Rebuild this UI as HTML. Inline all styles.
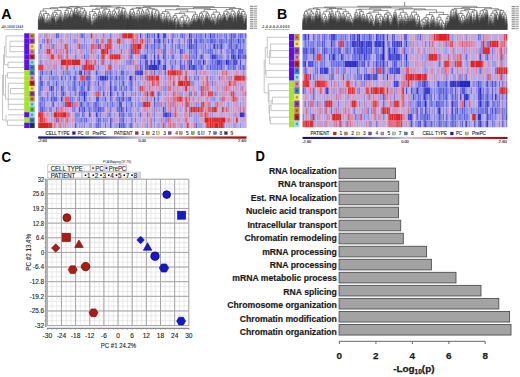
<!DOCTYPE html>
<html><head><meta charset="utf-8"><style>
html,body{margin:0;padding:0;background:#fff;}
body{width:520px;height:377px;position:relative;overflow:hidden;font-family:"Liberation Sans", sans-serif;}
</style></head><body>
<svg width="520" height="377" viewBox="0 0 520 377" style="position:absolute;left:0;top:0">
<g font-family='Liberation Sans, sans-serif' font-weight="bold" fill="#000">
<text transform="translate(1.3 18.5) scale(0.93 1)" font-size="15.4">A</text>
<text transform="translate(276.9 18.7) scale(0.95 1)" font-size="14.9">B</text>
<text transform="translate(1.5 161.5) scale(0.93 1)" font-size="14.2">C</text>
<text transform="translate(255.6 161.4) scale(0.93 1)" font-size="14">D</text>
</g>
<defs><filter id="bl" x="-1%" y="-2%" width="102%" height="104%"><feGaussianBlur stdDeviation="0.6 0.45"/></filter></defs>
<g filter="url(#bl)">
<path fill="#2828c0" d="M157.2 33.30h1.77v5.28h-1.77zM232.5 54.34h1.77v5.28h-1.77zM237.7 54.34h1.77v5.28h-1.77zM153.7 59.61h1.77v5.28h-1.77zM202.7 59.61h1.77v5.28h-1.77zM225.5 59.61h1.77v5.28h-1.77zM129.2 75.39h1.77v5.28h-1.77zM83.7 91.17h1.77v5.28h-1.77zM83.7 96.43h1.77v5.28h-1.77z"/>
<path fill="#3232c6" d="M188.7 33.30h1.77v5.28h-1.77zM153.7 38.56h1.77v5.28h-1.77zM213.2 43.82h1.77v5.28h-1.77zM153.7 54.34h1.77v5.28h-1.77zM211.5 54.34h1.77v5.28h-1.77zM159.0 59.61h1.77v5.28h-1.77zM152.0 64.87h1.77v5.28h-1.77zM153.7 64.87h1.77v5.28h-1.77zM155.5 64.87h1.77v5.28h-1.77zM164.2 64.87h1.77v5.28h-1.77zM188.7 64.87h1.77v5.28h-1.77zM80.2 70.13h1.77v5.28h-1.77zM101.2 75.39h1.77v5.28h-1.77zM104.7 75.39h1.77v5.28h-1.77zM110.0 91.17h1.77v5.28h-1.77zM239.5 112.22h1.77v5.28h-1.77zM241.2 112.22h1.77v5.28h-1.77z"/>
<path fill="#3b3dcd" d="M209.7 33.30h1.77v5.28h-1.77zM190.5 38.56h1.77v5.28h-1.77zM237.7 38.56h1.77v5.28h-1.77zM188.7 43.82h1.77v5.28h-1.77zM220.2 43.82h1.77v5.28h-1.77zM145.0 54.34h1.77v5.28h-1.77zM213.2 54.34h1.77v5.28h-1.77zM157.2 59.61h1.77v5.28h-1.77zM190.5 59.61h1.77v5.28h-1.77zM227.2 59.61h1.77v5.28h-1.77zM148.5 64.87h1.77v5.28h-1.77zM150.2 64.87h1.77v5.28h-1.77zM192.2 64.87h1.77v5.28h-1.77zM139.7 70.13h1.77v5.28h-1.77zM141.5 70.13h1.77v5.28h-1.77zM99.5 75.39h1.77v5.28h-1.77zM103.0 75.39h1.77v5.28h-1.77zM50.5 85.91h1.77v5.28h-1.77zM110.0 85.91h1.77v5.28h-1.77zM61.0 96.43h1.77v5.28h-1.77zM96.0 112.22h1.77v5.28h-1.77zM164.2 112.22h1.77v5.28h-1.77zM166.0 112.22h1.77v5.28h-1.77zM243.0 112.22h1.77v5.28h-1.77zM118.7 122.74h1.77v5.28h-1.77z"/>
<path fill="#4548d3" d="M139.7 33.30h1.77v5.28h-1.77zM146.7 33.30h1.77v5.28h-1.77zM162.5 33.30h1.77v5.28h-1.77zM164.2 33.30h1.77v5.28h-1.77zM159.0 38.56h1.77v5.28h-1.77zM188.7 38.56h1.77v5.28h-1.77zM195.7 38.56h1.77v5.28h-1.77zM190.5 43.82h1.77v5.28h-1.77zM195.7 43.82h1.77v5.28h-1.77zM180.0 49.08h1.77v5.28h-1.77zM157.2 54.34h1.77v5.28h-1.77zM162.5 54.34h1.77v5.28h-1.77zM201.0 54.34h1.77v5.28h-1.77zM230.7 54.34h1.77v5.28h-1.77zM150.2 59.61h1.77v5.28h-1.77zM216.7 59.61h1.77v5.28h-1.77zM218.5 59.61h1.77v5.28h-1.77zM236.0 59.61h1.77v5.28h-1.77zM239.5 59.61h1.77v5.28h-1.77zM146.7 64.87h1.77v5.28h-1.77zM157.2 64.87h1.77v5.28h-1.77zM162.5 64.87h1.77v5.28h-1.77zM194.0 64.87h1.77v5.28h-1.77zM50.5 70.13h1.77v5.28h-1.77zM136.2 70.13h1.77v5.28h-1.77zM138.0 70.13h1.77v5.28h-1.77zM106.5 75.39h1.77v5.28h-1.77zM61.0 85.91h1.77v5.28h-1.77zM62.7 91.17h1.77v5.28h-1.77zM146.7 91.17h1.77v5.28h-1.77zM50.5 96.43h1.77v5.28h-1.77zM122.2 96.43h1.77v5.28h-1.77zM129.2 96.43h1.77v5.28h-1.77zM153.7 96.43h1.77v5.28h-1.77zM80.2 101.69h1.77v5.28h-1.77zM78.5 106.96h1.77v5.28h-1.77zM83.7 106.96h1.77v5.28h-1.77zM97.7 106.96h1.77v5.28h-1.77zM120.5 106.96h1.77v5.28h-1.77zM162.5 106.96h1.77v5.28h-1.77zM89.0 112.22h1.77v5.28h-1.77zM169.5 112.22h1.77v5.28h-1.77z"/>
<path fill="#5154d8" d="M55.7 33.30h1.77v5.28h-1.77zM153.7 33.30h1.77v5.28h-1.77zM204.5 33.30h1.77v5.28h-1.77zM230.7 33.30h1.77v5.28h-1.77zM157.2 38.56h1.77v5.28h-1.77zM162.5 38.56h1.77v5.28h-1.77zM171.2 38.56h1.77v5.28h-1.77zM230.7 38.56h1.77v5.28h-1.77zM97.7 43.82h1.77v5.28h-1.77zM146.7 43.82h1.77v5.28h-1.77zM153.7 43.82h1.77v5.28h-1.77zM216.7 43.82h1.77v5.28h-1.77zM230.7 43.82h1.77v5.28h-1.77zM236.0 43.82h1.77v5.28h-1.77zM131.0 49.08h1.77v5.28h-1.77zM195.7 49.08h1.77v5.28h-1.77zM241.2 49.08h1.77v5.28h-1.77zM143.2 54.34h1.77v5.28h-1.77zM195.7 54.34h1.77v5.28h-1.77zM215.0 54.34h1.77v5.28h-1.77zM234.2 54.34h1.77v5.28h-1.77zM239.5 54.34h1.77v5.28h-1.77zM244.7 54.34h1.77v5.28h-1.77zM145.0 59.61h1.77v5.28h-1.77zM146.7 59.61h1.77v5.28h-1.77zM188.7 59.61h1.77v5.28h-1.77zM220.2 59.61h1.77v5.28h-1.77zM232.5 59.61h1.77v5.28h-1.77zM234.2 59.61h1.77v5.28h-1.77zM139.7 64.87h1.77v5.28h-1.77zM145.0 64.87h1.77v5.28h-1.77zM180.0 64.87h1.77v5.28h-1.77zM209.7 64.87h1.77v5.28h-1.77zM216.7 64.87h1.77v5.28h-1.77zM220.2 64.87h1.77v5.28h-1.77zM41.7 70.13h1.77v5.28h-1.77zM78.5 70.13h1.77v5.28h-1.77zM83.7 70.13h1.77v5.28h-1.77zM96.0 70.13h1.77v5.28h-1.77zM120.5 70.13h1.77v5.28h-1.77zM134.5 70.13h1.77v5.28h-1.77zM40.0 75.39h1.77v5.28h-1.77zM61.0 75.39h1.77v5.28h-1.77zM73.2 75.39h1.77v5.28h-1.77zM115.2 75.39h1.77v5.28h-1.77zM131.0 75.39h1.77v5.28h-1.77zM55.7 80.65h1.77v5.28h-1.77zM83.7 80.65h1.77v5.28h-1.77zM97.7 80.65h1.77v5.28h-1.77zM110.0 80.65h1.77v5.28h-1.77zM122.2 80.65h1.77v5.28h-1.77zM87.2 85.91h1.77v5.28h-1.77zM78.5 91.17h1.77v5.28h-1.77zM103.0 91.17h1.77v5.28h-1.77zM122.2 91.17h1.77v5.28h-1.77zM54.0 96.43h1.77v5.28h-1.77zM96.0 96.43h1.77v5.28h-1.77zM97.7 96.43h1.77v5.28h-1.77zM104.7 96.43h1.77v5.28h-1.77zM118.7 96.43h1.77v5.28h-1.77zM52.2 101.69h1.77v5.28h-1.77zM118.7 101.69h1.77v5.28h-1.77zM120.5 101.69h1.77v5.28h-1.77zM153.7 101.69h1.77v5.28h-1.77zM41.7 106.96h1.77v5.28h-1.77zM99.5 106.96h1.77v5.28h-1.77zM125.7 106.96h1.77v5.28h-1.77zM118.7 112.22h1.77v5.28h-1.77zM162.5 112.22h1.77v5.28h-1.77zM167.7 112.22h1.77v5.28h-1.77zM97.7 117.48h1.77v5.28h-1.77zM110.0 117.48h1.77v5.28h-1.77zM122.2 117.48h1.77v5.28h-1.77zM110.0 122.74h1.77v5.28h-1.77z"/>
<path fill="#5c60de" d="M57.5 33.30h1.77v5.28h-1.77zM181.7 33.30h1.77v5.28h-1.77zM190.5 33.30h1.77v5.28h-1.77zM213.2 33.30h1.77v5.28h-1.77zM239.5 33.30h1.77v5.28h-1.77zM244.7 33.30h1.77v5.28h-1.77zM167.7 38.56h1.77v5.28h-1.77zM194.0 38.56h1.77v5.28h-1.77zM199.2 38.56h1.77v5.28h-1.77zM209.7 38.56h1.77v5.28h-1.77zM211.5 38.56h1.77v5.28h-1.77zM220.2 38.56h1.77v5.28h-1.77zM243.0 38.56h1.77v5.28h-1.77zM164.2 43.82h1.77v5.28h-1.77zM178.2 43.82h1.77v5.28h-1.77zM153.7 49.08h1.77v5.28h-1.77zM209.7 49.08h1.77v5.28h-1.77zM230.7 49.08h1.77v5.28h-1.77zM232.5 49.08h1.77v5.28h-1.77zM237.7 49.08h1.77v5.28h-1.77zM239.5 49.08h1.77v5.28h-1.77zM83.7 54.34h1.77v5.28h-1.77zM131.0 54.34h1.77v5.28h-1.77zM188.7 54.34h1.77v5.28h-1.77zM243.0 54.34h1.77v5.28h-1.77zM139.7 59.61h1.77v5.28h-1.77zM180.0 59.61h1.77v5.28h-1.77zM197.5 59.61h1.77v5.28h-1.77zM211.5 59.61h1.77v5.28h-1.77zM171.2 64.87h1.77v5.28h-1.77zM183.5 64.87h1.77v5.28h-1.77zM190.5 64.87h1.77v5.28h-1.77zM201.0 64.87h1.77v5.28h-1.77zM232.5 64.87h1.77v5.28h-1.77zM239.5 64.87h1.77v5.28h-1.77zM243.0 64.87h1.77v5.28h-1.77zM122.2 70.13h1.77v5.28h-1.77zM153.7 70.13h1.77v5.28h-1.77zM164.2 70.13h1.77v5.28h-1.77zM69.7 75.39h1.77v5.28h-1.77zM85.5 75.39h1.77v5.28h-1.77zM87.2 75.39h1.77v5.28h-1.77zM89.0 75.39h1.77v5.28h-1.77zM110.0 75.39h1.77v5.28h-1.77zM40.0 80.65h1.77v5.28h-1.77zM41.7 80.65h1.77v5.28h-1.77zM73.2 80.65h1.77v5.28h-1.77zM78.5 80.65h1.77v5.28h-1.77zM131.0 80.65h1.77v5.28h-1.77zM52.2 85.91h1.77v5.28h-1.77zM73.2 85.91h1.77v5.28h-1.77zM120.5 85.91h1.77v5.28h-1.77zM82.0 91.17h1.77v5.28h-1.77zM157.2 91.17h1.77v5.28h-1.77zM41.7 96.43h1.77v5.28h-1.77zM55.7 96.43h1.77v5.28h-1.77zM78.5 96.43h1.77v5.28h-1.77zM110.0 96.43h1.77v5.28h-1.77zM64.5 101.69h1.77v5.28h-1.77zM94.2 101.69h1.77v5.28h-1.77zM40.0 106.96h1.77v5.28h-1.77zM118.7 106.96h1.77v5.28h-1.77zM122.2 112.22h1.77v5.28h-1.77zM139.7 112.22h1.77v5.28h-1.77zM55.7 117.48h1.77v5.28h-1.77zM85.5 117.48h1.77v5.28h-1.77zM75.0 122.74h1.77v5.28h-1.77zM97.7 122.74h1.77v5.28h-1.77zM122.2 122.74h1.77v5.28h-1.77zM195.7 122.74h1.77v5.28h-1.77z"/>
<path fill="#676ce2" d="M80.2 33.30h1.77v5.28h-1.77zM82.0 33.30h1.77v5.28h-1.77zM195.7 33.30h1.77v5.28h-1.77zM216.7 33.30h1.77v5.28h-1.77zM225.5 33.30h1.77v5.28h-1.77zM232.5 33.30h1.77v5.28h-1.77zM234.2 33.30h1.77v5.28h-1.77zM241.2 33.30h1.77v5.28h-1.77zM146.7 38.56h1.77v5.28h-1.77zM202.7 38.56h1.77v5.28h-1.77zM213.2 38.56h1.77v5.28h-1.77zM218.5 38.56h1.77v5.28h-1.77zM225.5 38.56h1.77v5.28h-1.77zM229.0 38.56h1.77v5.28h-1.77zM239.5 38.56h1.77v5.28h-1.77zM40.0 43.82h1.77v5.28h-1.77zM192.2 43.82h1.77v5.28h-1.77zM204.5 43.82h1.77v5.28h-1.77zM229.0 43.82h1.77v5.28h-1.77zM239.5 43.82h1.77v5.28h-1.77zM146.7 49.08h1.77v5.28h-1.77zM162.5 49.08h1.77v5.28h-1.77zM164.2 49.08h1.77v5.28h-1.77zM181.7 49.08h1.77v5.28h-1.77zM188.7 49.08h1.77v5.28h-1.77zM211.5 49.08h1.77v5.28h-1.77zM220.2 49.08h1.77v5.28h-1.77zM164.2 54.34h1.77v5.28h-1.77zM171.2 54.34h1.77v5.28h-1.77zM209.7 54.34h1.77v5.28h-1.77zM216.7 54.34h1.77v5.28h-1.77zM227.2 54.34h1.77v5.28h-1.77zM129.2 59.61h1.77v5.28h-1.77zM164.2 59.61h1.77v5.28h-1.77zM174.7 59.61h1.77v5.28h-1.77zM199.2 59.61h1.77v5.28h-1.77zM215.0 59.61h1.77v5.28h-1.77zM82.0 64.87h1.77v5.28h-1.77zM181.7 64.87h1.77v5.28h-1.77zM195.7 64.87h1.77v5.28h-1.77zM213.2 64.87h1.77v5.28h-1.77zM227.2 64.87h1.77v5.28h-1.77zM234.2 64.87h1.77v5.28h-1.77zM62.7 70.13h1.77v5.28h-1.77zM89.0 70.13h1.77v5.28h-1.77zM104.7 70.13h1.77v5.28h-1.77zM110.0 70.13h1.77v5.28h-1.77zM195.7 70.13h1.77v5.28h-1.77zM52.2 75.39h1.77v5.28h-1.77zM64.5 75.39h1.77v5.28h-1.77zM75.0 75.39h1.77v5.28h-1.77zM97.7 75.39h1.77v5.28h-1.77zM118.7 75.39h1.77v5.28h-1.77zM122.2 75.39h1.77v5.28h-1.77zM134.5 75.39h1.77v5.28h-1.77zM197.5 75.39h1.77v5.28h-1.77zM87.2 80.65h1.77v5.28h-1.77zM89.0 80.65h1.77v5.28h-1.77zM40.0 85.91h1.77v5.28h-1.77zM48.7 85.91h1.77v5.28h-1.77zM80.2 85.91h1.77v5.28h-1.77zM82.0 85.91h1.77v5.28h-1.77zM113.5 85.91h1.77v5.28h-1.77zM115.2 85.91h1.77v5.28h-1.77zM125.7 85.91h1.77v5.28h-1.77zM131.0 85.91h1.77v5.28h-1.77zM61.0 91.17h1.77v5.28h-1.77zM80.2 91.17h1.77v5.28h-1.77zM85.5 91.17h1.77v5.28h-1.77zM117.0 91.17h1.77v5.28h-1.77zM188.7 91.17h1.77v5.28h-1.77zM69.7 96.43h1.77v5.28h-1.77zM127.5 96.43h1.77v5.28h-1.77zM157.2 96.43h1.77v5.28h-1.77zM40.0 101.69h1.77v5.28h-1.77zM71.5 101.69h1.77v5.28h-1.77zM87.2 101.69h1.77v5.28h-1.77zM96.0 101.69h1.77v5.28h-1.77zM111.7 101.69h1.77v5.28h-1.77zM131.0 101.69h1.77v5.28h-1.77zM55.7 106.96h1.77v5.28h-1.77zM82.0 106.96h1.77v5.28h-1.77zM89.0 106.96h1.77v5.28h-1.77zM94.2 106.96h1.77v5.28h-1.77zM117.0 106.96h1.77v5.28h-1.77zM122.2 106.96h1.77v5.28h-1.77zM82.0 112.22h1.77v5.28h-1.77zM146.7 112.22h1.77v5.28h-1.77zM80.2 117.48h1.77v5.28h-1.77zM83.7 117.48h1.77v5.28h-1.77zM99.5 117.48h1.77v5.28h-1.77zM96.0 122.74h1.77v5.28h-1.77zM104.7 122.74h1.77v5.28h-1.77zM120.5 122.74h1.77v5.28h-1.77zM124.0 122.74h1.77v5.28h-1.77zM129.2 122.74h1.77v5.28h-1.77zM131.0 122.74h1.77v5.28h-1.77z"/>
<path fill="#7578e4" d="M110.0 33.30h1.77v5.28h-1.77zM148.5 33.30h1.77v5.28h-1.77zM171.2 33.30h1.77v5.28h-1.77zM173.0 33.30h1.77v5.28h-1.77zM180.0 33.30h1.77v5.28h-1.77zM183.5 33.30h1.77v5.28h-1.77zM199.2 33.30h1.77v5.28h-1.77zM201.0 33.30h1.77v5.28h-1.77zM211.5 33.30h1.77v5.28h-1.77zM223.7 33.30h1.77v5.28h-1.77zM237.7 33.30h1.77v5.28h-1.77zM43.5 38.56h1.77v5.28h-1.77zM50.5 38.56h1.77v5.28h-1.77zM96.0 38.56h1.77v5.28h-1.77zM178.2 38.56h1.77v5.28h-1.77zM183.5 38.56h1.77v5.28h-1.77zM201.0 38.56h1.77v5.28h-1.77zM206.2 38.56h1.77v5.28h-1.77zM215.0 38.56h1.77v5.28h-1.77zM232.5 38.56h1.77v5.28h-1.77zM52.2 43.82h1.77v5.28h-1.77zM145.0 43.82h1.77v5.28h-1.77zM150.2 43.82h1.77v5.28h-1.77zM157.2 43.82h1.77v5.28h-1.77zM159.0 43.82h1.77v5.28h-1.77zM171.2 43.82h1.77v5.28h-1.77zM174.7 43.82h1.77v5.28h-1.77zM194.0 43.82h1.77v5.28h-1.77zM209.7 43.82h1.77v5.28h-1.77zM234.2 43.82h1.77v5.28h-1.77zM110.0 49.08h1.77v5.28h-1.77zM120.5 49.08h1.77v5.28h-1.77zM190.5 49.08h1.77v5.28h-1.77zM194.0 49.08h1.77v5.28h-1.77zM202.7 49.08h1.77v5.28h-1.77zM208.0 49.08h1.77v5.28h-1.77zM234.2 49.08h1.77v5.28h-1.77zM75.0 54.34h1.77v5.28h-1.77zM97.7 54.34h1.77v5.28h-1.77zM129.2 54.34h1.77v5.28h-1.77zM139.7 54.34h1.77v5.28h-1.77zM141.5 54.34h1.77v5.28h-1.77zM173.0 54.34h1.77v5.28h-1.77zM180.0 54.34h1.77v5.28h-1.77zM192.2 54.34h1.77v5.28h-1.77zM199.2 54.34h1.77v5.28h-1.77zM241.2 54.34h1.77v5.28h-1.77zM103.0 59.61h1.77v5.28h-1.77zM169.5 59.61h1.77v5.28h-1.77zM183.5 59.61h1.77v5.28h-1.77zM187.0 59.61h1.77v5.28h-1.77zM204.5 59.61h1.77v5.28h-1.77zM229.0 59.61h1.77v5.28h-1.77zM230.7 59.61h1.77v5.28h-1.77zM97.7 64.87h1.77v5.28h-1.77zM141.5 64.87h1.77v5.28h-1.77zM199.2 64.87h1.77v5.28h-1.77zM206.2 64.87h1.77v5.28h-1.77zM211.5 64.87h1.77v5.28h-1.77zM215.0 64.87h1.77v5.28h-1.77zM218.5 64.87h1.77v5.28h-1.77zM40.0 70.13h1.77v5.28h-1.77zM66.2 70.13h1.77v5.28h-1.77zM75.0 70.13h1.77v5.28h-1.77zM87.2 70.13h1.77v5.28h-1.77zM106.5 70.13h1.77v5.28h-1.77zM48.7 75.39h1.77v5.28h-1.77zM188.7 75.39h1.77v5.28h-1.77zM194.0 75.39h1.77v5.28h-1.77zM218.5 75.39h1.77v5.28h-1.77zM82.0 80.65h1.77v5.28h-1.77zM118.7 80.65h1.77v5.28h-1.77zM129.2 80.65h1.77v5.28h-1.77zM211.5 80.65h1.77v5.28h-1.77zM55.7 85.91h1.77v5.28h-1.77zM62.7 85.91h1.77v5.28h-1.77zM75.0 85.91h1.77v5.28h-1.77zM83.7 85.91h1.77v5.28h-1.77zM124.0 85.91h1.77v5.28h-1.77zM129.2 85.91h1.77v5.28h-1.77zM47.0 91.17h1.77v5.28h-1.77zM52.2 91.17h1.77v5.28h-1.77zM55.7 91.17h1.77v5.28h-1.77zM69.7 91.17h1.77v5.28h-1.77zM75.0 91.17h1.77v5.28h-1.77zM190.5 91.17h1.77v5.28h-1.77zM40.0 96.43h1.77v5.28h-1.77zM43.5 96.43h1.77v5.28h-1.77zM47.0 96.43h1.77v5.28h-1.77zM52.2 96.43h1.77v5.28h-1.77zM71.5 96.43h1.77v5.28h-1.77zM117.0 96.43h1.77v5.28h-1.77zM120.5 96.43h1.77v5.28h-1.77zM125.7 96.43h1.77v5.28h-1.77zM146.7 96.43h1.77v5.28h-1.77zM188.7 96.43h1.77v5.28h-1.77zM43.5 101.69h1.77v5.28h-1.77zM97.7 101.69h1.77v5.28h-1.77zM106.5 101.69h1.77v5.28h-1.77zM125.7 101.69h1.77v5.28h-1.77zM43.5 106.96h1.77v5.28h-1.77zM73.2 106.96h1.77v5.28h-1.77zM96.0 106.96h1.77v5.28h-1.77zM101.2 106.96h1.77v5.28h-1.77zM103.0 106.96h1.77v5.28h-1.77zM110.0 106.96h1.77v5.28h-1.77zM164.2 106.96h1.77v5.28h-1.77zM188.7 106.96h1.77v5.28h-1.77zM99.5 112.22h1.77v5.28h-1.77zM108.2 112.22h1.77v5.28h-1.77zM120.5 112.22h1.77v5.28h-1.77zM129.2 112.22h1.77v5.28h-1.77zM188.7 112.22h1.77v5.28h-1.77zM103.0 117.48h1.77v5.28h-1.77zM131.0 117.48h1.77v5.28h-1.77zM134.5 117.48h1.77v5.28h-1.77zM153.7 117.48h1.77v5.28h-1.77zM99.5 122.74h1.77v5.28h-1.77z"/>
<path fill="#8384e6" d="M83.7 33.30h1.77v5.28h-1.77zM103.0 33.30h1.77v5.28h-1.77zM152.0 33.30h1.77v5.28h-1.77zM159.0 33.30h1.77v5.28h-1.77zM176.5 33.30h1.77v5.28h-1.77zM197.5 33.30h1.77v5.28h-1.77zM229.0 33.30h1.77v5.28h-1.77zM41.7 38.56h1.77v5.28h-1.77zM73.2 38.56h1.77v5.28h-1.77zM83.7 38.56h1.77v5.28h-1.77zM97.7 38.56h1.77v5.28h-1.77zM106.5 38.56h1.77v5.28h-1.77zM148.5 38.56h1.77v5.28h-1.77zM155.5 38.56h1.77v5.28h-1.77zM164.2 38.56h1.77v5.28h-1.77zM187.0 38.56h1.77v5.28h-1.77zM208.0 38.56h1.77v5.28h-1.77zM222.0 38.56h1.77v5.28h-1.77zM223.7 38.56h1.77v5.28h-1.77zM234.2 38.56h1.77v5.28h-1.77zM236.0 38.56h1.77v5.28h-1.77zM241.2 38.56h1.77v5.28h-1.77zM82.0 43.82h1.77v5.28h-1.77zM85.5 43.82h1.77v5.28h-1.77zM118.7 43.82h1.77v5.28h-1.77zM129.2 43.82h1.77v5.28h-1.77zM152.0 43.82h1.77v5.28h-1.77zM162.5 43.82h1.77v5.28h-1.77zM183.5 43.82h1.77v5.28h-1.77zM187.0 43.82h1.77v5.28h-1.77zM201.0 43.82h1.77v5.28h-1.77zM215.0 43.82h1.77v5.28h-1.77zM218.5 43.82h1.77v5.28h-1.77zM222.0 43.82h1.77v5.28h-1.77zM227.2 43.82h1.77v5.28h-1.77zM232.5 43.82h1.77v5.28h-1.77zM243.0 43.82h1.77v5.28h-1.77zM55.7 49.08h1.77v5.28h-1.77zM69.7 49.08h1.77v5.28h-1.77zM129.2 49.08h1.77v5.28h-1.77zM171.2 49.08h1.77v5.28h-1.77zM174.7 49.08h1.77v5.28h-1.77zM183.5 49.08h1.77v5.28h-1.77zM215.0 49.08h1.77v5.28h-1.77zM225.5 49.08h1.77v5.28h-1.77zM227.2 49.08h1.77v5.28h-1.77zM61.0 54.34h1.77v5.28h-1.77zM87.2 54.34h1.77v5.28h-1.77zM146.7 54.34h1.77v5.28h-1.77zM190.5 54.34h1.77v5.28h-1.77zM194.0 54.34h1.77v5.28h-1.77zM202.7 54.34h1.77v5.28h-1.77zM218.5 54.34h1.77v5.28h-1.77zM220.2 54.34h1.77v5.28h-1.77zM40.0 59.61h1.77v5.28h-1.77zM110.0 59.61h1.77v5.28h-1.77zM194.0 59.61h1.77v5.28h-1.77zM195.7 59.61h1.77v5.28h-1.77zM209.7 59.61h1.77v5.28h-1.77zM213.2 59.61h1.77v5.28h-1.77zM222.0 59.61h1.77v5.28h-1.77zM223.7 59.61h1.77v5.28h-1.77zM61.0 64.87h1.77v5.28h-1.77zM73.2 64.87h1.77v5.28h-1.77zM134.5 64.87h1.77v5.28h-1.77zM197.5 64.87h1.77v5.28h-1.77zM229.0 64.87h1.77v5.28h-1.77zM230.7 64.87h1.77v5.28h-1.77zM237.7 64.87h1.77v5.28h-1.77zM241.2 64.87h1.77v5.28h-1.77zM45.2 70.13h1.77v5.28h-1.77zM108.2 70.13h1.77v5.28h-1.77zM115.2 70.13h1.77v5.28h-1.77zM150.2 70.13h1.77v5.28h-1.77zM96.0 75.39h1.77v5.28h-1.77zM111.7 75.39h1.77v5.28h-1.77zM120.5 75.39h1.77v5.28h-1.77zM139.7 75.39h1.77v5.28h-1.77zM145.0 75.39h1.77v5.28h-1.77zM209.7 75.39h1.77v5.28h-1.77zM230.7 75.39h1.77v5.28h-1.77zM47.0 80.65h1.77v5.28h-1.77zM48.7 80.65h1.77v5.28h-1.77zM52.2 80.65h1.77v5.28h-1.77zM62.7 80.65h1.77v5.28h-1.77zM75.0 80.65h1.77v5.28h-1.77zM94.2 80.65h1.77v5.28h-1.77zM103.0 80.65h1.77v5.28h-1.77zM38.2 85.91h1.77v5.28h-1.77zM41.7 85.91h1.77v5.28h-1.77zM71.5 85.91h1.77v5.28h-1.77zM89.0 85.91h1.77v5.28h-1.77zM97.7 85.91h1.77v5.28h-1.77zM99.5 85.91h1.77v5.28h-1.77zM118.7 85.91h1.77v5.28h-1.77zM164.2 85.91h1.77v5.28h-1.77zM38.2 91.17h1.77v5.28h-1.77zM40.0 91.17h1.77v5.28h-1.77zM50.5 91.17h1.77v5.28h-1.77zM64.5 91.17h1.77v5.28h-1.77zM106.5 91.17h1.77v5.28h-1.77zM111.7 91.17h1.77v5.28h-1.77zM131.0 91.17h1.77v5.28h-1.77zM134.5 91.17h1.77v5.28h-1.77zM139.7 91.17h1.77v5.28h-1.77zM159.0 91.17h1.77v5.28h-1.77zM195.7 91.17h1.77v5.28h-1.77zM202.7 91.17h1.77v5.28h-1.77zM215.0 91.17h1.77v5.28h-1.77zM76.7 96.43h1.77v5.28h-1.77zM85.5 96.43h1.77v5.28h-1.77zM115.2 96.43h1.77v5.28h-1.77zM213.2 96.43h1.77v5.28h-1.77zM41.7 101.69h1.77v5.28h-1.77zM62.7 101.69h1.77v5.28h-1.77zM82.0 101.69h1.77v5.28h-1.77zM85.5 101.69h1.77v5.28h-1.77zM92.5 101.69h1.77v5.28h-1.77zM110.0 101.69h1.77v5.28h-1.77zM134.5 101.69h1.77v5.28h-1.77zM164.2 101.69h1.77v5.28h-1.77zM195.7 101.69h1.77v5.28h-1.77zM48.7 106.96h1.77v5.28h-1.77zM50.5 106.96h1.77v5.28h-1.77zM71.5 106.96h1.77v5.28h-1.77zM80.2 106.96h1.77v5.28h-1.77zM87.2 106.96h1.77v5.28h-1.77zM92.5 106.96h1.77v5.28h-1.77zM129.2 106.96h1.77v5.28h-1.77zM153.7 106.96h1.77v5.28h-1.77zM75.0 112.22h1.77v5.28h-1.77zM76.7 112.22h1.77v5.28h-1.77zM78.5 112.22h1.77v5.28h-1.77zM83.7 112.22h1.77v5.28h-1.77zM110.0 112.22h1.77v5.28h-1.77zM127.5 112.22h1.77v5.28h-1.77zM131.0 112.22h1.77v5.28h-1.77zM153.7 112.22h1.77v5.28h-1.77zM61.0 117.48h1.77v5.28h-1.77zM75.0 117.48h1.77v5.28h-1.77zM96.0 117.48h1.77v5.28h-1.77zM118.7 117.48h1.77v5.28h-1.77zM120.5 117.48h1.77v5.28h-1.77zM166.0 117.48h1.77v5.28h-1.77zM83.7 122.74h1.77v5.28h-1.77zM146.7 122.74h1.77v5.28h-1.77z"/>
<path fill="#9190e7" d="M69.7 33.30h1.77v5.28h-1.77zM145.0 33.30h1.77v5.28h-1.77zM150.2 33.30h1.77v5.28h-1.77zM192.2 33.30h1.77v5.28h-1.77zM194.0 33.30h1.77v5.28h-1.77zM208.0 33.30h1.77v5.28h-1.77zM218.5 33.30h1.77v5.28h-1.77zM220.2 33.30h1.77v5.28h-1.77zM61.0 38.56h1.77v5.28h-1.77zM69.7 38.56h1.77v5.28h-1.77zM75.0 38.56h1.77v5.28h-1.77zM103.0 38.56h1.77v5.28h-1.77zM134.5 38.56h1.77v5.28h-1.77zM145.0 38.56h1.77v5.28h-1.77zM197.5 38.56h1.77v5.28h-1.77zM204.5 38.56h1.77v5.28h-1.77zM216.7 38.56h1.77v5.28h-1.77zM227.2 38.56h1.77v5.28h-1.77zM50.5 43.82h1.77v5.28h-1.77zM69.7 43.82h1.77v5.28h-1.77zM80.2 43.82h1.77v5.28h-1.77zM83.7 43.82h1.77v5.28h-1.77zM125.7 43.82h1.77v5.28h-1.77zM155.5 43.82h1.77v5.28h-1.77zM176.5 43.82h1.77v5.28h-1.77zM181.7 43.82h1.77v5.28h-1.77zM202.7 43.82h1.77v5.28h-1.77zM208.0 43.82h1.77v5.28h-1.77zM237.7 43.82h1.77v5.28h-1.77zM62.7 49.08h1.77v5.28h-1.77zM85.5 49.08h1.77v5.28h-1.77zM139.7 49.08h1.77v5.28h-1.77zM150.2 49.08h1.77v5.28h-1.77zM152.0 49.08h1.77v5.28h-1.77zM160.7 49.08h1.77v5.28h-1.77zM192.2 49.08h1.77v5.28h-1.77zM204.5 49.08h1.77v5.28h-1.77zM206.2 49.08h1.77v5.28h-1.77zM229.0 49.08h1.77v5.28h-1.77zM243.0 49.08h1.77v5.28h-1.77zM244.7 49.08h1.77v5.28h-1.77zM85.5 54.34h1.77v5.28h-1.77zM150.2 54.34h1.77v5.28h-1.77zM167.7 54.34h1.77v5.28h-1.77zM222.0 54.34h1.77v5.28h-1.77zM225.5 54.34h1.77v5.28h-1.77zM236.0 54.34h1.77v5.28h-1.77zM89.0 59.61h1.77v5.28h-1.77zM97.7 59.61h1.77v5.28h-1.77zM125.7 59.61h1.77v5.28h-1.77zM127.5 59.61h1.77v5.28h-1.77zM131.0 59.61h1.77v5.28h-1.77zM152.0 59.61h1.77v5.28h-1.77zM171.2 59.61h1.77v5.28h-1.77zM244.7 59.61h1.77v5.28h-1.77zM55.7 64.87h1.77v5.28h-1.77zM118.7 64.87h1.77v5.28h-1.77zM159.0 64.87h1.77v5.28h-1.77zM160.7 64.87h1.77v5.28h-1.77zM187.0 64.87h1.77v5.28h-1.77zM202.7 64.87h1.77v5.28h-1.77zM208.0 64.87h1.77v5.28h-1.77zM222.0 64.87h1.77v5.28h-1.77zM223.7 64.87h1.77v5.28h-1.77zM244.7 64.87h1.77v5.28h-1.77zM48.7 70.13h1.77v5.28h-1.77zM55.7 70.13h1.77v5.28h-1.77zM64.5 70.13h1.77v5.28h-1.77zM68.0 70.13h1.77v5.28h-1.77zM69.7 70.13h1.77v5.28h-1.77zM111.7 70.13h1.77v5.28h-1.77zM125.7 70.13h1.77v5.28h-1.77zM127.5 70.13h1.77v5.28h-1.77zM157.2 70.13h1.77v5.28h-1.77zM159.0 70.13h1.77v5.28h-1.77zM216.7 70.13h1.77v5.28h-1.77zM243.0 70.13h1.77v5.28h-1.77zM50.5 75.39h1.77v5.28h-1.77zM54.0 75.39h1.77v5.28h-1.77zM55.7 75.39h1.77v5.28h-1.77zM57.5 75.39h1.77v5.28h-1.77zM68.0 75.39h1.77v5.28h-1.77zM113.5 75.39h1.77v5.28h-1.77zM117.0 75.39h1.77v5.28h-1.77zM125.7 75.39h1.77v5.28h-1.77zM164.2 75.39h1.77v5.28h-1.77zM195.7 75.39h1.77v5.28h-1.77zM211.5 75.39h1.77v5.28h-1.77zM227.2 75.39h1.77v5.28h-1.77zM38.2 80.65h1.77v5.28h-1.77zM57.5 80.65h1.77v5.28h-1.77zM68.0 80.65h1.77v5.28h-1.77zM71.5 80.65h1.77v5.28h-1.77zM80.2 80.65h1.77v5.28h-1.77zM101.2 80.65h1.77v5.28h-1.77zM113.5 80.65h1.77v5.28h-1.77zM115.2 80.65h1.77v5.28h-1.77zM134.5 80.65h1.77v5.28h-1.77zM138.0 80.65h1.77v5.28h-1.77zM190.5 80.65h1.77v5.28h-1.77zM192.2 80.65h1.77v5.28h-1.77zM57.5 85.91h1.77v5.28h-1.77zM68.0 85.91h1.77v5.28h-1.77zM69.7 85.91h1.77v5.28h-1.77zM78.5 85.91h1.77v5.28h-1.77zM101.2 85.91h1.77v5.28h-1.77zM103.0 85.91h1.77v5.28h-1.77zM138.0 85.91h1.77v5.28h-1.77zM162.5 85.91h1.77v5.28h-1.77zM188.7 85.91h1.77v5.28h-1.77zM199.2 85.91h1.77v5.28h-1.77zM204.5 85.91h1.77v5.28h-1.77zM94.2 91.17h1.77v5.28h-1.77zM99.5 91.17h1.77v5.28h-1.77zM120.5 91.17h1.77v5.28h-1.77zM125.7 91.17h1.77v5.28h-1.77zM164.2 91.17h1.77v5.28h-1.77zM73.2 96.43h1.77v5.28h-1.77zM82.0 96.43h1.77v5.28h-1.77zM89.0 96.43h1.77v5.28h-1.77zM101.2 96.43h1.77v5.28h-1.77zM103.0 96.43h1.77v5.28h-1.77zM111.7 96.43h1.77v5.28h-1.77zM124.0 96.43h1.77v5.28h-1.77zM134.5 96.43h1.77v5.28h-1.77zM138.0 96.43h1.77v5.28h-1.77zM38.2 101.69h1.77v5.28h-1.77zM57.5 101.69h1.77v5.28h-1.77zM78.5 101.69h1.77v5.28h-1.77zM83.7 101.69h1.77v5.28h-1.77zM99.5 101.69h1.77v5.28h-1.77zM113.5 101.69h1.77v5.28h-1.77zM117.0 101.69h1.77v5.28h-1.77zM129.2 101.69h1.77v5.28h-1.77zM138.0 101.69h1.77v5.28h-1.77zM139.7 101.69h1.77v5.28h-1.77zM141.5 101.69h1.77v5.28h-1.77zM155.5 101.69h1.77v5.28h-1.77zM157.2 101.69h1.77v5.28h-1.77zM159.0 101.69h1.77v5.28h-1.77zM171.2 101.69h1.77v5.28h-1.77zM188.7 101.69h1.77v5.28h-1.77zM197.5 101.69h1.77v5.28h-1.77zM209.7 101.69h1.77v5.28h-1.77zM227.2 101.69h1.77v5.28h-1.77zM239.5 101.69h1.77v5.28h-1.77zM45.2 106.96h1.77v5.28h-1.77zM90.7 106.96h1.77v5.28h-1.77zM138.0 106.96h1.77v5.28h-1.77zM202.7 106.96h1.77v5.28h-1.77zM50.5 112.22h1.77v5.28h-1.77zM97.7 112.22h1.77v5.28h-1.77zM106.5 112.22h1.77v5.28h-1.77zM113.5 112.22h1.77v5.28h-1.77zM124.0 112.22h1.77v5.28h-1.77zM134.5 112.22h1.77v5.28h-1.77zM171.2 112.22h1.77v5.28h-1.77zM190.5 112.22h1.77v5.28h-1.77zM195.7 112.22h1.77v5.28h-1.77zM211.5 112.22h1.77v5.28h-1.77zM234.2 112.22h1.77v5.28h-1.77zM76.7 117.48h1.77v5.28h-1.77zM78.5 117.48h1.77v5.28h-1.77zM82.0 117.48h1.77v5.28h-1.77zM104.7 117.48h1.77v5.28h-1.77zM106.5 117.48h1.77v5.28h-1.77zM111.7 117.48h1.77v5.28h-1.77zM125.7 117.48h1.77v5.28h-1.77zM146.7 117.48h1.77v5.28h-1.77zM164.2 117.48h1.77v5.28h-1.77zM195.7 117.48h1.77v5.28h-1.77zM78.5 122.74h1.77v5.28h-1.77zM89.0 122.74h1.77v5.28h-1.77zM90.7 122.74h1.77v5.28h-1.77zM94.2 122.74h1.77v5.28h-1.77zM115.2 122.74h1.77v5.28h-1.77zM153.7 122.74h1.77v5.28h-1.77zM157.2 122.74h1.77v5.28h-1.77zM164.2 122.74h1.77v5.28h-1.77zM239.5 122.74h1.77v5.28h-1.77z"/>
<path fill="#a09be8" d="M43.5 33.30h1.77v5.28h-1.77zM61.0 33.30h1.77v5.28h-1.77zM118.7 33.30h1.77v5.28h-1.77zM120.5 33.30h1.77v5.28h-1.77zM134.5 33.30h1.77v5.28h-1.77zM141.5 33.30h1.77v5.28h-1.77zM166.0 33.30h1.77v5.28h-1.77zM174.7 33.30h1.77v5.28h-1.77zM202.7 33.30h1.77v5.28h-1.77zM206.2 33.30h1.77v5.28h-1.77zM215.0 33.30h1.77v5.28h-1.77zM222.0 33.30h1.77v5.28h-1.77zM243.0 33.30h1.77v5.28h-1.77zM48.7 38.56h1.77v5.28h-1.77zM55.7 38.56h1.77v5.28h-1.77zM122.2 38.56h1.77v5.28h-1.77zM244.7 38.56h1.77v5.28h-1.77zM47.0 43.82h1.77v5.28h-1.77zM55.7 43.82h1.77v5.28h-1.77zM61.0 43.82h1.77v5.28h-1.77zM103.0 43.82h1.77v5.28h-1.77zM122.2 43.82h1.77v5.28h-1.77zM148.5 43.82h1.77v5.28h-1.77zM169.5 43.82h1.77v5.28h-1.77zM180.0 43.82h1.77v5.28h-1.77zM197.5 43.82h1.77v5.28h-1.77zM199.2 43.82h1.77v5.28h-1.77zM211.5 43.82h1.77v5.28h-1.77zM223.7 43.82h1.77v5.28h-1.77zM241.2 43.82h1.77v5.28h-1.77zM244.7 43.82h1.77v5.28h-1.77zM38.2 49.08h1.77v5.28h-1.77zM50.5 49.08h1.77v5.28h-1.77zM75.0 49.08h1.77v5.28h-1.77zM87.2 49.08h1.77v5.28h-1.77zM94.2 49.08h1.77v5.28h-1.77zM113.5 49.08h1.77v5.28h-1.77zM143.2 49.08h1.77v5.28h-1.77zM145.0 49.08h1.77v5.28h-1.77zM148.5 49.08h1.77v5.28h-1.77zM173.0 49.08h1.77v5.28h-1.77zM178.2 49.08h1.77v5.28h-1.77zM197.5 49.08h1.77v5.28h-1.77zM201.0 49.08h1.77v5.28h-1.77zM216.7 49.08h1.77v5.28h-1.77zM236.0 49.08h1.77v5.28h-1.77zM40.0 54.34h1.77v5.28h-1.77zM62.7 54.34h1.77v5.28h-1.77zM80.2 54.34h1.77v5.28h-1.77zM96.0 54.34h1.77v5.28h-1.77zM159.0 54.34h1.77v5.28h-1.77zM45.2 59.61h1.77v5.28h-1.77zM141.5 59.61h1.77v5.28h-1.77zM143.2 59.61h1.77v5.28h-1.77zM155.5 59.61h1.77v5.28h-1.77zM162.5 59.61h1.77v5.28h-1.77zM173.0 59.61h1.77v5.28h-1.77zM178.2 59.61h1.77v5.28h-1.77zM201.0 59.61h1.77v5.28h-1.77zM208.0 59.61h1.77v5.28h-1.77zM52.2 64.87h1.77v5.28h-1.77zM78.5 64.87h1.77v5.28h-1.77zM96.0 64.87h1.77v5.28h-1.77zM113.5 64.87h1.77v5.28h-1.77zM120.5 64.87h1.77v5.28h-1.77zM122.2 64.87h1.77v5.28h-1.77zM173.0 64.87h1.77v5.28h-1.77zM174.7 64.87h1.77v5.28h-1.77zM43.5 70.13h1.77v5.28h-1.77zM47.0 70.13h1.77v5.28h-1.77zM54.0 70.13h1.77v5.28h-1.77zM61.0 70.13h1.77v5.28h-1.77zM73.2 70.13h1.77v5.28h-1.77zM76.7 70.13h1.77v5.28h-1.77zM94.2 70.13h1.77v5.28h-1.77zM97.7 70.13h1.77v5.28h-1.77zM99.5 70.13h1.77v5.28h-1.77zM113.5 70.13h1.77v5.28h-1.77zM118.7 70.13h1.77v5.28h-1.77zM124.0 70.13h1.77v5.28h-1.77zM131.0 70.13h1.77v5.28h-1.77zM146.7 70.13h1.77v5.28h-1.77zM213.2 70.13h1.77v5.28h-1.77zM38.2 75.39h1.77v5.28h-1.77zM41.7 75.39h1.77v5.28h-1.77zM62.7 75.39h1.77v5.28h-1.77zM108.2 75.39h1.77v5.28h-1.77zM190.5 75.39h1.77v5.28h-1.77zM213.2 75.39h1.77v5.28h-1.77zM220.2 75.39h1.77v5.28h-1.77zM43.5 80.65h1.77v5.28h-1.77zM54.0 80.65h1.77v5.28h-1.77zM61.0 80.65h1.77v5.28h-1.77zM66.2 80.65h1.77v5.28h-1.77zM69.7 80.65h1.77v5.28h-1.77zM76.7 80.65h1.77v5.28h-1.77zM85.5 80.65h1.77v5.28h-1.77zM96.0 80.65h1.77v5.28h-1.77zM104.7 80.65h1.77v5.28h-1.77zM120.5 80.65h1.77v5.28h-1.77zM124.0 80.65h1.77v5.28h-1.77zM127.5 80.65h1.77v5.28h-1.77zM146.7 80.65h1.77v5.28h-1.77zM164.2 80.65h1.77v5.28h-1.77zM197.5 80.65h1.77v5.28h-1.77zM209.7 80.65h1.77v5.28h-1.77zM215.0 80.65h1.77v5.28h-1.77zM237.7 80.65h1.77v5.28h-1.77zM64.5 85.91h1.77v5.28h-1.77zM94.2 85.91h1.77v5.28h-1.77zM96.0 85.91h1.77v5.28h-1.77zM104.7 85.91h1.77v5.28h-1.77zM111.7 85.91h1.77v5.28h-1.77zM122.2 85.91h1.77v5.28h-1.77zM134.5 85.91h1.77v5.28h-1.77zM166.0 85.91h1.77v5.28h-1.77zM197.5 85.91h1.77v5.28h-1.77zM211.5 85.91h1.77v5.28h-1.77zM222.0 85.91h1.77v5.28h-1.77zM232.5 85.91h1.77v5.28h-1.77zM239.5 85.91h1.77v5.28h-1.77zM73.2 91.17h1.77v5.28h-1.77zM87.2 91.17h1.77v5.28h-1.77zM113.5 91.17h1.77v5.28h-1.77zM132.7 91.17h1.77v5.28h-1.77zM138.0 91.17h1.77v5.28h-1.77zM153.7 91.17h1.77v5.28h-1.77zM160.7 91.17h1.77v5.28h-1.77zM176.5 91.17h1.77v5.28h-1.77zM180.0 91.17h1.77v5.28h-1.77zM181.7 91.17h1.77v5.28h-1.77zM213.2 91.17h1.77v5.28h-1.77zM234.2 91.17h1.77v5.28h-1.77zM38.2 96.43h1.77v5.28h-1.77zM45.2 96.43h1.77v5.28h-1.77zM57.5 96.43h1.77v5.28h-1.77zM62.7 96.43h1.77v5.28h-1.77zM80.2 96.43h1.77v5.28h-1.77zM99.5 96.43h1.77v5.28h-1.77zM131.0 96.43h1.77v5.28h-1.77zM145.0 96.43h1.77v5.28h-1.77zM209.7 96.43h1.77v5.28h-1.77zM211.5 96.43h1.77v5.28h-1.77zM218.5 96.43h1.77v5.28h-1.77zM220.2 96.43h1.77v5.28h-1.77zM50.5 101.69h1.77v5.28h-1.77zM61.0 101.69h1.77v5.28h-1.77zM89.0 101.69h1.77v5.28h-1.77zM90.7 101.69h1.77v5.28h-1.77zM103.0 101.69h1.77v5.28h-1.77zM104.7 101.69h1.77v5.28h-1.77zM108.2 101.69h1.77v5.28h-1.77zM115.2 101.69h1.77v5.28h-1.77zM127.5 101.69h1.77v5.28h-1.77zM190.5 101.69h1.77v5.28h-1.77zM38.2 106.96h1.77v5.28h-1.77zM64.5 106.96h1.77v5.28h-1.77zM75.0 106.96h1.77v5.28h-1.77zM85.5 106.96h1.77v5.28h-1.77zM108.2 106.96h1.77v5.28h-1.77zM115.2 106.96h1.77v5.28h-1.77zM127.5 106.96h1.77v5.28h-1.77zM131.0 106.96h1.77v5.28h-1.77zM136.2 106.96h1.77v5.28h-1.77zM146.7 106.96h1.77v5.28h-1.77zM159.0 106.96h1.77v5.28h-1.77zM180.0 106.96h1.77v5.28h-1.77zM216.7 106.96h1.77v5.28h-1.77zM52.2 112.22h1.77v5.28h-1.77zM94.2 112.22h1.77v5.28h-1.77zM125.7 112.22h1.77v5.28h-1.77zM138.0 112.22h1.77v5.28h-1.77zM152.0 112.22h1.77v5.28h-1.77zM194.0 112.22h1.77v5.28h-1.77zM197.5 112.22h1.77v5.28h-1.77zM209.7 112.22h1.77v5.28h-1.77zM50.5 117.48h1.77v5.28h-1.77zM64.5 117.48h1.77v5.28h-1.77zM87.2 117.48h1.77v5.28h-1.77zM90.7 117.48h1.77v5.28h-1.77zM139.7 117.48h1.77v5.28h-1.77zM162.5 117.48h1.77v5.28h-1.77zM176.5 117.48h1.77v5.28h-1.77zM194.0 117.48h1.77v5.28h-1.77zM197.5 117.48h1.77v5.28h-1.77zM232.5 117.48h1.77v5.28h-1.77zM62.7 122.74h1.77v5.28h-1.77zM80.2 122.74h1.77v5.28h-1.77zM82.0 122.74h1.77v5.28h-1.77zM113.5 122.74h1.77v5.28h-1.77zM117.0 122.74h1.77v5.28h-1.77zM125.7 122.74h1.77v5.28h-1.77zM136.2 122.74h1.77v5.28h-1.77zM145.0 122.74h1.77v5.28h-1.77zM159.0 122.74h1.77v5.28h-1.77zM180.0 122.74h1.77v5.28h-1.77zM181.7 122.74h1.77v5.28h-1.77zM197.5 122.74h1.77v5.28h-1.77zM199.2 122.74h1.77v5.28h-1.77zM201.0 122.74h1.77v5.28h-1.77zM223.7 122.74h1.77v5.28h-1.77zM232.5 122.74h1.77v5.28h-1.77zM234.2 122.74h1.77v5.28h-1.77z"/>
<path fill="#afa6e9" d="M40.0 33.30h1.77v5.28h-1.77zM48.7 33.30h1.77v5.28h-1.77zM73.2 33.30h1.77v5.28h-1.77zM75.0 33.30h1.77v5.28h-1.77zM85.5 33.30h1.77v5.28h-1.77zM87.2 33.30h1.77v5.28h-1.77zM94.2 33.30h1.77v5.28h-1.77zM108.2 33.30h1.77v5.28h-1.77zM113.5 33.30h1.77v5.28h-1.77zM187.0 33.30h1.77v5.28h-1.77zM236.0 33.30h1.77v5.28h-1.77zM85.5 38.56h1.77v5.28h-1.77zM94.2 38.56h1.77v5.28h-1.77zM124.0 38.56h1.77v5.28h-1.77zM129.2 38.56h1.77v5.28h-1.77zM160.7 38.56h1.77v5.28h-1.77zM166.0 38.56h1.77v5.28h-1.77zM174.7 38.56h1.77v5.28h-1.77zM176.5 38.56h1.77v5.28h-1.77zM180.0 38.56h1.77v5.28h-1.77zM38.2 43.82h1.77v5.28h-1.77zM87.2 43.82h1.77v5.28h-1.77zM89.0 43.82h1.77v5.28h-1.77zM124.0 43.82h1.77v5.28h-1.77zM167.7 43.82h1.77v5.28h-1.77zM173.0 43.82h1.77v5.28h-1.77zM185.2 43.82h1.77v5.28h-1.77zM225.5 43.82h1.77v5.28h-1.77zM40.0 49.08h1.77v5.28h-1.77zM41.7 49.08h1.77v5.28h-1.77zM64.5 49.08h1.77v5.28h-1.77zM68.0 49.08h1.77v5.28h-1.77zM82.0 49.08h1.77v5.28h-1.77zM83.7 49.08h1.77v5.28h-1.77zM89.0 49.08h1.77v5.28h-1.77zM96.0 49.08h1.77v5.28h-1.77zM122.2 49.08h1.77v5.28h-1.77zM155.5 49.08h1.77v5.28h-1.77zM167.7 49.08h1.77v5.28h-1.77zM176.5 49.08h1.77v5.28h-1.77zM185.2 49.08h1.77v5.28h-1.77zM213.2 49.08h1.77v5.28h-1.77zM218.5 49.08h1.77v5.28h-1.77zM223.7 49.08h1.77v5.28h-1.77zM104.7 54.34h1.77v5.28h-1.77zM124.0 54.34h1.77v5.28h-1.77zM134.5 54.34h1.77v5.28h-1.77zM166.0 54.34h1.77v5.28h-1.77zM169.5 54.34h1.77v5.28h-1.77zM208.0 54.34h1.77v5.28h-1.77zM229.0 54.34h1.77v5.28h-1.77zM83.7 59.61h1.77v5.28h-1.77zM120.5 59.61h1.77v5.28h-1.77zM124.0 59.61h1.77v5.28h-1.77zM138.0 59.61h1.77v5.28h-1.77zM160.7 59.61h1.77v5.28h-1.77zM166.0 59.61h1.77v5.28h-1.77zM176.5 59.61h1.77v5.28h-1.77zM181.7 59.61h1.77v5.28h-1.77zM101.2 64.87h1.77v5.28h-1.77zM124.0 64.87h1.77v5.28h-1.77zM125.7 64.87h1.77v5.28h-1.77zM129.2 64.87h1.77v5.28h-1.77zM143.2 64.87h1.77v5.28h-1.77zM166.0 64.87h1.77v5.28h-1.77zM225.5 64.87h1.77v5.28h-1.77zM236.0 64.87h1.77v5.28h-1.77zM52.2 70.13h1.77v5.28h-1.77zM82.0 70.13h1.77v5.28h-1.77zM117.0 70.13h1.77v5.28h-1.77zM129.2 70.13h1.77v5.28h-1.77zM155.5 70.13h1.77v5.28h-1.77zM190.5 70.13h1.77v5.28h-1.77zM209.7 70.13h1.77v5.28h-1.77zM211.5 70.13h1.77v5.28h-1.77zM215.0 70.13h1.77v5.28h-1.77zM229.0 70.13h1.77v5.28h-1.77zM43.5 75.39h1.77v5.28h-1.77zM45.2 75.39h1.77v5.28h-1.77zM71.5 75.39h1.77v5.28h-1.77zM76.7 75.39h1.77v5.28h-1.77zM78.5 75.39h1.77v5.28h-1.77zM94.2 75.39h1.77v5.28h-1.77zM124.0 75.39h1.77v5.28h-1.77zM136.2 75.39h1.77v5.28h-1.77zM138.0 75.39h1.77v5.28h-1.77zM159.0 75.39h1.77v5.28h-1.77zM162.5 75.39h1.77v5.28h-1.77zM166.0 75.39h1.77v5.28h-1.77zM180.0 75.39h1.77v5.28h-1.77zM50.5 80.65h1.77v5.28h-1.77zM59.2 80.65h1.77v5.28h-1.77zM117.0 80.65h1.77v5.28h-1.77zM125.7 80.65h1.77v5.28h-1.77zM139.7 80.65h1.77v5.28h-1.77zM159.0 80.65h1.77v5.28h-1.77zM162.5 80.65h1.77v5.28h-1.77zM194.0 80.65h1.77v5.28h-1.77zM216.7 80.65h1.77v5.28h-1.77zM43.5 85.91h1.77v5.28h-1.77zM76.7 85.91h1.77v5.28h-1.77zM117.0 85.91h1.77v5.28h-1.77zM127.5 85.91h1.77v5.28h-1.77zM145.0 85.91h1.77v5.28h-1.77zM146.7 85.91h1.77v5.28h-1.77zM187.0 85.91h1.77v5.28h-1.77zM215.0 85.91h1.77v5.28h-1.77zM243.0 85.91h1.77v5.28h-1.77zM54.0 91.17h1.77v5.28h-1.77zM71.5 91.17h1.77v5.28h-1.77zM89.0 91.17h1.77v5.28h-1.77zM118.7 91.17h1.77v5.28h-1.77zM166.0 91.17h1.77v5.28h-1.77zM218.5 91.17h1.77v5.28h-1.77zM220.2 91.17h1.77v5.28h-1.77zM239.5 91.17h1.77v5.28h-1.77zM48.7 96.43h1.77v5.28h-1.77zM59.2 96.43h1.77v5.28h-1.77zM94.2 96.43h1.77v5.28h-1.77zM106.5 96.43h1.77v5.28h-1.77zM148.5 96.43h1.77v5.28h-1.77zM162.5 96.43h1.77v5.28h-1.77zM164.2 96.43h1.77v5.28h-1.77zM215.0 96.43h1.77v5.28h-1.77zM237.7 96.43h1.77v5.28h-1.77zM241.2 96.43h1.77v5.28h-1.77zM55.7 101.69h1.77v5.28h-1.77zM136.2 101.69h1.77v5.28h-1.77zM166.0 101.69h1.77v5.28h-1.77zM199.2 101.69h1.77v5.28h-1.77zM213.2 101.69h1.77v5.28h-1.77zM223.7 101.69h1.77v5.28h-1.77zM230.7 101.69h1.77v5.28h-1.77zM52.2 106.96h1.77v5.28h-1.77zM54.0 106.96h1.77v5.28h-1.77zM124.0 106.96h1.77v5.28h-1.77zM134.5 106.96h1.77v5.28h-1.77zM148.5 106.96h1.77v5.28h-1.77zM157.2 106.96h1.77v5.28h-1.77zM171.2 106.96h1.77v5.28h-1.77zM220.2 106.96h1.77v5.28h-1.77zM230.7 106.96h1.77v5.28h-1.77zM69.7 112.22h1.77v5.28h-1.77zM73.2 112.22h1.77v5.28h-1.77zM87.2 112.22h1.77v5.28h-1.77zM103.0 112.22h1.77v5.28h-1.77zM216.7 112.22h1.77v5.28h-1.77zM220.2 112.22h1.77v5.28h-1.77zM222.0 112.22h1.77v5.28h-1.77zM229.0 112.22h1.77v5.28h-1.77zM52.2 117.48h1.77v5.28h-1.77zM89.0 117.48h1.77v5.28h-1.77zM101.2 117.48h1.77v5.28h-1.77zM115.2 117.48h1.77v5.28h-1.77zM124.0 117.48h1.77v5.28h-1.77zM152.0 117.48h1.77v5.28h-1.77zM157.2 117.48h1.77v5.28h-1.77zM159.0 117.48h1.77v5.28h-1.77zM61.0 122.74h1.77v5.28h-1.77zM73.2 122.74h1.77v5.28h-1.77zM76.7 122.74h1.77v5.28h-1.77zM103.0 122.74h1.77v5.28h-1.77zM106.5 122.74h1.77v5.28h-1.77zM108.2 122.74h1.77v5.28h-1.77zM111.7 122.74h1.77v5.28h-1.77zM127.5 122.74h1.77v5.28h-1.77zM138.0 122.74h1.77v5.28h-1.77zM160.7 122.74h1.77v5.28h-1.77zM225.5 122.74h1.77v5.28h-1.77zM229.0 122.74h1.77v5.28h-1.77zM236.0 122.74h1.77v5.28h-1.77z"/>
<path fill="#baaae5" d="M50.5 33.30h1.77v5.28h-1.77zM52.2 33.30h1.77v5.28h-1.77zM62.7 33.30h1.77v5.28h-1.77zM89.0 33.30h1.77v5.28h-1.77zM92.5 33.30h1.77v5.28h-1.77zM97.7 33.30h1.77v5.28h-1.77zM143.2 33.30h1.77v5.28h-1.77zM155.5 33.30h1.77v5.28h-1.77zM178.2 33.30h1.77v5.28h-1.77zM227.2 33.30h1.77v5.28h-1.77zM52.2 38.56h1.77v5.28h-1.77zM54.0 38.56h1.77v5.28h-1.77zM64.5 38.56h1.77v5.28h-1.77zM82.0 38.56h1.77v5.28h-1.77zM87.2 38.56h1.77v5.28h-1.77zM89.0 38.56h1.77v5.28h-1.77zM99.5 38.56h1.77v5.28h-1.77zM111.7 38.56h1.77v5.28h-1.77zM113.5 38.56h1.77v5.28h-1.77zM125.7 38.56h1.77v5.28h-1.77zM138.0 38.56h1.77v5.28h-1.77zM152.0 38.56h1.77v5.28h-1.77zM169.5 38.56h1.77v5.28h-1.77zM41.7 43.82h1.77v5.28h-1.77zM73.2 43.82h1.77v5.28h-1.77zM75.0 43.82h1.77v5.28h-1.77zM113.5 43.82h1.77v5.28h-1.77zM120.5 43.82h1.77v5.28h-1.77zM141.5 43.82h1.77v5.28h-1.77zM160.7 43.82h1.77v5.28h-1.77zM166.0 43.82h1.77v5.28h-1.77zM206.2 43.82h1.77v5.28h-1.77zM97.7 49.08h1.77v5.28h-1.77zM117.0 49.08h1.77v5.28h-1.77zM166.0 49.08h1.77v5.28h-1.77zM187.0 49.08h1.77v5.28h-1.77zM199.2 49.08h1.77v5.28h-1.77zM43.5 54.34h1.77v5.28h-1.77zM69.7 54.34h1.77v5.28h-1.77zM71.5 54.34h1.77v5.28h-1.77zM73.2 54.34h1.77v5.28h-1.77zM99.5 54.34h1.77v5.28h-1.77zM132.7 54.34h1.77v5.28h-1.77zM152.0 54.34h1.77v5.28h-1.77zM155.5 54.34h1.77v5.28h-1.77zM160.7 54.34h1.77v5.28h-1.77zM178.2 54.34h1.77v5.28h-1.77zM197.5 54.34h1.77v5.28h-1.77zM206.2 54.34h1.77v5.28h-1.77zM223.7 54.34h1.77v5.28h-1.77zM38.2 59.61h1.77v5.28h-1.77zM47.0 59.61h1.77v5.28h-1.77zM52.2 59.61h1.77v5.28h-1.77zM99.5 59.61h1.77v5.28h-1.77zM104.7 59.61h1.77v5.28h-1.77zM108.2 59.61h1.77v5.28h-1.77zM111.7 59.61h1.77v5.28h-1.77zM118.7 59.61h1.77v5.28h-1.77zM122.2 59.61h1.77v5.28h-1.77zM167.7 59.61h1.77v5.28h-1.77zM192.2 59.61h1.77v5.28h-1.77zM237.7 59.61h1.77v5.28h-1.77zM241.2 59.61h1.77v5.28h-1.77zM243.0 59.61h1.77v5.28h-1.77zM57.5 64.87h1.77v5.28h-1.77zM69.7 64.87h1.77v5.28h-1.77zM71.5 64.87h1.77v5.28h-1.77zM99.5 64.87h1.77v5.28h-1.77zM167.7 64.87h1.77v5.28h-1.77zM38.2 70.13h1.77v5.28h-1.77zM57.5 70.13h1.77v5.28h-1.77zM71.5 70.13h1.77v5.28h-1.77zM103.0 70.13h1.77v5.28h-1.77zM166.0 70.13h1.77v5.28h-1.77zM183.5 70.13h1.77v5.28h-1.77zM187.0 70.13h1.77v5.28h-1.77zM188.7 70.13h1.77v5.28h-1.77zM197.5 70.13h1.77v5.28h-1.77zM220.2 70.13h1.77v5.28h-1.77zM230.7 70.13h1.77v5.28h-1.77zM244.7 70.13h1.77v5.28h-1.77zM66.2 75.39h1.77v5.28h-1.77zM92.5 75.39h1.77v5.28h-1.77zM127.5 75.39h1.77v5.28h-1.77zM143.2 75.39h1.77v5.28h-1.77zM176.5 75.39h1.77v5.28h-1.77zM187.0 75.39h1.77v5.28h-1.77zM204.5 75.39h1.77v5.28h-1.77zM208.0 75.39h1.77v5.28h-1.77zM232.5 75.39h1.77v5.28h-1.77zM45.2 80.65h1.77v5.28h-1.77zM111.7 80.65h1.77v5.28h-1.77zM141.5 80.65h1.77v5.28h-1.77zM195.7 80.65h1.77v5.28h-1.77zM243.0 80.65h1.77v5.28h-1.77zM244.7 80.65h1.77v5.28h-1.77zM47.0 85.91h1.77v5.28h-1.77zM59.2 85.91h1.77v5.28h-1.77zM66.2 85.91h1.77v5.28h-1.77zM90.7 85.91h1.77v5.28h-1.77zM132.7 85.91h1.77v5.28h-1.77zM136.2 85.91h1.77v5.28h-1.77zM150.2 85.91h1.77v5.28h-1.77zM171.2 85.91h1.77v5.28h-1.77zM180.0 85.91h1.77v5.28h-1.77zM213.2 85.91h1.77v5.28h-1.77zM230.7 85.91h1.77v5.28h-1.77zM41.7 91.17h1.77v5.28h-1.77zM57.5 91.17h1.77v5.28h-1.77zM59.2 91.17h1.77v5.28h-1.77zM68.0 91.17h1.77v5.28h-1.77zM104.7 91.17h1.77v5.28h-1.77zM124.0 91.17h1.77v5.28h-1.77zM183.5 91.17h1.77v5.28h-1.77zM236.0 91.17h1.77v5.28h-1.77zM75.0 96.43h1.77v5.28h-1.77zM87.2 96.43h1.77v5.28h-1.77zM92.5 96.43h1.77v5.28h-1.77zM132.7 96.43h1.77v5.28h-1.77zM136.2 96.43h1.77v5.28h-1.77zM139.7 96.43h1.77v5.28h-1.77zM152.0 96.43h1.77v5.28h-1.77zM155.5 96.43h1.77v5.28h-1.77zM159.0 96.43h1.77v5.28h-1.77zM195.7 96.43h1.77v5.28h-1.77zM202.7 96.43h1.77v5.28h-1.77zM47.0 101.69h1.77v5.28h-1.77zM48.7 101.69h1.77v5.28h-1.77zM101.2 101.69h1.77v5.28h-1.77zM122.2 101.69h1.77v5.28h-1.77zM124.0 101.69h1.77v5.28h-1.77zM183.5 101.69h1.77v5.28h-1.77zM225.5 101.69h1.77v5.28h-1.77zM229.0 101.69h1.77v5.28h-1.77zM237.7 101.69h1.77v5.28h-1.77zM68.0 106.96h1.77v5.28h-1.77zM76.7 106.96h1.77v5.28h-1.77zM150.2 106.96h1.77v5.28h-1.77zM176.5 106.96h1.77v5.28h-1.77zM234.2 106.96h1.77v5.28h-1.77zM236.0 106.96h1.77v5.28h-1.77zM80.2 112.22h1.77v5.28h-1.77zM111.7 112.22h1.77v5.28h-1.77zM117.0 112.22h1.77v5.28h-1.77zM132.7 112.22h1.77v5.28h-1.77zM136.2 112.22h1.77v5.28h-1.77zM155.5 112.22h1.77v5.28h-1.77zM157.2 112.22h1.77v5.28h-1.77zM180.0 112.22h1.77v5.28h-1.77zM181.7 112.22h1.77v5.28h-1.77zM213.2 112.22h1.77v5.28h-1.77zM215.0 112.22h1.77v5.28h-1.77zM227.2 112.22h1.77v5.28h-1.77zM94.2 117.48h1.77v5.28h-1.77zM108.2 117.48h1.77v5.28h-1.77zM117.0 117.48h1.77v5.28h-1.77zM127.5 117.48h1.77v5.28h-1.77zM129.2 117.48h1.77v5.28h-1.77zM145.0 117.48h1.77v5.28h-1.77zM180.0 117.48h1.77v5.28h-1.77zM188.7 117.48h1.77v5.28h-1.77zM192.2 117.48h1.77v5.28h-1.77zM239.5 117.48h1.77v5.28h-1.77zM241.2 117.48h1.77v5.28h-1.77zM69.7 122.74h1.77v5.28h-1.77zM85.5 122.74h1.77v5.28h-1.77zM87.2 122.74h1.77v5.28h-1.77zM92.5 122.74h1.77v5.28h-1.77zM134.5 122.74h1.77v5.28h-1.77zM148.5 122.74h1.77v5.28h-1.77zM152.0 122.74h1.77v5.28h-1.77zM166.0 122.74h1.77v5.28h-1.77zM188.7 122.74h1.77v5.28h-1.77zM192.2 122.74h1.77v5.28h-1.77zM230.7 122.74h1.77v5.28h-1.77zM237.7 122.74h1.77v5.28h-1.77zM241.2 122.74h1.77v5.28h-1.77zM243.0 122.74h1.77v5.28h-1.77z"/>
<path fill="#c3a6dc" d="M41.7 33.30h1.77v5.28h-1.77zM59.2 33.30h1.77v5.28h-1.77zM68.0 33.30h1.77v5.28h-1.77zM71.5 33.30h1.77v5.28h-1.77zM101.2 33.30h1.77v5.28h-1.77zM104.7 33.30h1.77v5.28h-1.77zM106.5 33.30h1.77v5.28h-1.77zM111.7 33.30h1.77v5.28h-1.77zM117.0 33.30h1.77v5.28h-1.77zM138.0 33.30h1.77v5.28h-1.77zM167.7 33.30h1.77v5.28h-1.77zM40.0 38.56h1.77v5.28h-1.77zM68.0 38.56h1.77v5.28h-1.77zM71.5 38.56h1.77v5.28h-1.77zM78.5 38.56h1.77v5.28h-1.77zM80.2 38.56h1.77v5.28h-1.77zM104.7 38.56h1.77v5.28h-1.77zM127.5 38.56h1.77v5.28h-1.77zM192.2 38.56h1.77v5.28h-1.77zM43.5 43.82h1.77v5.28h-1.77zM68.0 43.82h1.77v5.28h-1.77zM71.5 43.82h1.77v5.28h-1.77zM101.2 43.82h1.77v5.28h-1.77zM127.5 43.82h1.77v5.28h-1.77zM73.2 49.08h1.77v5.28h-1.77zM78.5 49.08h1.77v5.28h-1.77zM99.5 49.08h1.77v5.28h-1.77zM115.2 49.08h1.77v5.28h-1.77zM141.5 49.08h1.77v5.28h-1.77zM38.2 54.34h1.77v5.28h-1.77zM64.5 54.34h1.77v5.28h-1.77zM76.7 54.34h1.77v5.28h-1.77zM78.5 54.34h1.77v5.28h-1.77zM106.5 54.34h1.77v5.28h-1.77zM125.7 54.34h1.77v5.28h-1.77zM148.5 54.34h1.77v5.28h-1.77zM174.7 54.34h1.77v5.28h-1.77zM176.5 54.34h1.77v5.28h-1.77zM134.5 59.61h1.77v5.28h-1.77zM148.5 59.61h1.77v5.28h-1.77zM206.2 59.61h1.77v5.28h-1.77zM59.2 64.87h1.77v5.28h-1.77zM75.0 64.87h1.77v5.28h-1.77zM76.7 64.87h1.77v5.28h-1.77zM103.0 64.87h1.77v5.28h-1.77zM111.7 64.87h1.77v5.28h-1.77zM132.7 64.87h1.77v5.28h-1.77zM176.5 64.87h1.77v5.28h-1.77zM92.5 70.13h1.77v5.28h-1.77zM162.5 70.13h1.77v5.28h-1.77zM192.2 70.13h1.77v5.28h-1.77zM201.0 70.13h1.77v5.28h-1.77zM218.5 70.13h1.77v5.28h-1.77zM227.2 70.13h1.77v5.28h-1.77zM232.5 70.13h1.77v5.28h-1.77zM239.5 70.13h1.77v5.28h-1.77zM241.2 70.13h1.77v5.28h-1.77zM59.2 75.39h1.77v5.28h-1.77zM174.7 75.39h1.77v5.28h-1.77zM192.2 75.39h1.77v5.28h-1.77zM199.2 75.39h1.77v5.28h-1.77zM64.5 80.65h1.77v5.28h-1.77zM90.7 80.65h1.77v5.28h-1.77zM92.5 80.65h1.77v5.28h-1.77zM99.5 80.65h1.77v5.28h-1.77zM108.2 80.65h1.77v5.28h-1.77zM136.2 80.65h1.77v5.28h-1.77zM160.7 80.65h1.77v5.28h-1.77zM171.2 80.65h1.77v5.28h-1.77zM174.7 80.65h1.77v5.28h-1.77zM222.0 80.65h1.77v5.28h-1.77zM54.0 85.91h1.77v5.28h-1.77zM85.5 85.91h1.77v5.28h-1.77zM92.5 85.91h1.77v5.28h-1.77zM153.7 85.91h1.77v5.28h-1.77zM157.2 85.91h1.77v5.28h-1.77zM174.7 85.91h1.77v5.28h-1.77zM194.0 85.91h1.77v5.28h-1.77zM209.7 85.91h1.77v5.28h-1.77zM220.2 85.91h1.77v5.28h-1.77zM43.5 91.17h1.77v5.28h-1.77zM45.2 91.17h1.77v5.28h-1.77zM76.7 91.17h1.77v5.28h-1.77zM90.7 91.17h1.77v5.28h-1.77zM101.2 91.17h1.77v5.28h-1.77zM108.2 91.17h1.77v5.28h-1.77zM115.2 91.17h1.77v5.28h-1.77zM127.5 91.17h1.77v5.28h-1.77zM129.2 91.17h1.77v5.28h-1.77zM141.5 91.17h1.77v5.28h-1.77zM162.5 91.17h1.77v5.28h-1.77zM169.5 91.17h1.77v5.28h-1.77zM171.2 91.17h1.77v5.28h-1.77zM192.2 91.17h1.77v5.28h-1.77zM199.2 91.17h1.77v5.28h-1.77zM206.2 91.17h1.77v5.28h-1.77zM108.2 96.43h1.77v5.28h-1.77zM160.7 96.43h1.77v5.28h-1.77zM190.5 96.43h1.77v5.28h-1.77zM194.0 96.43h1.77v5.28h-1.77zM199.2 96.43h1.77v5.28h-1.77zM201.0 96.43h1.77v5.28h-1.77zM216.7 96.43h1.77v5.28h-1.77zM225.5 96.43h1.77v5.28h-1.77zM229.0 96.43h1.77v5.28h-1.77zM244.7 96.43h1.77v5.28h-1.77zM45.2 101.69h1.77v5.28h-1.77zM132.7 101.69h1.77v5.28h-1.77zM178.2 101.69h1.77v5.28h-1.77zM211.5 101.69h1.77v5.28h-1.77zM218.5 101.69h1.77v5.28h-1.77zM69.7 106.96h1.77v5.28h-1.77zM104.7 106.96h1.77v5.28h-1.77zM111.7 106.96h1.77v5.28h-1.77zM113.5 106.96h1.77v5.28h-1.77zM141.5 106.96h1.77v5.28h-1.77zM166.0 106.96h1.77v5.28h-1.77zM173.0 106.96h1.77v5.28h-1.77zM178.2 106.96h1.77v5.28h-1.77zM183.5 106.96h1.77v5.28h-1.77zM187.0 106.96h1.77v5.28h-1.77zM229.0 106.96h1.77v5.28h-1.77zM241.2 106.96h1.77v5.28h-1.77zM244.7 106.96h1.77v5.28h-1.77zM48.7 112.22h1.77v5.28h-1.77zM92.5 112.22h1.77v5.28h-1.77zM143.2 112.22h1.77v5.28h-1.77zM145.0 112.22h1.77v5.28h-1.77zM150.2 112.22h1.77v5.28h-1.77zM159.0 112.22h1.77v5.28h-1.77zM160.7 112.22h1.77v5.28h-1.77zM225.5 112.22h1.77v5.28h-1.77zM48.7 117.48h1.77v5.28h-1.77zM92.5 117.48h1.77v5.28h-1.77zM136.2 117.48h1.77v5.28h-1.77zM141.5 117.48h1.77v5.28h-1.77zM148.5 117.48h1.77v5.28h-1.77zM155.5 117.48h1.77v5.28h-1.77zM171.2 117.48h1.77v5.28h-1.77zM174.7 117.48h1.77v5.28h-1.77zM190.5 117.48h1.77v5.28h-1.77zM199.2 117.48h1.77v5.28h-1.77zM237.7 117.48h1.77v5.28h-1.77zM55.7 122.74h1.77v5.28h-1.77zM101.2 122.74h1.77v5.28h-1.77zM139.7 122.74h1.77v5.28h-1.77zM143.2 122.74h1.77v5.28h-1.77zM202.7 122.74h1.77v5.28h-1.77zM227.2 122.74h1.77v5.28h-1.77z"/>
<path fill="#cba2d3" d="M38.2 33.30h1.77v5.28h-1.77zM64.5 33.30h1.77v5.28h-1.77zM115.2 33.30h1.77v5.28h-1.77zM160.7 33.30h1.77v5.28h-1.77zM169.5 33.30h1.77v5.28h-1.77zM38.2 38.56h1.77v5.28h-1.77zM57.5 38.56h1.77v5.28h-1.77zM62.7 38.56h1.77v5.28h-1.77zM66.2 38.56h1.77v5.28h-1.77zM90.7 38.56h1.77v5.28h-1.77zM173.0 38.56h1.77v5.28h-1.77zM181.7 38.56h1.77v5.28h-1.77zM185.2 38.56h1.77v5.28h-1.77zM59.2 43.82h1.77v5.28h-1.77zM62.7 43.82h1.77v5.28h-1.77zM115.2 43.82h1.77v5.28h-1.77zM117.0 43.82h1.77v5.28h-1.77zM52.2 49.08h1.77v5.28h-1.77zM76.7 49.08h1.77v5.28h-1.77zM125.7 49.08h1.77v5.28h-1.77zM222.0 49.08h1.77v5.28h-1.77zM41.7 54.34h1.77v5.28h-1.77zM45.2 54.34h1.77v5.28h-1.77zM54.0 54.34h1.77v5.28h-1.77zM55.7 54.34h1.77v5.28h-1.77zM89.0 54.34h1.77v5.28h-1.77zM90.7 54.34h1.77v5.28h-1.77zM94.2 54.34h1.77v5.28h-1.77zM136.2 54.34h1.77v5.28h-1.77zM204.5 54.34h1.77v5.28h-1.77zM43.5 59.61h1.77v5.28h-1.77zM57.5 59.61h1.77v5.28h-1.77zM59.2 59.61h1.77v5.28h-1.77zM80.2 59.61h1.77v5.28h-1.77zM92.5 59.61h1.77v5.28h-1.77zM96.0 59.61h1.77v5.28h-1.77zM117.0 59.61h1.77v5.28h-1.77zM136.2 59.61h1.77v5.28h-1.77zM185.2 59.61h1.77v5.28h-1.77zM43.5 64.87h1.77v5.28h-1.77zM45.2 64.87h1.77v5.28h-1.77zM68.0 64.87h1.77v5.28h-1.77zM106.5 64.87h1.77v5.28h-1.77zM117.0 64.87h1.77v5.28h-1.77zM131.0 64.87h1.77v5.28h-1.77zM178.2 64.87h1.77v5.28h-1.77zM204.5 64.87h1.77v5.28h-1.77zM90.7 70.13h1.77v5.28h-1.77zM132.7 70.13h1.77v5.28h-1.77zM143.2 70.13h1.77v5.28h-1.77zM206.2 70.13h1.77v5.28h-1.77zM208.0 70.13h1.77v5.28h-1.77zM234.2 70.13h1.77v5.28h-1.77zM171.2 75.39h1.77v5.28h-1.77zM215.0 75.39h1.77v5.28h-1.77zM106.5 80.65h1.77v5.28h-1.77zM132.7 80.65h1.77v5.28h-1.77zM145.0 80.65h1.77v5.28h-1.77zM150.2 80.65h1.77v5.28h-1.77zM166.0 80.65h1.77v5.28h-1.77zM176.5 80.65h1.77v5.28h-1.77zM199.2 80.65h1.77v5.28h-1.77zM201.0 80.65h1.77v5.28h-1.77zM204.5 80.65h1.77v5.28h-1.77zM220.2 80.65h1.77v5.28h-1.77zM241.2 80.65h1.77v5.28h-1.77zM178.2 85.91h1.77v5.28h-1.77zM190.5 85.91h1.77v5.28h-1.77zM195.7 85.91h1.77v5.28h-1.77zM234.2 85.91h1.77v5.28h-1.77zM237.7 85.91h1.77v5.28h-1.77zM244.7 85.91h1.77v5.28h-1.77zM48.7 91.17h1.77v5.28h-1.77zM66.2 91.17h1.77v5.28h-1.77zM136.2 91.17h1.77v5.28h-1.77zM155.5 91.17h1.77v5.28h-1.77zM197.5 91.17h1.77v5.28h-1.77zM227.2 91.17h1.77v5.28h-1.77zM90.7 96.43h1.77v5.28h-1.77zM113.5 96.43h1.77v5.28h-1.77zM143.2 96.43h1.77v5.28h-1.77zM204.5 96.43h1.77v5.28h-1.77zM208.0 96.43h1.77v5.28h-1.77zM239.5 96.43h1.77v5.28h-1.77zM54.0 101.69h1.77v5.28h-1.77zM59.2 101.69h1.77v5.28h-1.77zM150.2 101.69h1.77v5.28h-1.77zM152.0 101.69h1.77v5.28h-1.77zM180.0 101.69h1.77v5.28h-1.77zM222.0 101.69h1.77v5.28h-1.77zM232.5 101.69h1.77v5.28h-1.77zM234.2 101.69h1.77v5.28h-1.77zM241.2 101.69h1.77v5.28h-1.77zM244.7 101.69h1.77v5.28h-1.77zM139.7 106.96h1.77v5.28h-1.77zM160.7 106.96h1.77v5.28h-1.77zM181.7 106.96h1.77v5.28h-1.77zM218.5 106.96h1.77v5.28h-1.77zM71.5 112.22h1.77v5.28h-1.77zM85.5 112.22h1.77v5.28h-1.77zM115.2 112.22h1.77v5.28h-1.77zM178.2 112.22h1.77v5.28h-1.77zM218.5 112.22h1.77v5.28h-1.77zM223.7 112.22h1.77v5.28h-1.77zM230.7 112.22h1.77v5.28h-1.77zM237.7 112.22h1.77v5.28h-1.77zM68.0 117.48h1.77v5.28h-1.77zM69.7 117.48h1.77v5.28h-1.77zM132.7 117.48h1.77v5.28h-1.77zM138.0 117.48h1.77v5.28h-1.77zM181.7 117.48h1.77v5.28h-1.77zM183.5 117.48h1.77v5.28h-1.77zM201.0 117.48h1.77v5.28h-1.77zM202.7 117.48h1.77v5.28h-1.77zM234.2 117.48h1.77v5.28h-1.77zM243.0 117.48h1.77v5.28h-1.77zM244.7 117.48h1.77v5.28h-1.77zM52.2 122.74h1.77v5.28h-1.77zM66.2 122.74h1.77v5.28h-1.77zM68.0 122.74h1.77v5.28h-1.77zM71.5 122.74h1.77v5.28h-1.77zM132.7 122.74h1.77v5.28h-1.77zM155.5 122.74h1.77v5.28h-1.77zM171.2 122.74h1.77v5.28h-1.77zM176.5 122.74h1.77v5.28h-1.77zM178.2 122.74h1.77v5.28h-1.77zM183.5 122.74h1.77v5.28h-1.77zM190.5 122.74h1.77v5.28h-1.77zM244.7 122.74h1.77v5.28h-1.77z"/>
<path fill="#d198c4" d="M47.0 33.30h1.77v5.28h-1.77zM54.0 33.30h1.77v5.28h-1.77zM78.5 33.30h1.77v5.28h-1.77zM96.0 33.30h1.77v5.28h-1.77zM99.5 33.30h1.77v5.28h-1.77zM185.2 33.30h1.77v5.28h-1.77zM115.2 38.56h1.77v5.28h-1.77zM143.2 38.56h1.77v5.28h-1.77zM45.2 43.82h1.77v5.28h-1.77zM57.5 43.82h1.77v5.28h-1.77zM111.7 43.82h1.77v5.28h-1.77zM43.5 49.08h1.77v5.28h-1.77zM71.5 49.08h1.77v5.28h-1.77zM108.2 49.08h1.77v5.28h-1.77zM111.7 49.08h1.77v5.28h-1.77zM118.7 49.08h1.77v5.28h-1.77zM124.0 49.08h1.77v5.28h-1.77zM47.0 54.34h1.77v5.28h-1.77zM48.7 54.34h1.77v5.28h-1.77zM68.0 54.34h1.77v5.28h-1.77zM120.5 54.34h1.77v5.28h-1.77zM122.2 54.34h1.77v5.28h-1.77zM138.0 54.34h1.77v5.28h-1.77zM183.5 54.34h1.77v5.28h-1.77zM41.7 59.61h1.77v5.28h-1.77zM48.7 59.61h1.77v5.28h-1.77zM50.5 59.61h1.77v5.28h-1.77zM54.0 59.61h1.77v5.28h-1.77zM82.0 59.61h1.77v5.28h-1.77zM106.5 59.61h1.77v5.28h-1.77zM113.5 59.61h1.77v5.28h-1.77zM115.2 59.61h1.77v5.28h-1.77zM47.0 64.87h1.77v5.28h-1.77zM48.7 64.87h1.77v5.28h-1.77zM50.5 64.87h1.77v5.28h-1.77zM64.5 64.87h1.77v5.28h-1.77zM80.2 64.87h1.77v5.28h-1.77zM94.2 64.87h1.77v5.28h-1.77zM115.2 64.87h1.77v5.28h-1.77zM127.5 64.87h1.77v5.28h-1.77zM59.2 70.13h1.77v5.28h-1.77zM101.2 70.13h1.77v5.28h-1.77zM148.5 70.13h1.77v5.28h-1.77zM237.7 70.13h1.77v5.28h-1.77zM47.0 75.39h1.77v5.28h-1.77zM90.7 75.39h1.77v5.28h-1.77zM160.7 75.39h1.77v5.28h-1.77zM201.0 75.39h1.77v5.28h-1.77zM202.7 75.39h1.77v5.28h-1.77zM216.7 75.39h1.77v5.28h-1.77zM223.7 75.39h1.77v5.28h-1.77zM218.5 80.65h1.77v5.28h-1.77zM223.7 80.65h1.77v5.28h-1.77zM225.5 80.65h1.77v5.28h-1.77zM236.0 80.65h1.77v5.28h-1.77zM45.2 85.91h1.77v5.28h-1.77zM106.5 85.91h1.77v5.28h-1.77zM108.2 85.91h1.77v5.28h-1.77zM152.0 85.91h1.77v5.28h-1.77zM181.7 85.91h1.77v5.28h-1.77zM183.5 85.91h1.77v5.28h-1.77zM218.5 85.91h1.77v5.28h-1.77zM236.0 85.91h1.77v5.28h-1.77zM92.5 91.17h1.77v5.28h-1.77zM187.0 91.17h1.77v5.28h-1.77zM222.0 91.17h1.77v5.28h-1.77zM223.7 91.17h1.77v5.28h-1.77zM225.5 91.17h1.77v5.28h-1.77zM229.0 91.17h1.77v5.28h-1.77zM237.7 91.17h1.77v5.28h-1.77zM241.2 91.17h1.77v5.28h-1.77zM183.5 96.43h1.77v5.28h-1.77zM227.2 96.43h1.77v5.28h-1.77zM243.0 96.43h1.77v5.28h-1.77zM162.5 101.69h1.77v5.28h-1.77zM192.2 101.69h1.77v5.28h-1.77zM204.5 101.69h1.77v5.28h-1.77zM243.0 101.69h1.77v5.28h-1.77zM47.0 106.96h1.77v5.28h-1.77zM62.7 106.96h1.77v5.28h-1.77zM66.2 106.96h1.77v5.28h-1.77zM132.7 106.96h1.77v5.28h-1.77zM223.7 106.96h1.77v5.28h-1.77zM232.5 106.96h1.77v5.28h-1.77zM45.2 112.22h1.77v5.28h-1.77zM90.7 112.22h1.77v5.28h-1.77zM101.2 112.22h1.77v5.28h-1.77zM141.5 112.22h1.77v5.28h-1.77zM176.5 112.22h1.77v5.28h-1.77zM187.0 112.22h1.77v5.28h-1.77zM192.2 112.22h1.77v5.28h-1.77zM202.7 112.22h1.77v5.28h-1.77zM47.0 117.48h1.77v5.28h-1.77zM59.2 117.48h1.77v5.28h-1.77zM73.2 117.48h1.77v5.28h-1.77zM173.0 117.48h1.77v5.28h-1.77zM187.0 117.48h1.77v5.28h-1.77zM225.5 117.48h1.77v5.28h-1.77zM230.7 117.48h1.77v5.28h-1.77zM57.5 122.74h1.77v5.28h-1.77zM141.5 122.74h1.77v5.28h-1.77zM204.5 122.74h1.77v5.28h-1.77z"/>
<path fill="#d78cb2" d="M66.2 33.30h1.77v5.28h-1.77zM76.7 33.30h1.77v5.28h-1.77zM45.2 38.56h1.77v5.28h-1.77zM59.2 38.56h1.77v5.28h-1.77zM120.5 38.56h1.77v5.28h-1.77zM150.2 38.56h1.77v5.28h-1.77zM54.0 43.82h1.77v5.28h-1.77zM143.2 43.82h1.77v5.28h-1.77zM54.0 49.08h1.77v5.28h-1.77zM57.5 49.08h1.77v5.28h-1.77zM61.0 49.08h1.77v5.28h-1.77zM92.5 49.08h1.77v5.28h-1.77zM127.5 49.08h1.77v5.28h-1.77zM159.0 49.08h1.77v5.28h-1.77zM82.0 54.34h1.77v5.28h-1.77zM92.5 54.34h1.77v5.28h-1.77zM187.0 54.34h1.77v5.28h-1.77zM55.7 59.61h1.77v5.28h-1.77zM62.7 64.87h1.77v5.28h-1.77zM104.7 64.87h1.77v5.28h-1.77zM138.0 64.87h1.77v5.28h-1.77zM169.5 64.87h1.77v5.28h-1.77zM185.2 64.87h1.77v5.28h-1.77zM152.0 70.13h1.77v5.28h-1.77zM194.0 70.13h1.77v5.28h-1.77zM202.7 70.13h1.77v5.28h-1.77zM204.5 70.13h1.77v5.28h-1.77zM223.7 70.13h1.77v5.28h-1.77zM236.0 70.13h1.77v5.28h-1.77zM132.7 75.39h1.77v5.28h-1.77zM181.7 75.39h1.77v5.28h-1.77zM225.5 75.39h1.77v5.28h-1.77zM143.2 80.65h1.77v5.28h-1.77zM167.7 80.65h1.77v5.28h-1.77zM213.2 80.65h1.77v5.28h-1.77zM227.2 80.65h1.77v5.28h-1.77zM239.5 80.65h1.77v5.28h-1.77zM155.5 85.91h1.77v5.28h-1.77zM159.0 85.91h1.77v5.28h-1.77zM192.2 85.91h1.77v5.28h-1.77zM227.2 85.91h1.77v5.28h-1.77zM229.0 85.91h1.77v5.28h-1.77zM148.5 91.17h1.77v5.28h-1.77zM167.7 91.17h1.77v5.28h-1.77zM185.2 91.17h1.77v5.28h-1.77zM216.7 91.17h1.77v5.28h-1.77zM243.0 91.17h1.77v5.28h-1.77zM141.5 96.43h1.77v5.28h-1.77zM166.0 96.43h1.77v5.28h-1.77zM169.5 96.43h1.77v5.28h-1.77zM171.2 96.43h1.77v5.28h-1.77zM230.7 96.43h1.77v5.28h-1.77zM176.5 101.69h1.77v5.28h-1.77zM194.0 101.69h1.77v5.28h-1.77zM206.2 101.69h1.77v5.28h-1.77zM220.2 101.69h1.77v5.28h-1.77zM236.0 101.69h1.77v5.28h-1.77zM59.2 106.96h1.77v5.28h-1.77zM106.5 106.96h1.77v5.28h-1.77zM143.2 106.96h1.77v5.28h-1.77zM145.0 106.96h1.77v5.28h-1.77zM152.0 106.96h1.77v5.28h-1.77zM167.7 106.96h1.77v5.28h-1.77zM206.2 106.96h1.77v5.28h-1.77zM237.7 106.96h1.77v5.28h-1.77zM43.5 112.22h1.77v5.28h-1.77zM47.0 112.22h1.77v5.28h-1.77zM104.7 112.22h1.77v5.28h-1.77zM183.5 112.22h1.77v5.28h-1.77zM185.2 112.22h1.77v5.28h-1.77zM208.0 112.22h1.77v5.28h-1.77zM232.5 112.22h1.77v5.28h-1.77zM236.0 112.22h1.77v5.28h-1.77zM244.7 112.22h1.77v5.28h-1.77zM62.7 117.48h1.77v5.28h-1.77zM71.5 117.48h1.77v5.28h-1.77zM143.2 117.48h1.77v5.28h-1.77zM178.2 117.48h1.77v5.28h-1.77zM174.7 122.74h1.77v5.28h-1.77zM185.2 122.74h1.77v5.28h-1.77z"/>
<path fill="#dd80a0" d="M45.2 33.30h1.77v5.28h-1.77zM76.7 38.56h1.77v5.28h-1.77zM92.5 38.56h1.77v5.28h-1.77zM131.0 38.56h1.77v5.28h-1.77zM48.7 43.82h1.77v5.28h-1.77zM76.7 43.82h1.77v5.28h-1.77zM45.2 49.08h1.77v5.28h-1.77zM59.2 49.08h1.77v5.28h-1.77zM80.2 49.08h1.77v5.28h-1.77zM157.2 49.08h1.77v5.28h-1.77zM169.5 49.08h1.77v5.28h-1.77zM108.2 54.34h1.77v5.28h-1.77zM127.5 54.34h1.77v5.28h-1.77zM181.7 54.34h1.77v5.28h-1.77zM54.0 64.87h1.77v5.28h-1.77zM160.7 70.13h1.77v5.28h-1.77zM181.7 70.13h1.77v5.28h-1.77zM199.2 70.13h1.77v5.28h-1.77zM141.5 75.39h1.77v5.28h-1.77zM167.7 75.39h1.77v5.28h-1.77zM183.5 75.39h1.77v5.28h-1.77zM222.0 75.39h1.77v5.28h-1.77zM229.0 75.39h1.77v5.28h-1.77zM244.7 75.39h1.77v5.28h-1.77zM148.5 80.65h1.77v5.28h-1.77zM155.5 80.65h1.77v5.28h-1.77zM169.5 80.65h1.77v5.28h-1.77zM208.0 80.65h1.77v5.28h-1.77zM230.7 80.65h1.77v5.28h-1.77zM143.2 85.91h1.77v5.28h-1.77zM160.7 85.91h1.77v5.28h-1.77zM173.0 85.91h1.77v5.28h-1.77zM176.5 85.91h1.77v5.28h-1.77zM208.0 85.91h1.77v5.28h-1.77zM216.7 85.91h1.77v5.28h-1.77zM223.7 85.91h1.77v5.28h-1.77zM143.2 91.17h1.77v5.28h-1.77zM174.7 91.17h1.77v5.28h-1.77zM178.2 91.17h1.77v5.28h-1.77zM150.2 96.43h1.77v5.28h-1.77zM167.7 96.43h1.77v5.28h-1.77zM187.0 96.43h1.77v5.28h-1.77zM192.2 96.43h1.77v5.28h-1.77zM197.5 96.43h1.77v5.28h-1.77zM206.2 96.43h1.77v5.28h-1.77zM76.7 101.69h1.77v5.28h-1.77zM167.7 101.69h1.77v5.28h-1.77zM174.7 101.69h1.77v5.28h-1.77zM181.7 101.69h1.77v5.28h-1.77zM215.0 101.69h1.77v5.28h-1.77zM155.5 106.96h1.77v5.28h-1.77zM204.5 106.96h1.77v5.28h-1.77zM227.2 106.96h1.77v5.28h-1.77zM148.5 112.22h1.77v5.28h-1.77zM173.0 112.22h1.77v5.28h-1.77zM199.2 112.22h1.77v5.28h-1.77zM45.2 117.48h1.77v5.28h-1.77zM54.0 117.48h1.77v5.28h-1.77zM113.5 117.48h1.77v5.28h-1.77zM229.0 117.48h1.77v5.28h-1.77zM64.5 122.74h1.77v5.28h-1.77zM167.7 122.74h1.77v5.28h-1.77z"/>
<path fill="#df6f88" d="M132.7 33.30h1.77v5.28h-1.77zM136.2 33.30h1.77v5.28h-1.77zM136.2 38.56h1.77v5.28h-1.77zM94.2 43.82h1.77v5.28h-1.77zM96.0 43.82h1.77v5.28h-1.77zM59.2 54.34h1.77v5.28h-1.77zM185.2 54.34h1.77v5.28h-1.77zM90.7 59.61h1.77v5.28h-1.77zM132.7 59.61h1.77v5.28h-1.77zM136.2 64.87h1.77v5.28h-1.77zM85.5 70.13h1.77v5.28h-1.77zM145.0 70.13h1.77v5.28h-1.77zM222.0 70.13h1.77v5.28h-1.77zM173.0 75.39h1.77v5.28h-1.77zM153.7 80.65h1.77v5.28h-1.77zM202.7 80.65h1.77v5.28h-1.77zM232.5 80.65h1.77v5.28h-1.77zM148.5 85.91h1.77v5.28h-1.77zM167.7 85.91h1.77v5.28h-1.77zM169.5 85.91h1.77v5.28h-1.77zM206.2 85.91h1.77v5.28h-1.77zM241.2 85.91h1.77v5.28h-1.77zM145.0 91.17h1.77v5.28h-1.77zM194.0 91.17h1.77v5.28h-1.77zM204.5 91.17h1.77v5.28h-1.77zM244.7 91.17h1.77v5.28h-1.77zM173.0 96.43h1.77v5.28h-1.77zM174.7 96.43h1.77v5.28h-1.77zM181.7 96.43h1.77v5.28h-1.77zM223.7 96.43h1.77v5.28h-1.77zM236.0 96.43h1.77v5.28h-1.77zM73.2 101.69h1.77v5.28h-1.77zM75.0 101.69h1.77v5.28h-1.77zM160.7 101.69h1.77v5.28h-1.77zM169.5 101.69h1.77v5.28h-1.77zM173.0 101.69h1.77v5.28h-1.77zM208.0 101.69h1.77v5.28h-1.77zM57.5 106.96h1.77v5.28h-1.77zM61.0 106.96h1.77v5.28h-1.77zM169.5 106.96h1.77v5.28h-1.77zM239.5 106.96h1.77v5.28h-1.77zM243.0 106.96h1.77v5.28h-1.77zM66.2 112.22h1.77v5.28h-1.77zM201.0 112.22h1.77v5.28h-1.77zM206.2 112.22h1.77v5.28h-1.77zM38.2 117.48h1.77v5.28h-1.77zM150.2 117.48h1.77v5.28h-1.77zM160.7 117.48h1.77v5.28h-1.77zM169.5 117.48h1.77v5.28h-1.77zM227.2 117.48h1.77v5.28h-1.77zM54.0 122.74h1.77v5.28h-1.77zM59.2 122.74h1.77v5.28h-1.77zM150.2 122.74h1.77v5.28h-1.77zM173.0 122.74h1.77v5.28h-1.77zM194.0 122.74h1.77v5.28h-1.77z"/>
<path fill="#e05d70" d="M101.2 38.56h1.77v5.28h-1.77zM139.7 38.56h1.77v5.28h-1.77zM66.2 43.82h1.77v5.28h-1.77zM90.7 43.82h1.77v5.28h-1.77zM92.5 43.82h1.77v5.28h-1.77zM90.7 49.08h1.77v5.28h-1.77zM57.5 54.34h1.77v5.28h-1.77zM66.2 54.34h1.77v5.28h-1.77zM87.2 59.61h1.77v5.28h-1.77zM94.2 59.61h1.77v5.28h-1.77zM101.2 59.61h1.77v5.28h-1.77zM185.2 70.13h1.77v5.28h-1.77zM225.5 70.13h1.77v5.28h-1.77zM169.5 75.39h1.77v5.28h-1.77zM178.2 75.39h1.77v5.28h-1.77zM206.2 75.39h1.77v5.28h-1.77zM157.2 80.65h1.77v5.28h-1.77zM206.2 80.65h1.77v5.28h-1.77zM234.2 80.65h1.77v5.28h-1.77zM202.7 85.91h1.77v5.28h-1.77zM225.5 85.91h1.77v5.28h-1.77zM96.0 91.17h1.77v5.28h-1.77zM173.0 91.17h1.77v5.28h-1.77zM64.5 96.43h1.77v5.28h-1.77zM66.2 96.43h1.77v5.28h-1.77zM68.0 96.43h1.77v5.28h-1.77zM222.0 96.43h1.77v5.28h-1.77zM234.2 96.43h1.77v5.28h-1.77zM216.7 101.69h1.77v5.28h-1.77zM174.7 106.96h1.77v5.28h-1.77zM185.2 106.96h1.77v5.28h-1.77zM199.2 106.96h1.77v5.28h-1.77zM208.0 106.96h1.77v5.28h-1.77zM209.7 106.96h1.77v5.28h-1.77zM225.5 106.96h1.77v5.28h-1.77zM68.0 112.22h1.77v5.28h-1.77zM66.2 117.48h1.77v5.28h-1.77zM167.7 117.48h1.77v5.28h-1.77zM185.2 117.48h1.77v5.28h-1.77zM169.5 122.74h1.77v5.28h-1.77z"/>
<path fill="#e24a57" d="M47.0 38.56h1.77v5.28h-1.77zM108.2 38.56h1.77v5.28h-1.77zM110.0 38.56h1.77v5.28h-1.77zM117.0 38.56h1.77v5.28h-1.77zM132.7 38.56h1.77v5.28h-1.77zM104.7 43.82h1.77v5.28h-1.77zM110.0 43.82h1.77v5.28h-1.77zM131.0 43.82h1.77v5.28h-1.77zM66.2 49.08h1.77v5.28h-1.77zM136.2 49.08h1.77v5.28h-1.77zM138.0 49.08h1.77v5.28h-1.77zM66.2 64.87h1.77v5.28h-1.77zM108.2 64.87h1.77v5.28h-1.77zM110.0 64.87h1.77v5.28h-1.77zM178.2 70.13h1.77v5.28h-1.77zM180.0 70.13h1.77v5.28h-1.77zM80.2 75.39h1.77v5.28h-1.77zM83.7 75.39h1.77v5.28h-1.77zM146.7 75.39h1.77v5.28h-1.77zM153.7 75.39h1.77v5.28h-1.77zM152.0 80.65h1.77v5.28h-1.77zM173.0 80.65h1.77v5.28h-1.77zM141.5 85.91h1.77v5.28h-1.77zM201.0 85.91h1.77v5.28h-1.77zM201.0 91.17h1.77v5.28h-1.77zM209.7 91.17h1.77v5.28h-1.77zM211.5 91.17h1.77v5.28h-1.77zM230.7 91.17h1.77v5.28h-1.77zM176.5 96.43h1.77v5.28h-1.77zM185.2 96.43h1.77v5.28h-1.77zM185.2 101.69h1.77v5.28h-1.77zM187.0 101.69h1.77v5.28h-1.77zM201.0 101.69h1.77v5.28h-1.77zM174.7 112.22h1.77v5.28h-1.77zM43.5 117.48h1.77v5.28h-1.77zM57.5 117.48h1.77v5.28h-1.77zM162.5 122.74h1.77v5.28h-1.77zM208.0 122.74h1.77v5.28h-1.77z"/>
<path fill="#e03c44" d="M141.5 38.56h1.77v5.28h-1.77zM64.5 43.82h1.77v5.28h-1.77zM78.5 43.82h1.77v5.28h-1.77zM99.5 43.82h1.77v5.28h-1.77zM108.2 43.82h1.77v5.28h-1.77zM132.7 43.82h1.77v5.28h-1.77zM134.5 43.82h1.77v5.28h-1.77zM47.0 49.08h1.77v5.28h-1.77zM104.7 49.08h1.77v5.28h-1.77zM132.7 49.08h1.77v5.28h-1.77zM50.5 54.34h1.77v5.28h-1.77zM52.2 54.34h1.77v5.28h-1.77zM101.2 54.34h1.77v5.28h-1.77zM103.0 54.34h1.77v5.28h-1.77zM66.2 59.61h1.77v5.28h-1.77zM38.2 64.87h1.77v5.28h-1.77zM40.0 64.87h1.77v5.28h-1.77zM41.7 64.87h1.77v5.28h-1.77zM87.2 64.87h1.77v5.28h-1.77zM169.5 70.13h1.77v5.28h-1.77zM176.5 70.13h1.77v5.28h-1.77zM82.0 75.39h1.77v5.28h-1.77zM150.2 75.39h1.77v5.28h-1.77zM241.2 75.39h1.77v5.28h-1.77zM185.2 80.65h1.77v5.28h-1.77zM229.0 80.65h1.77v5.28h-1.77zM139.7 85.91h1.77v5.28h-1.77zM97.7 91.17h1.77v5.28h-1.77zM150.2 91.17h1.77v5.28h-1.77zM208.0 91.17h1.77v5.28h-1.77zM232.5 91.17h1.77v5.28h-1.77zM178.2 96.43h1.77v5.28h-1.77zM232.5 96.43h1.77v5.28h-1.77zM202.7 101.69h1.77v5.28h-1.77zM192.2 106.96h1.77v5.28h-1.77zM195.7 106.96h1.77v5.28h-1.77zM201.0 106.96h1.77v5.28h-1.77zM211.5 106.96h1.77v5.28h-1.77zM222.0 106.96h1.77v5.28h-1.77zM41.7 112.22h1.77v5.28h-1.77zM59.2 112.22h1.77v5.28h-1.77zM204.5 112.22h1.77v5.28h-1.77zM41.7 117.48h1.77v5.28h-1.77zM208.0 117.48h1.77v5.28h-1.77zM187.0 122.74h1.77v5.28h-1.77zM206.2 122.74h1.77v5.28h-1.77zM213.2 122.74h1.77v5.28h-1.77z"/>
<path fill="#de2e32" d="M90.7 33.30h1.77v5.28h-1.77zM122.2 33.30h1.77v5.28h-1.77zM124.0 33.30h1.77v5.28h-1.77zM125.7 33.30h1.77v5.28h-1.77zM118.7 38.56h1.77v5.28h-1.77zM106.5 43.82h1.77v5.28h-1.77zM136.2 43.82h1.77v5.28h-1.77zM48.7 49.08h1.77v5.28h-1.77zM134.5 49.08h1.77v5.28h-1.77zM110.0 54.34h1.77v5.28h-1.77zM113.5 54.34h1.77v5.28h-1.77zM115.2 54.34h1.77v5.28h-1.77zM117.0 54.34h1.77v5.28h-1.77zM69.7 59.61h1.77v5.28h-1.77zM85.5 59.61h1.77v5.28h-1.77zM83.7 64.87h1.77v5.28h-1.77zM85.5 64.87h1.77v5.28h-1.77zM89.0 64.87h1.77v5.28h-1.77zM92.5 64.87h1.77v5.28h-1.77zM173.0 70.13h1.77v5.28h-1.77zM174.7 70.13h1.77v5.28h-1.77zM148.5 75.39h1.77v5.28h-1.77zM152.0 75.39h1.77v5.28h-1.77zM155.5 75.39h1.77v5.28h-1.77zM157.2 75.39h1.77v5.28h-1.77zM185.2 75.39h1.77v5.28h-1.77zM234.2 75.39h1.77v5.28h-1.77zM236.0 75.39h1.77v5.28h-1.77zM237.7 75.39h1.77v5.28h-1.77zM239.5 75.39h1.77v5.28h-1.77zM243.0 75.39h1.77v5.28h-1.77zM183.5 80.65h1.77v5.28h-1.77zM188.7 80.65h1.77v5.28h-1.77zM180.0 96.43h1.77v5.28h-1.77zM66.2 101.69h1.77v5.28h-1.77zM68.0 101.69h1.77v5.28h-1.77zM69.7 101.69h1.77v5.28h-1.77zM145.0 101.69h1.77v5.28h-1.77zM148.5 101.69h1.77v5.28h-1.77zM194.0 106.96h1.77v5.28h-1.77zM213.2 106.96h1.77v5.28h-1.77zM215.0 106.96h1.77v5.28h-1.77zM38.2 112.22h1.77v5.28h-1.77zM40.0 112.22h1.77v5.28h-1.77zM57.5 112.22h1.77v5.28h-1.77zM61.0 112.22h1.77v5.28h-1.77zM40.0 117.48h1.77v5.28h-1.77zM211.5 117.48h1.77v5.28h-1.77zM215.0 117.48h1.77v5.28h-1.77zM216.7 117.48h1.77v5.28h-1.77zM218.5 117.48h1.77v5.28h-1.77zM236.0 117.48h1.77v5.28h-1.77zM48.7 122.74h1.77v5.28h-1.77zM50.5 122.74h1.77v5.28h-1.77zM211.5 122.74h1.77v5.28h-1.77zM218.5 122.74h1.77v5.28h-1.77zM222.0 122.74h1.77v5.28h-1.77z"/>
<path fill="#dc2020" d="M127.5 33.30h1.77v5.28h-1.77zM129.2 33.30h1.77v5.28h-1.77zM131.0 33.30h1.77v5.28h-1.77zM138.0 43.82h1.77v5.28h-1.77zM139.7 43.82h1.77v5.28h-1.77zM101.2 49.08h1.77v5.28h-1.77zM103.0 49.08h1.77v5.28h-1.77zM106.5 49.08h1.77v5.28h-1.77zM111.7 54.34h1.77v5.28h-1.77zM118.7 54.34h1.77v5.28h-1.77zM61.0 59.61h1.77v5.28h-1.77zM62.7 59.61h1.77v5.28h-1.77zM64.5 59.61h1.77v5.28h-1.77zM68.0 59.61h1.77v5.28h-1.77zM71.5 59.61h1.77v5.28h-1.77zM73.2 59.61h1.77v5.28h-1.77zM75.0 59.61h1.77v5.28h-1.77zM76.7 59.61h1.77v5.28h-1.77zM78.5 59.61h1.77v5.28h-1.77zM90.7 64.87h1.77v5.28h-1.77zM167.7 70.13h1.77v5.28h-1.77zM171.2 70.13h1.77v5.28h-1.77zM178.2 80.65h1.77v5.28h-1.77zM180.0 80.65h1.77v5.28h-1.77zM181.7 80.65h1.77v5.28h-1.77zM187.0 80.65h1.77v5.28h-1.77zM185.2 85.91h1.77v5.28h-1.77zM152.0 91.17h1.77v5.28h-1.77zM143.2 101.69h1.77v5.28h-1.77zM146.7 101.69h1.77v5.28h-1.77zM190.5 106.96h1.77v5.28h-1.77zM197.5 106.96h1.77v5.28h-1.77zM54.0 112.22h1.77v5.28h-1.77zM55.7 112.22h1.77v5.28h-1.77zM62.7 112.22h1.77v5.28h-1.77zM64.5 112.22h1.77v5.28h-1.77zM204.5 117.48h1.77v5.28h-1.77zM206.2 117.48h1.77v5.28h-1.77zM209.7 117.48h1.77v5.28h-1.77zM213.2 117.48h1.77v5.28h-1.77zM220.2 117.48h1.77v5.28h-1.77zM222.0 117.48h1.77v5.28h-1.77zM223.7 117.48h1.77v5.28h-1.77zM38.2 122.74h1.77v5.28h-1.77zM40.0 122.74h1.77v5.28h-1.77zM41.7 122.74h1.77v5.28h-1.77zM43.5 122.74h1.77v5.28h-1.77zM45.2 122.74h1.77v5.28h-1.77zM47.0 122.74h1.77v5.28h-1.77zM209.7 122.74h1.77v5.28h-1.77zM215.0 122.74h1.77v5.28h-1.77zM216.7 122.74h1.77v5.28h-1.77zM220.2 122.74h1.77v5.28h-1.77z"/>
<path fill="#2828c0" d="M383.0 40.66h1.77v6.68h-1.77zM383.0 47.31h1.77v6.68h-1.77zM393.5 47.31h1.77v6.68h-1.77zM383.0 53.97h1.77v6.68h-1.77zM405.7 53.97h1.77v6.68h-1.77zM355.0 60.63h1.77v6.68h-1.77zM453.0 80.60h1.77v6.68h-1.77zM460.0 80.60h1.77v6.68h-1.77zM461.7 80.60h1.77v6.68h-1.77zM463.5 80.60h1.77v6.68h-1.77zM465.2 80.60h1.77v6.68h-1.77zM467.0 80.60h1.77v6.68h-1.77zM468.7 80.60h1.77v6.68h-1.77zM479.2 87.26h1.77v6.68h-1.77zM465.2 93.91h1.77v6.68h-1.77zM425.0 100.57h1.77v6.68h-1.77zM479.2 100.57h1.77v6.68h-1.77z"/>
<path fill="#3232c6" d="M358.5 34.00h1.77v6.68h-1.77zM358.5 40.66h1.77v6.68h-1.77zM362.0 40.66h1.77v6.68h-1.77zM367.2 40.66h1.77v6.68h-1.77zM376.0 40.66h1.77v6.68h-1.77zM388.2 47.31h1.77v6.68h-1.77zM332.2 53.97h1.77v6.68h-1.77zM363.7 53.97h1.77v6.68h-1.77zM304.2 60.63h1.77v6.68h-1.77zM344.5 60.63h1.77v6.68h-1.77zM346.2 60.63h1.77v6.68h-1.77zM348.0 60.63h1.77v6.68h-1.77zM349.7 60.63h1.77v6.68h-1.77zM351.5 60.63h1.77v6.68h-1.77zM353.2 60.63h1.77v6.68h-1.77zM454.7 80.60h1.77v6.68h-1.77zM416.2 87.26h1.77v6.68h-1.77zM423.2 93.91h1.77v6.68h-1.77zM479.2 93.91h1.77v6.68h-1.77zM495.0 93.91h1.77v6.68h-1.77zM451.2 100.57h1.77v6.68h-1.77zM439.0 107.23h1.77v6.68h-1.77zM477.5 113.89h1.77v6.68h-1.77zM479.2 113.89h1.77v6.68h-1.77zM486.2 120.54h1.77v6.68h-1.77z"/>
<path fill="#3b3dcd" d="M304.2 34.00h1.77v6.68h-1.77zM307.7 34.00h1.77v6.68h-1.77zM332.2 34.00h1.77v6.68h-1.77zM356.7 34.00h1.77v6.68h-1.77zM376.0 34.00h1.77v6.68h-1.77zM330.5 40.66h1.77v6.68h-1.77zM351.5 40.66h1.77v6.68h-1.77zM353.2 40.66h1.77v6.68h-1.77zM356.7 40.66h1.77v6.68h-1.77zM360.2 40.66h1.77v6.68h-1.77zM365.5 40.66h1.77v6.68h-1.77zM374.2 40.66h1.77v6.68h-1.77zM377.7 40.66h1.77v6.68h-1.77zM379.5 40.66h1.77v6.68h-1.77zM393.5 40.66h1.77v6.68h-1.77zM397.0 40.66h1.77v6.68h-1.77zM400.5 40.66h1.77v6.68h-1.77zM405.7 40.66h1.77v6.68h-1.77zM313.0 47.31h1.77v6.68h-1.77zM360.2 47.31h1.77v6.68h-1.77zM365.5 47.31h1.77v6.68h-1.77zM341.0 53.97h1.77v6.68h-1.77zM381.2 53.97h1.77v6.68h-1.77zM388.2 53.97h1.77v6.68h-1.77zM390.0 53.97h1.77v6.68h-1.77zM395.2 53.97h1.77v6.68h-1.77zM356.7 60.63h1.77v6.68h-1.77zM383.0 60.63h1.77v6.68h-1.77zM320.0 67.29h1.77v6.68h-1.77zM323.5 67.29h1.77v6.68h-1.77zM325.2 67.29h1.77v6.68h-1.77zM363.7 73.94h1.77v6.68h-1.77zM367.2 73.94h1.77v6.68h-1.77zM386.5 73.94h1.77v6.68h-1.77zM393.5 80.60h1.77v6.68h-1.77zM397.0 80.60h1.77v6.68h-1.77zM423.2 80.60h1.77v6.68h-1.77zM449.5 80.60h1.77v6.68h-1.77zM451.2 80.60h1.77v6.68h-1.77zM456.5 80.60h1.77v6.68h-1.77zM458.2 80.60h1.77v6.68h-1.77zM327.0 87.26h1.77v6.68h-1.77zM425.0 87.26h1.77v6.68h-1.77zM426.7 87.26h1.77v6.68h-1.77zM428.5 87.26h1.77v6.68h-1.77zM463.5 93.91h1.77v6.68h-1.77zM467.0 93.91h1.77v6.68h-1.77zM463.5 100.57h1.77v6.68h-1.77zM486.2 100.57h1.77v6.68h-1.77zM451.2 107.23h1.77v6.68h-1.77zM409.2 113.89h1.77v6.68h-1.77zM465.2 120.54h1.77v6.68h-1.77zM479.2 120.54h1.77v6.68h-1.77z"/>
<path fill="#4548d3" d="M330.5 34.00h1.77v6.68h-1.77zM334.0 34.00h1.77v6.68h-1.77zM353.2 34.00h1.77v6.68h-1.77zM383.0 34.00h1.77v6.68h-1.77zM386.5 34.00h1.77v6.68h-1.77zM355.0 40.66h1.77v6.68h-1.77zM369.0 40.66h1.77v6.68h-1.77zM370.7 40.66h1.77v6.68h-1.77zM391.7 40.66h1.77v6.68h-1.77zM398.7 40.66h1.77v6.68h-1.77zM306.0 47.31h1.77v6.68h-1.77zM323.5 47.31h1.77v6.68h-1.77zM353.2 47.31h1.77v6.68h-1.77zM362.0 47.31h1.77v6.68h-1.77zM370.7 47.31h1.77v6.68h-1.77zM334.0 53.97h1.77v6.68h-1.77zM358.5 53.97h1.77v6.68h-1.77zM397.0 53.97h1.77v6.68h-1.77zM398.7 53.97h1.77v6.68h-1.77zM479.2 53.97h1.77v6.68h-1.77zM311.2 60.63h1.77v6.68h-1.77zM363.7 60.63h1.77v6.68h-1.77zM376.0 60.63h1.77v6.68h-1.77zM393.5 60.63h1.77v6.68h-1.77zM321.7 67.29h1.77v6.68h-1.77zM327.0 67.29h1.77v6.68h-1.77zM391.7 67.29h1.77v6.68h-1.77zM395.2 67.29h1.77v6.68h-1.77zM397.0 67.29h1.77v6.68h-1.77zM398.7 67.29h1.77v6.68h-1.77zM369.0 73.94h1.77v6.68h-1.77zM376.0 73.94h1.77v6.68h-1.77zM395.2 80.60h1.77v6.68h-1.77zM437.2 80.60h1.77v6.68h-1.77zM477.5 80.60h1.77v6.68h-1.77zM486.2 80.60h1.77v6.68h-1.77zM491.5 80.60h1.77v6.68h-1.77zM325.2 87.26h1.77v6.68h-1.77zM405.7 87.26h1.77v6.68h-1.77zM423.2 87.26h1.77v6.68h-1.77zM412.7 93.91h1.77v6.68h-1.77zM460.0 93.91h1.77v6.68h-1.77zM491.5 93.91h1.77v6.68h-1.77zM425.0 107.23h1.77v6.68h-1.77zM491.5 107.23h1.77v6.68h-1.77zM407.5 113.89h1.77v6.68h-1.77zM411.0 113.89h1.77v6.68h-1.77zM486.2 113.89h1.77v6.68h-1.77zM425.0 120.54h1.77v6.68h-1.77z"/>
<path fill="#5154d8" d="M369.0 34.00h1.77v6.68h-1.77zM391.7 34.00h1.77v6.68h-1.77zM321.7 40.66h1.77v6.68h-1.77zM363.7 40.66h1.77v6.68h-1.77zM381.2 40.66h1.77v6.68h-1.77zM395.2 40.66h1.77v6.68h-1.77zM330.5 47.31h1.77v6.68h-1.77zM356.7 47.31h1.77v6.68h-1.77zM358.5 47.31h1.77v6.68h-1.77zM363.7 47.31h1.77v6.68h-1.77zM369.0 47.31h1.77v6.68h-1.77zM328.7 53.97h1.77v6.68h-1.77zM365.5 53.97h1.77v6.68h-1.77zM391.7 53.97h1.77v6.68h-1.77zM393.5 53.97h1.77v6.68h-1.77zM307.7 60.63h1.77v6.68h-1.77zM309.5 60.63h1.77v6.68h-1.77zM379.5 60.63h1.77v6.68h-1.77zM405.7 60.63h1.77v6.68h-1.77zM356.7 67.29h1.77v6.68h-1.77zM376.0 67.29h1.77v6.68h-1.77zM383.0 67.29h1.77v6.68h-1.77zM390.0 67.29h1.77v6.68h-1.77zM393.5 67.29h1.77v6.68h-1.77zM309.5 73.94h1.77v6.68h-1.77zM342.7 73.94h1.77v6.68h-1.77zM365.5 73.94h1.77v6.68h-1.77zM372.5 73.94h1.77v6.68h-1.77zM374.2 73.94h1.77v6.68h-1.77zM425.0 80.60h1.77v6.68h-1.77zM446.0 80.60h1.77v6.68h-1.77zM411.0 87.26h1.77v6.68h-1.77zM442.5 87.26h1.77v6.68h-1.77zM454.7 87.26h1.77v6.68h-1.77zM461.7 87.26h1.77v6.68h-1.77zM463.5 87.26h1.77v6.68h-1.77zM491.5 87.26h1.77v6.68h-1.77zM425.0 93.91h1.77v6.68h-1.77zM446.0 93.91h1.77v6.68h-1.77zM477.5 93.91h1.77v6.68h-1.77zM486.2 93.91h1.77v6.68h-1.77zM418.0 100.57h1.77v6.68h-1.77zM435.5 100.57h1.77v6.68h-1.77zM416.2 107.23h1.77v6.68h-1.77zM437.2 107.23h1.77v6.68h-1.77zM456.5 107.23h1.77v6.68h-1.77zM486.2 107.23h1.77v6.68h-1.77zM495.0 107.23h1.77v6.68h-1.77zM313.0 113.89h1.77v6.68h-1.77zM426.7 113.89h1.77v6.68h-1.77zM439.0 113.89h1.77v6.68h-1.77zM451.2 113.89h1.77v6.68h-1.77zM505.5 113.89h1.77v6.68h-1.77zM411.0 120.54h1.77v6.68h-1.77zM419.7 120.54h1.77v6.68h-1.77z"/>
<path fill="#5c60de" d="M313.0 34.00h1.77v6.68h-1.77zM323.5 34.00h1.77v6.68h-1.77zM349.7 34.00h1.77v6.68h-1.77zM363.7 34.00h1.77v6.68h-1.77zM379.5 34.00h1.77v6.68h-1.77zM393.5 34.00h1.77v6.68h-1.77zM404.0 34.00h1.77v6.68h-1.77zM405.7 34.00h1.77v6.68h-1.77zM419.7 34.00h1.77v6.68h-1.77zM323.5 40.66h1.77v6.68h-1.77zM342.7 40.66h1.77v6.68h-1.77zM302.5 47.31h1.77v6.68h-1.77zM304.2 47.31h1.77v6.68h-1.77zM334.0 47.31h1.77v6.68h-1.77zM337.5 47.31h1.77v6.68h-1.77zM339.2 47.31h1.77v6.68h-1.77zM346.2 47.31h1.77v6.68h-1.77zM367.2 47.31h1.77v6.68h-1.77zM404.0 47.31h1.77v6.68h-1.77zM313.0 53.97h1.77v6.68h-1.77zM323.5 53.97h1.77v6.68h-1.77zM376.0 53.97h1.77v6.68h-1.77zM379.5 53.97h1.77v6.68h-1.77zM486.2 53.97h1.77v6.68h-1.77zM302.5 60.63h1.77v6.68h-1.77zM337.5 60.63h1.77v6.68h-1.77zM362.0 60.63h1.77v6.68h-1.77zM367.2 60.63h1.77v6.68h-1.77zM386.5 60.63h1.77v6.68h-1.77zM395.2 60.63h1.77v6.68h-1.77zM304.2 67.29h1.77v6.68h-1.77zM360.2 73.94h1.77v6.68h-1.77zM421.5 80.60h1.77v6.68h-1.77zM495.0 80.60h1.77v6.68h-1.77zM302.5 87.26h1.77v6.68h-1.77zM446.0 87.26h1.77v6.68h-1.77zM477.5 87.26h1.77v6.68h-1.77zM383.0 93.91h1.77v6.68h-1.77zM439.0 93.91h1.77v6.68h-1.77zM451.2 93.91h1.77v6.68h-1.77zM454.7 93.91h1.77v6.68h-1.77zM481.0 93.91h1.77v6.68h-1.77zM505.5 93.91h1.77v6.68h-1.77zM419.7 100.57h1.77v6.68h-1.77zM437.2 100.57h1.77v6.68h-1.77zM488.0 100.57h1.77v6.68h-1.77zM454.7 107.23h1.77v6.68h-1.77zM461.7 107.23h1.77v6.68h-1.77zM416.2 113.89h1.77v6.68h-1.77zM423.2 113.89h1.77v6.68h-1.77zM446.0 113.89h1.77v6.68h-1.77zM454.7 113.89h1.77v6.68h-1.77zM463.5 113.89h1.77v6.68h-1.77zM418.0 120.54h1.77v6.68h-1.77zM423.2 120.54h1.77v6.68h-1.77zM430.2 120.54h1.77v6.68h-1.77zM439.0 120.54h1.77v6.68h-1.77zM451.2 120.54h1.77v6.68h-1.77zM461.7 120.54h1.77v6.68h-1.77zM474.0 120.54h1.77v6.68h-1.77zM502.0 120.54h1.77v6.68h-1.77z"/>
<path fill="#676ce2" d="M344.5 34.00h1.77v6.68h-1.77zM351.5 34.00h1.77v6.68h-1.77zM377.7 34.00h1.77v6.68h-1.77zM477.5 34.00h1.77v6.68h-1.77zM304.2 40.66h1.77v6.68h-1.77zM307.7 40.66h1.77v6.68h-1.77zM316.5 40.66h1.77v6.68h-1.77zM346.2 40.66h1.77v6.68h-1.77zM349.7 40.66h1.77v6.68h-1.77zM309.5 47.31h1.77v6.68h-1.77zM311.2 47.31h1.77v6.68h-1.77zM321.7 47.31h1.77v6.68h-1.77zM325.2 47.31h1.77v6.68h-1.77zM349.7 47.31h1.77v6.68h-1.77zM355.0 47.31h1.77v6.68h-1.77zM376.0 47.31h1.77v6.68h-1.77zM381.2 47.31h1.77v6.68h-1.77zM391.7 47.31h1.77v6.68h-1.77zM395.2 47.31h1.77v6.68h-1.77zM306.0 53.97h1.77v6.68h-1.77zM353.2 53.97h1.77v6.68h-1.77zM355.0 53.97h1.77v6.68h-1.77zM360.2 53.97h1.77v6.68h-1.77zM369.0 53.97h1.77v6.68h-1.77zM377.7 53.97h1.77v6.68h-1.77zM400.5 53.97h1.77v6.68h-1.77zM465.2 53.97h1.77v6.68h-1.77zM323.5 60.63h1.77v6.68h-1.77zM330.5 60.63h1.77v6.68h-1.77zM335.7 60.63h1.77v6.68h-1.77zM342.7 60.63h1.77v6.68h-1.77zM358.5 60.63h1.77v6.68h-1.77zM439.0 60.63h1.77v6.68h-1.77zM316.5 67.29h1.77v6.68h-1.77zM451.2 67.29h1.77v6.68h-1.77zM479.2 67.29h1.77v6.68h-1.77zM370.7 73.94h1.77v6.68h-1.77zM393.5 73.94h1.77v6.68h-1.77zM465.2 73.94h1.77v6.68h-1.77zM426.7 80.60h1.77v6.68h-1.77zM444.2 80.60h1.77v6.68h-1.77zM479.2 80.60h1.77v6.68h-1.77zM498.5 80.60h1.77v6.68h-1.77zM313.0 87.26h1.77v6.68h-1.77zM439.0 87.26h1.77v6.68h-1.77zM440.7 87.26h1.77v6.68h-1.77zM451.2 87.26h1.77v6.68h-1.77zM486.2 87.26h1.77v6.68h-1.77zM313.0 93.91h1.77v6.68h-1.77zM418.0 93.91h1.77v6.68h-1.77zM430.2 93.91h1.77v6.68h-1.77zM442.5 93.91h1.77v6.68h-1.77zM383.0 100.57h1.77v6.68h-1.77zM416.2 100.57h1.77v6.68h-1.77zM423.2 100.57h1.77v6.68h-1.77zM430.2 100.57h1.77v6.68h-1.77zM439.0 100.57h1.77v6.68h-1.77zM446.0 100.57h1.77v6.68h-1.77zM477.5 100.57h1.77v6.68h-1.77zM481.0 100.57h1.77v6.68h-1.77zM484.5 100.57h1.77v6.68h-1.77zM496.7 100.57h1.77v6.68h-1.77zM505.5 100.57h1.77v6.68h-1.77zM330.5 107.23h1.77v6.68h-1.77zM463.5 107.23h1.77v6.68h-1.77zM477.5 107.23h1.77v6.68h-1.77zM484.5 107.23h1.77v6.68h-1.77zM505.5 107.23h1.77v6.68h-1.77zM425.0 113.89h1.77v6.68h-1.77zM428.5 113.89h1.77v6.68h-1.77zM442.5 113.89h1.77v6.68h-1.77zM489.7 113.89h1.77v6.68h-1.77zM502.0 113.89h1.77v6.68h-1.77zM446.0 120.54h1.77v6.68h-1.77zM454.7 120.54h1.77v6.68h-1.77zM477.5 120.54h1.77v6.68h-1.77z"/>
<path fill="#7578e4" d="M302.5 34.00h1.77v6.68h-1.77zM318.2 34.00h1.77v6.68h-1.77zM321.7 34.00h1.77v6.68h-1.77zM328.7 34.00h1.77v6.68h-1.77zM335.7 34.00h1.77v6.68h-1.77zM341.0 34.00h1.77v6.68h-1.77zM362.0 34.00h1.77v6.68h-1.77zM370.7 34.00h1.77v6.68h-1.77zM381.2 34.00h1.77v6.68h-1.77zM479.2 34.00h1.77v6.68h-1.77zM313.0 40.66h1.77v6.68h-1.77zM318.2 40.66h1.77v6.68h-1.77zM332.2 40.66h1.77v6.68h-1.77zM334.0 40.66h1.77v6.68h-1.77zM337.5 40.66h1.77v6.68h-1.77zM386.5 40.66h1.77v6.68h-1.77zM388.2 40.66h1.77v6.68h-1.77zM404.0 40.66h1.77v6.68h-1.77zM428.5 40.66h1.77v6.68h-1.77zM486.2 40.66h1.77v6.68h-1.77zM488.0 40.66h1.77v6.68h-1.77zM316.5 47.31h1.77v6.68h-1.77zM344.5 47.31h1.77v6.68h-1.77zM374.2 47.31h1.77v6.68h-1.77zM377.7 47.31h1.77v6.68h-1.77zM390.0 47.31h1.77v6.68h-1.77zM397.0 47.31h1.77v6.68h-1.77zM491.5 47.31h1.77v6.68h-1.77zM302.5 53.97h1.77v6.68h-1.77zM304.2 53.97h1.77v6.68h-1.77zM330.5 53.97h1.77v6.68h-1.77zM337.5 53.97h1.77v6.68h-1.77zM342.7 53.97h1.77v6.68h-1.77zM351.5 53.97h1.77v6.68h-1.77zM356.7 53.97h1.77v6.68h-1.77zM367.2 53.97h1.77v6.68h-1.77zM404.0 53.97h1.77v6.68h-1.77zM314.7 60.63h1.77v6.68h-1.77zM332.2 60.63h1.77v6.68h-1.77zM334.0 60.63h1.77v6.68h-1.77zM339.2 60.63h1.77v6.68h-1.77zM360.2 60.63h1.77v6.68h-1.77zM372.5 60.63h1.77v6.68h-1.77zM377.7 60.63h1.77v6.68h-1.77zM381.2 60.63h1.77v6.68h-1.77zM391.7 60.63h1.77v6.68h-1.77zM400.5 60.63h1.77v6.68h-1.77zM314.7 67.29h1.77v6.68h-1.77zM337.5 67.29h1.77v6.68h-1.77zM365.5 67.29h1.77v6.68h-1.77zM381.2 67.29h1.77v6.68h-1.77zM388.2 67.29h1.77v6.68h-1.77zM495.0 67.29h1.77v6.68h-1.77zM313.0 73.94h1.77v6.68h-1.77zM330.5 73.94h1.77v6.68h-1.77zM332.2 73.94h1.77v6.68h-1.77zM356.7 73.94h1.77v6.68h-1.77zM358.5 73.94h1.77v6.68h-1.77zM383.0 73.94h1.77v6.68h-1.77zM418.0 80.60h1.77v6.68h-1.77zM419.7 80.60h1.77v6.68h-1.77zM439.0 80.60h1.77v6.68h-1.77zM502.0 80.60h1.77v6.68h-1.77zM358.5 87.26h1.77v6.68h-1.77zM418.0 87.26h1.77v6.68h-1.77zM437.2 87.26h1.77v6.68h-1.77zM444.2 87.26h1.77v6.68h-1.77zM449.5 87.26h1.77v6.68h-1.77zM460.0 87.26h1.77v6.68h-1.77zM470.5 87.26h1.77v6.68h-1.77zM482.7 87.26h1.77v6.68h-1.77zM498.5 87.26h1.77v6.68h-1.77zM393.5 93.91h1.77v6.68h-1.77zM419.7 93.91h1.77v6.68h-1.77zM428.5 93.91h1.77v6.68h-1.77zM433.7 93.91h1.77v6.68h-1.77zM444.2 93.91h1.77v6.68h-1.77zM456.5 93.91h1.77v6.68h-1.77zM482.7 93.91h1.77v6.68h-1.77zM498.5 93.91h1.77v6.68h-1.77zM502.0 93.91h1.77v6.68h-1.77zM304.2 100.57h1.77v6.68h-1.77zM316.5 100.57h1.77v6.68h-1.77zM337.5 100.57h1.77v6.68h-1.77zM440.7 100.57h1.77v6.68h-1.77zM442.5 100.57h1.77v6.68h-1.77zM453.0 100.57h1.77v6.68h-1.77zM454.7 100.57h1.77v6.68h-1.77zM456.5 100.57h1.77v6.68h-1.77zM491.5 100.57h1.77v6.68h-1.77zM493.2 100.57h1.77v6.68h-1.77zM498.5 100.57h1.77v6.68h-1.77zM353.2 107.23h1.77v6.68h-1.77zM367.2 107.23h1.77v6.68h-1.77zM412.7 107.23h1.77v6.68h-1.77zM419.7 107.23h1.77v6.68h-1.77zM421.5 107.23h1.77v6.68h-1.77zM428.5 107.23h1.77v6.68h-1.77zM470.5 107.23h1.77v6.68h-1.77zM479.2 107.23h1.77v6.68h-1.77zM481.0 107.23h1.77v6.68h-1.77zM482.7 107.23h1.77v6.68h-1.77zM489.7 107.23h1.77v6.68h-1.77zM502.0 107.23h1.77v6.68h-1.77zM355.0 113.89h1.77v6.68h-1.77zM419.7 113.89h1.77v6.68h-1.77zM421.5 113.89h1.77v6.68h-1.77zM453.0 113.89h1.77v6.68h-1.77zM458.2 113.89h1.77v6.68h-1.77zM460.0 113.89h1.77v6.68h-1.77zM465.2 113.89h1.77v6.68h-1.77zM467.0 113.89h1.77v6.68h-1.77zM488.0 113.89h1.77v6.68h-1.77zM491.5 113.89h1.77v6.68h-1.77zM346.2 120.54h1.77v6.68h-1.77zM376.0 120.54h1.77v6.68h-1.77zM440.7 120.54h1.77v6.68h-1.77zM444.2 120.54h1.77v6.68h-1.77zM453.0 120.54h1.77v6.68h-1.77zM481.0 120.54h1.77v6.68h-1.77zM491.5 120.54h1.77v6.68h-1.77z"/>
<path fill="#8384e6" d="M306.0 34.00h1.77v6.68h-1.77zM316.5 34.00h1.77v6.68h-1.77zM325.2 34.00h1.77v6.68h-1.77zM342.7 34.00h1.77v6.68h-1.77zM365.5 34.00h1.77v6.68h-1.77zM367.2 34.00h1.77v6.68h-1.77zM309.5 40.66h1.77v6.68h-1.77zM311.2 40.66h1.77v6.68h-1.77zM425.0 40.66h1.77v6.68h-1.77zM446.0 40.66h1.77v6.68h-1.77zM481.0 40.66h1.77v6.68h-1.77zM307.7 47.31h1.77v6.68h-1.77zM327.0 47.31h1.77v6.68h-1.77zM332.2 47.31h1.77v6.68h-1.77zM335.7 47.31h1.77v6.68h-1.77zM348.0 47.31h1.77v6.68h-1.77zM479.2 47.31h1.77v6.68h-1.77zM481.0 47.31h1.77v6.68h-1.77zM321.7 53.97h1.77v6.68h-1.77zM348.0 53.97h1.77v6.68h-1.77zM362.0 53.97h1.77v6.68h-1.77zM502.0 53.97h1.77v6.68h-1.77zM313.0 60.63h1.77v6.68h-1.77zM316.5 60.63h1.77v6.68h-1.77zM320.0 60.63h1.77v6.68h-1.77zM321.7 60.63h1.77v6.68h-1.77zM341.0 60.63h1.77v6.68h-1.77zM404.0 60.63h1.77v6.68h-1.77zM407.5 60.63h1.77v6.68h-1.77zM306.0 67.29h1.77v6.68h-1.77zM330.5 67.29h1.77v6.68h-1.77zM332.2 67.29h1.77v6.68h-1.77zM342.7 67.29h1.77v6.68h-1.77zM344.5 67.29h1.77v6.68h-1.77zM349.7 67.29h1.77v6.68h-1.77zM358.5 67.29h1.77v6.68h-1.77zM363.7 67.29h1.77v6.68h-1.77zM316.5 73.94h1.77v6.68h-1.77zM328.7 73.94h1.77v6.68h-1.77zM446.0 73.94h1.77v6.68h-1.77zM460.0 73.94h1.77v6.68h-1.77zM486.2 73.94h1.77v6.68h-1.77zM330.5 80.60h1.77v6.68h-1.77zM355.0 80.60h1.77v6.68h-1.77zM363.7 80.60h1.77v6.68h-1.77zM440.7 80.60h1.77v6.68h-1.77zM442.5 80.60h1.77v6.68h-1.77zM472.2 80.60h1.77v6.68h-1.77zM475.7 80.60h1.77v6.68h-1.77zM481.0 80.60h1.77v6.68h-1.77zM489.7 80.60h1.77v6.68h-1.77zM493.2 80.60h1.77v6.68h-1.77zM505.5 80.60h1.77v6.68h-1.77zM304.2 87.26h1.77v6.68h-1.77zM356.7 87.26h1.77v6.68h-1.77zM430.2 87.26h1.77v6.68h-1.77zM433.7 87.26h1.77v6.68h-1.77zM465.2 87.26h1.77v6.68h-1.77zM481.0 87.26h1.77v6.68h-1.77zM488.0 87.26h1.77v6.68h-1.77zM495.0 87.26h1.77v6.68h-1.77zM369.0 93.91h1.77v6.68h-1.77zM414.5 93.91h1.77v6.68h-1.77zM426.7 93.91h1.77v6.68h-1.77zM437.2 93.91h1.77v6.68h-1.77zM440.7 93.91h1.77v6.68h-1.77zM453.0 93.91h1.77v6.68h-1.77zM468.7 93.91h1.77v6.68h-1.77zM484.5 93.91h1.77v6.68h-1.77zM488.0 93.91h1.77v6.68h-1.77zM307.7 100.57h1.77v6.68h-1.77zM323.5 100.57h1.77v6.68h-1.77zM358.5 100.57h1.77v6.68h-1.77zM409.2 100.57h1.77v6.68h-1.77zM421.5 100.57h1.77v6.68h-1.77zM428.5 100.57h1.77v6.68h-1.77zM432.0 100.57h1.77v6.68h-1.77zM482.7 100.57h1.77v6.68h-1.77zM370.7 107.23h1.77v6.68h-1.77zM411.0 107.23h1.77v6.68h-1.77zM442.5 107.23h1.77v6.68h-1.77zM446.0 107.23h1.77v6.68h-1.77zM460.0 107.23h1.77v6.68h-1.77zM496.7 107.23h1.77v6.68h-1.77zM498.5 107.23h1.77v6.68h-1.77zM503.7 107.23h1.77v6.68h-1.77zM302.5 113.89h1.77v6.68h-1.77zM363.7 113.89h1.77v6.68h-1.77zM383.0 113.89h1.77v6.68h-1.77zM433.7 113.89h1.77v6.68h-1.77zM437.2 113.89h1.77v6.68h-1.77zM440.7 113.89h1.77v6.68h-1.77zM461.7 113.89h1.77v6.68h-1.77zM495.0 113.89h1.77v6.68h-1.77zM409.2 120.54h1.77v6.68h-1.77zM433.7 120.54h1.77v6.68h-1.77zM437.2 120.54h1.77v6.68h-1.77zM442.5 120.54h1.77v6.68h-1.77zM449.5 120.54h1.77v6.68h-1.77zM460.0 120.54h1.77v6.68h-1.77zM468.7 120.54h1.77v6.68h-1.77zM493.2 120.54h1.77v6.68h-1.77zM498.5 120.54h1.77v6.68h-1.77zM505.5 120.54h1.77v6.68h-1.77z"/>
<path fill="#9190e7" d="M337.5 34.00h1.77v6.68h-1.77zM339.2 34.00h1.77v6.68h-1.77zM346.2 34.00h1.77v6.68h-1.77zM355.0 34.00h1.77v6.68h-1.77zM372.5 34.00h1.77v6.68h-1.77zM416.2 34.00h1.77v6.68h-1.77zM418.0 34.00h1.77v6.68h-1.77zM451.2 34.00h1.77v6.68h-1.77zM465.2 34.00h1.77v6.68h-1.77zM306.0 40.66h1.77v6.68h-1.77zM320.0 40.66h1.77v6.68h-1.77zM344.5 40.66h1.77v6.68h-1.77zM348.0 40.66h1.77v6.68h-1.77zM314.7 47.31h1.77v6.68h-1.77zM318.2 47.31h1.77v6.68h-1.77zM328.7 47.31h1.77v6.68h-1.77zM342.7 47.31h1.77v6.68h-1.77zM423.2 47.31h1.77v6.68h-1.77zM453.0 47.31h1.77v6.68h-1.77zM505.5 47.31h1.77v6.68h-1.77zM314.7 53.97h1.77v6.68h-1.77zM335.7 53.97h1.77v6.68h-1.77zM344.5 53.97h1.77v6.68h-1.77zM421.5 53.97h1.77v6.68h-1.77zM437.2 53.97h1.77v6.68h-1.77zM484.5 53.97h1.77v6.68h-1.77zM491.5 53.97h1.77v6.68h-1.77zM369.0 60.63h1.77v6.68h-1.77zM374.2 60.63h1.77v6.68h-1.77zM384.7 60.63h1.77v6.68h-1.77zM398.7 60.63h1.77v6.68h-1.77zM467.0 60.63h1.77v6.68h-1.77zM341.0 67.29h1.77v6.68h-1.77zM425.0 67.29h1.77v6.68h-1.77zM456.5 67.29h1.77v6.68h-1.77zM346.2 73.94h1.77v6.68h-1.77zM349.7 73.94h1.77v6.68h-1.77zM353.2 73.94h1.77v6.68h-1.77zM355.0 73.94h1.77v6.68h-1.77zM461.7 73.94h1.77v6.68h-1.77zM502.0 73.94h1.77v6.68h-1.77zM337.5 80.60h1.77v6.68h-1.77zM362.0 80.60h1.77v6.68h-1.77zM405.7 80.60h1.77v6.68h-1.77zM411.0 80.60h1.77v6.68h-1.77zM428.5 80.60h1.77v6.68h-1.77zM433.7 80.60h1.77v6.68h-1.77zM474.0 80.60h1.77v6.68h-1.77zM484.5 80.60h1.77v6.68h-1.77zM488.0 80.60h1.77v6.68h-1.77zM393.5 87.26h1.77v6.68h-1.77zM412.7 87.26h1.77v6.68h-1.77zM414.5 87.26h1.77v6.68h-1.77zM419.7 87.26h1.77v6.68h-1.77zM421.5 87.26h1.77v6.68h-1.77zM435.5 87.26h1.77v6.68h-1.77zM447.7 87.26h1.77v6.68h-1.77zM456.5 87.26h1.77v6.68h-1.77zM475.7 87.26h1.77v6.68h-1.77zM363.7 93.91h1.77v6.68h-1.77zM379.5 93.91h1.77v6.68h-1.77zM416.2 93.91h1.77v6.68h-1.77zM489.7 93.91h1.77v6.68h-1.77zM496.7 93.91h1.77v6.68h-1.77zM313.0 100.57h1.77v6.68h-1.77zM363.7 100.57h1.77v6.68h-1.77zM414.5 100.57h1.77v6.68h-1.77zM433.7 100.57h1.77v6.68h-1.77zM465.2 100.57h1.77v6.68h-1.77zM495.0 100.57h1.77v6.68h-1.77zM502.0 100.57h1.77v6.68h-1.77zM309.5 107.23h1.77v6.68h-1.77zM337.5 107.23h1.77v6.68h-1.77zM414.5 107.23h1.77v6.68h-1.77zM426.7 107.23h1.77v6.68h-1.77zM433.7 107.23h1.77v6.68h-1.77zM465.2 107.23h1.77v6.68h-1.77zM467.0 107.23h1.77v6.68h-1.77zM472.2 107.23h1.77v6.68h-1.77zM475.7 107.23h1.77v6.68h-1.77zM493.2 107.23h1.77v6.68h-1.77zM309.5 113.89h1.77v6.68h-1.77zM367.2 113.89h1.77v6.68h-1.77zM449.5 113.89h1.77v6.68h-1.77zM456.5 113.89h1.77v6.68h-1.77zM493.2 113.89h1.77v6.68h-1.77zM503.7 113.89h1.77v6.68h-1.77zM313.0 120.54h1.77v6.68h-1.77zM341.0 120.54h1.77v6.68h-1.77zM369.0 120.54h1.77v6.68h-1.77zM370.7 120.54h1.77v6.68h-1.77zM414.5 120.54h1.77v6.68h-1.77zM416.2 120.54h1.77v6.68h-1.77zM426.7 120.54h1.77v6.68h-1.77zM428.5 120.54h1.77v6.68h-1.77zM432.0 120.54h1.77v6.68h-1.77zM435.5 120.54h1.77v6.68h-1.77zM456.5 120.54h1.77v6.68h-1.77zM484.5 120.54h1.77v6.68h-1.77z"/>
<path fill="#a09be8" d="M314.7 34.00h1.77v6.68h-1.77zM327.0 34.00h1.77v6.68h-1.77zM360.2 34.00h1.77v6.68h-1.77zM397.0 34.00h1.77v6.68h-1.77zM428.5 34.00h1.77v6.68h-1.77zM314.7 40.66h1.77v6.68h-1.77zM325.2 40.66h1.77v6.68h-1.77zM372.5 40.66h1.77v6.68h-1.77zM407.5 40.66h1.77v6.68h-1.77zM409.2 40.66h1.77v6.68h-1.77zM416.2 40.66h1.77v6.68h-1.77zM442.5 40.66h1.77v6.68h-1.77zM379.5 47.31h1.77v6.68h-1.77zM386.5 47.31h1.77v6.68h-1.77zM398.7 47.31h1.77v6.68h-1.77zM405.7 47.31h1.77v6.68h-1.77zM407.5 47.31h1.77v6.68h-1.77zM411.0 47.31h1.77v6.68h-1.77zM412.7 47.31h1.77v6.68h-1.77zM428.5 47.31h1.77v6.68h-1.77zM444.2 47.31h1.77v6.68h-1.77zM446.0 47.31h1.77v6.68h-1.77zM461.7 47.31h1.77v6.68h-1.77zM465.2 47.31h1.77v6.68h-1.77zM477.5 47.31h1.77v6.68h-1.77zM493.2 47.31h1.77v6.68h-1.77zM339.2 53.97h1.77v6.68h-1.77zM346.2 53.97h1.77v6.68h-1.77zM372.5 53.97h1.77v6.68h-1.77zM386.5 53.97h1.77v6.68h-1.77zM416.2 53.97h1.77v6.68h-1.77zM425.0 53.97h1.77v6.68h-1.77zM426.7 53.97h1.77v6.68h-1.77zM467.0 53.97h1.77v6.68h-1.77zM481.0 53.97h1.77v6.68h-1.77zM488.0 53.97h1.77v6.68h-1.77zM328.7 60.63h1.77v6.68h-1.77zM397.0 60.63h1.77v6.68h-1.77zM414.5 60.63h1.77v6.68h-1.77zM423.2 60.63h1.77v6.68h-1.77zM425.0 60.63h1.77v6.68h-1.77zM437.2 60.63h1.77v6.68h-1.77zM442.5 60.63h1.77v6.68h-1.77zM451.2 60.63h1.77v6.68h-1.77zM453.0 60.63h1.77v6.68h-1.77zM465.2 60.63h1.77v6.68h-1.77zM491.5 60.63h1.77v6.68h-1.77zM493.2 60.63h1.77v6.68h-1.77zM495.0 60.63h1.77v6.68h-1.77zM502.0 60.63h1.77v6.68h-1.77zM302.5 67.29h1.77v6.68h-1.77zM313.0 67.29h1.77v6.68h-1.77zM353.2 67.29h1.77v6.68h-1.77zM374.2 67.29h1.77v6.68h-1.77zM386.5 67.29h1.77v6.68h-1.77zM423.2 67.29h1.77v6.68h-1.77zM426.7 67.29h1.77v6.68h-1.77zM440.7 67.29h1.77v6.68h-1.77zM442.5 67.29h1.77v6.68h-1.77zM486.2 67.29h1.77v6.68h-1.77zM314.7 73.94h1.77v6.68h-1.77zM337.5 73.94h1.77v6.68h-1.77zM348.0 73.94h1.77v6.68h-1.77zM404.0 73.94h1.77v6.68h-1.77zM435.5 73.94h1.77v6.68h-1.77zM453.0 73.94h1.77v6.68h-1.77zM454.7 73.94h1.77v6.68h-1.77zM505.5 73.94h1.77v6.68h-1.77zM376.0 80.60h1.77v6.68h-1.77zM398.7 80.60h1.77v6.68h-1.77zM414.5 80.60h1.77v6.68h-1.77zM416.2 80.60h1.77v6.68h-1.77zM435.5 80.60h1.77v6.68h-1.77zM482.7 80.60h1.77v6.68h-1.77zM332.2 87.26h1.77v6.68h-1.77zM334.0 87.26h1.77v6.68h-1.77zM341.0 87.26h1.77v6.68h-1.77zM342.7 87.26h1.77v6.68h-1.77zM432.0 87.26h1.77v6.68h-1.77zM468.7 87.26h1.77v6.68h-1.77zM484.5 87.26h1.77v6.68h-1.77zM323.5 93.91h1.77v6.68h-1.77zM330.5 93.91h1.77v6.68h-1.77zM337.5 93.91h1.77v6.68h-1.77zM346.2 93.91h1.77v6.68h-1.77zM348.0 93.91h1.77v6.68h-1.77zM381.2 93.91h1.77v6.68h-1.77zM409.2 93.91h1.77v6.68h-1.77zM411.0 93.91h1.77v6.68h-1.77zM421.5 93.91h1.77v6.68h-1.77zM449.5 93.91h1.77v6.68h-1.77zM474.0 93.91h1.77v6.68h-1.77zM318.2 100.57h1.77v6.68h-1.77zM344.5 100.57h1.77v6.68h-1.77zM391.7 100.57h1.77v6.68h-1.77zM404.0 100.57h1.77v6.68h-1.77zM411.0 100.57h1.77v6.68h-1.77zM412.7 100.57h1.77v6.68h-1.77zM426.7 100.57h1.77v6.68h-1.77zM444.2 100.57h1.77v6.68h-1.77zM447.7 100.57h1.77v6.68h-1.77zM323.5 107.23h1.77v6.68h-1.77zM334.0 107.23h1.77v6.68h-1.77zM342.7 107.23h1.77v6.68h-1.77zM362.0 107.23h1.77v6.68h-1.77zM409.2 107.23h1.77v6.68h-1.77zM432.0 107.23h1.77v6.68h-1.77zM453.0 107.23h1.77v6.68h-1.77zM458.2 107.23h1.77v6.68h-1.77zM468.7 107.23h1.77v6.68h-1.77zM474.0 107.23h1.77v6.68h-1.77zM316.5 113.89h1.77v6.68h-1.77zM346.2 113.89h1.77v6.68h-1.77zM356.7 113.89h1.77v6.68h-1.77zM358.5 113.89h1.77v6.68h-1.77zM418.0 113.89h1.77v6.68h-1.77zM430.2 113.89h1.77v6.68h-1.77zM435.5 113.89h1.77v6.68h-1.77zM468.7 113.89h1.77v6.68h-1.77zM475.7 113.89h1.77v6.68h-1.77zM498.5 113.89h1.77v6.68h-1.77zM323.5 120.54h1.77v6.68h-1.77zM356.7 120.54h1.77v6.68h-1.77zM447.7 120.54h1.77v6.68h-1.77zM467.0 120.54h1.77v6.68h-1.77zM482.7 120.54h1.77v6.68h-1.77zM488.0 120.54h1.77v6.68h-1.77z"/>
<path fill="#afa6e9" d="M388.2 34.00h1.77v6.68h-1.77zM398.7 34.00h1.77v6.68h-1.77zM407.5 34.00h1.77v6.68h-1.77zM423.2 34.00h1.77v6.68h-1.77zM449.5 34.00h1.77v6.68h-1.77zM453.0 34.00h1.77v6.68h-1.77zM461.7 34.00h1.77v6.68h-1.77zM493.2 34.00h1.77v6.68h-1.77zM302.5 40.66h1.77v6.68h-1.77zM327.0 40.66h1.77v6.68h-1.77zM328.7 40.66h1.77v6.68h-1.77zM390.0 40.66h1.77v6.68h-1.77zM419.7 40.66h1.77v6.68h-1.77zM453.0 40.66h1.77v6.68h-1.77zM475.7 40.66h1.77v6.68h-1.77zM479.2 40.66h1.77v6.68h-1.77zM341.0 47.31h1.77v6.68h-1.77zM351.5 47.31h1.77v6.68h-1.77zM372.5 47.31h1.77v6.68h-1.77zM400.5 47.31h1.77v6.68h-1.77zM437.2 47.31h1.77v6.68h-1.77zM442.5 47.31h1.77v6.68h-1.77zM472.2 47.31h1.77v6.68h-1.77zM307.7 53.97h1.77v6.68h-1.77zM309.5 53.97h1.77v6.68h-1.77zM311.2 53.97h1.77v6.68h-1.77zM325.2 53.97h1.77v6.68h-1.77zM349.7 53.97h1.77v6.68h-1.77zM370.7 53.97h1.77v6.68h-1.77zM407.5 53.97h1.77v6.68h-1.77zM423.2 53.97h1.77v6.68h-1.77zM440.7 53.97h1.77v6.68h-1.77zM449.5 53.97h1.77v6.68h-1.77zM505.5 53.97h1.77v6.68h-1.77zM318.2 60.63h1.77v6.68h-1.77zM325.2 60.63h1.77v6.68h-1.77zM327.0 60.63h1.77v6.68h-1.77zM370.7 60.63h1.77v6.68h-1.77zM390.0 60.63h1.77v6.68h-1.77zM461.7 60.63h1.77v6.68h-1.77zM505.5 60.63h1.77v6.68h-1.77zM311.2 67.29h1.77v6.68h-1.77zM318.2 67.29h1.77v6.68h-1.77zM334.0 67.29h1.77v6.68h-1.77zM339.2 67.29h1.77v6.68h-1.77zM348.0 67.29h1.77v6.68h-1.77zM351.5 67.29h1.77v6.68h-1.77zM355.0 67.29h1.77v6.68h-1.77zM362.0 67.29h1.77v6.68h-1.77zM369.0 67.29h1.77v6.68h-1.77zM421.5 67.29h1.77v6.68h-1.77zM433.7 67.29h1.77v6.68h-1.77zM470.5 67.29h1.77v6.68h-1.77zM477.5 67.29h1.77v6.68h-1.77zM491.5 67.29h1.77v6.68h-1.77zM321.7 73.94h1.77v6.68h-1.77zM323.5 73.94h1.77v6.68h-1.77zM381.2 73.94h1.77v6.68h-1.77zM384.7 73.94h1.77v6.68h-1.77zM398.7 73.94h1.77v6.68h-1.77zM426.7 73.94h1.77v6.68h-1.77zM449.5 73.94h1.77v6.68h-1.77zM470.5 73.94h1.77v6.68h-1.77zM474.0 73.94h1.77v6.68h-1.77zM477.5 73.94h1.77v6.68h-1.77zM479.2 73.94h1.77v6.68h-1.77zM481.0 73.94h1.77v6.68h-1.77zM491.5 73.94h1.77v6.68h-1.77zM495.0 73.94h1.77v6.68h-1.77zM311.2 80.60h1.77v6.68h-1.77zM313.0 80.60h1.77v6.68h-1.77zM383.0 80.60h1.77v6.68h-1.77zM384.7 80.60h1.77v6.68h-1.77zM391.7 80.60h1.77v6.68h-1.77zM432.0 80.60h1.77v6.68h-1.77zM447.7 80.60h1.77v6.68h-1.77zM496.7 80.60h1.77v6.68h-1.77zM321.7 87.26h1.77v6.68h-1.77zM337.5 87.26h1.77v6.68h-1.77zM388.2 87.26h1.77v6.68h-1.77zM453.0 87.26h1.77v6.68h-1.77zM467.0 87.26h1.77v6.68h-1.77zM493.2 87.26h1.77v6.68h-1.77zM496.7 87.26h1.77v6.68h-1.77zM309.5 93.91h1.77v6.68h-1.77zM311.2 93.91h1.77v6.68h-1.77zM397.0 93.91h1.77v6.68h-1.77zM435.5 93.91h1.77v6.68h-1.77zM447.7 93.91h1.77v6.68h-1.77zM472.2 93.91h1.77v6.68h-1.77zM475.7 93.91h1.77v6.68h-1.77zM493.2 93.91h1.77v6.68h-1.77zM503.7 93.91h1.77v6.68h-1.77zM314.7 100.57h1.77v6.68h-1.77zM332.2 100.57h1.77v6.68h-1.77zM360.2 100.57h1.77v6.68h-1.77zM381.2 100.57h1.77v6.68h-1.77zM405.7 100.57h1.77v6.68h-1.77zM467.0 100.57h1.77v6.68h-1.77zM472.2 100.57h1.77v6.68h-1.77zM503.7 100.57h1.77v6.68h-1.77zM304.2 107.23h1.77v6.68h-1.77zM307.7 107.23h1.77v6.68h-1.77zM358.5 107.23h1.77v6.68h-1.77zM379.5 107.23h1.77v6.68h-1.77zM423.2 107.23h1.77v6.68h-1.77zM430.2 107.23h1.77v6.68h-1.77zM440.7 107.23h1.77v6.68h-1.77zM444.2 107.23h1.77v6.68h-1.77zM488.0 107.23h1.77v6.68h-1.77zM314.7 113.89h1.77v6.68h-1.77zM323.5 113.89h1.77v6.68h-1.77zM330.5 113.89h1.77v6.68h-1.77zM362.0 113.89h1.77v6.68h-1.77zM365.5 113.89h1.77v6.68h-1.77zM376.0 113.89h1.77v6.68h-1.77zM432.0 113.89h1.77v6.68h-1.77zM447.7 113.89h1.77v6.68h-1.77zM481.0 113.89h1.77v6.68h-1.77zM482.7 113.89h1.77v6.68h-1.77zM496.7 113.89h1.77v6.68h-1.77zM314.7 120.54h1.77v6.68h-1.77zM332.2 120.54h1.77v6.68h-1.77zM337.5 120.54h1.77v6.68h-1.77zM363.7 120.54h1.77v6.68h-1.77zM404.0 120.54h1.77v6.68h-1.77zM458.2 120.54h1.77v6.68h-1.77zM470.5 120.54h1.77v6.68h-1.77zM475.7 120.54h1.77v6.68h-1.77zM489.7 120.54h1.77v6.68h-1.77zM495.0 120.54h1.77v6.68h-1.77zM503.7 120.54h1.77v6.68h-1.77z"/>
<path fill="#baaae5" d="M311.2 34.00h1.77v6.68h-1.77zM374.2 34.00h1.77v6.68h-1.77zM390.0 34.00h1.77v6.68h-1.77zM395.2 34.00h1.77v6.68h-1.77zM402.2 34.00h1.77v6.68h-1.77zM426.7 34.00h1.77v6.68h-1.77zM454.7 34.00h1.77v6.68h-1.77zM474.0 34.00h1.77v6.68h-1.77zM475.7 34.00h1.77v6.68h-1.77zM481.0 34.00h1.77v6.68h-1.77zM384.7 40.66h1.77v6.68h-1.77zM414.5 40.66h1.77v6.68h-1.77zM435.5 40.66h1.77v6.68h-1.77zM498.5 40.66h1.77v6.68h-1.77zM320.0 47.31h1.77v6.68h-1.77zM384.7 47.31h1.77v6.68h-1.77zM414.5 47.31h1.77v6.68h-1.77zM439.0 47.31h1.77v6.68h-1.77zM447.7 47.31h1.77v6.68h-1.77zM454.7 47.31h1.77v6.68h-1.77zM460.0 47.31h1.77v6.68h-1.77zM327.0 53.97h1.77v6.68h-1.77zM374.2 53.97h1.77v6.68h-1.77zM402.2 53.97h1.77v6.68h-1.77zM411.0 53.97h1.77v6.68h-1.77zM418.0 53.97h1.77v6.68h-1.77zM446.0 53.97h1.77v6.68h-1.77zM461.7 53.97h1.77v6.68h-1.77zM463.5 53.97h1.77v6.68h-1.77zM470.5 53.97h1.77v6.68h-1.77zM472.2 53.97h1.77v6.68h-1.77zM474.0 53.97h1.77v6.68h-1.77zM495.0 53.97h1.77v6.68h-1.77zM498.5 53.97h1.77v6.68h-1.77zM365.5 60.63h1.77v6.68h-1.77zM409.2 60.63h1.77v6.68h-1.77zM435.5 60.63h1.77v6.68h-1.77zM468.7 60.63h1.77v6.68h-1.77zM486.2 60.63h1.77v6.68h-1.77zM489.7 60.63h1.77v6.68h-1.77zM498.5 60.63h1.77v6.68h-1.77zM328.7 67.29h1.77v6.68h-1.77zM360.2 67.29h1.77v6.68h-1.77zM400.5 67.29h1.77v6.68h-1.77zM404.0 67.29h1.77v6.68h-1.77zM416.2 67.29h1.77v6.68h-1.77zM428.5 67.29h1.77v6.68h-1.77zM435.5 67.29h1.77v6.68h-1.77zM463.5 67.29h1.77v6.68h-1.77zM465.2 67.29h1.77v6.68h-1.77zM327.0 73.94h1.77v6.68h-1.77zM334.0 73.94h1.77v6.68h-1.77zM344.5 73.94h1.77v6.68h-1.77zM362.0 73.94h1.77v6.68h-1.77zM377.7 73.94h1.77v6.68h-1.77zM391.7 73.94h1.77v6.68h-1.77zM397.0 73.94h1.77v6.68h-1.77zM430.2 73.94h1.77v6.68h-1.77zM451.2 73.94h1.77v6.68h-1.77zM456.5 73.94h1.77v6.68h-1.77zM484.5 73.94h1.77v6.68h-1.77zM328.7 80.60h1.77v6.68h-1.77zM339.2 80.60h1.77v6.68h-1.77zM341.0 80.60h1.77v6.68h-1.77zM353.2 80.60h1.77v6.68h-1.77zM356.7 80.60h1.77v6.68h-1.77zM358.5 80.60h1.77v6.68h-1.77zM370.7 80.60h1.77v6.68h-1.77zM374.2 80.60h1.77v6.68h-1.77zM390.0 80.60h1.77v6.68h-1.77zM404.0 87.26h1.77v6.68h-1.77zM409.2 87.26h1.77v6.68h-1.77zM474.0 87.26h1.77v6.68h-1.77zM302.5 93.91h1.77v6.68h-1.77zM318.2 93.91h1.77v6.68h-1.77zM320.0 93.91h1.77v6.68h-1.77zM334.0 93.91h1.77v6.68h-1.77zM342.7 93.91h1.77v6.68h-1.77zM356.7 93.91h1.77v6.68h-1.77zM358.5 93.91h1.77v6.68h-1.77zM388.2 93.91h1.77v6.68h-1.77zM391.7 93.91h1.77v6.68h-1.77zM405.7 93.91h1.77v6.68h-1.77zM432.0 93.91h1.77v6.68h-1.77zM458.2 93.91h1.77v6.68h-1.77zM470.5 93.91h1.77v6.68h-1.77zM341.0 100.57h1.77v6.68h-1.77zM348.0 100.57h1.77v6.68h-1.77zM367.2 100.57h1.77v6.68h-1.77zM369.0 100.57h1.77v6.68h-1.77zM379.5 100.57h1.77v6.68h-1.77zM474.0 100.57h1.77v6.68h-1.77zM489.7 100.57h1.77v6.68h-1.77zM327.0 107.23h1.77v6.68h-1.77zM341.0 107.23h1.77v6.68h-1.77zM346.2 107.23h1.77v6.68h-1.77zM349.7 107.23h1.77v6.68h-1.77zM369.0 107.23h1.77v6.68h-1.77zM398.7 107.23h1.77v6.68h-1.77zM449.5 107.23h1.77v6.68h-1.77zM304.2 113.89h1.77v6.68h-1.77zM320.0 113.89h1.77v6.68h-1.77zM341.0 113.89h1.77v6.68h-1.77zM369.0 113.89h1.77v6.68h-1.77zM381.2 113.89h1.77v6.68h-1.77zM384.7 113.89h1.77v6.68h-1.77zM414.5 113.89h1.77v6.68h-1.77zM470.5 113.89h1.77v6.68h-1.77zM484.5 113.89h1.77v6.68h-1.77zM342.7 120.54h1.77v6.68h-1.77zM362.0 120.54h1.77v6.68h-1.77zM381.2 120.54h1.77v6.68h-1.77zM463.5 120.54h1.77v6.68h-1.77z"/>
<path fill="#c3a6dc" d="M309.5 34.00h1.77v6.68h-1.77zM320.0 34.00h1.77v6.68h-1.77zM348.0 34.00h1.77v6.68h-1.77zM409.2 34.00h1.77v6.68h-1.77zM411.0 34.00h1.77v6.68h-1.77zM425.0 34.00h1.77v6.68h-1.77zM458.2 34.00h1.77v6.68h-1.77zM467.0 34.00h1.77v6.68h-1.77zM470.5 34.00h1.77v6.68h-1.77zM472.2 34.00h1.77v6.68h-1.77zM488.0 34.00h1.77v6.68h-1.77zM489.7 34.00h1.77v6.68h-1.77zM495.0 34.00h1.77v6.68h-1.77zM496.7 34.00h1.77v6.68h-1.77zM502.0 34.00h1.77v6.68h-1.77zM418.0 40.66h1.77v6.68h-1.77zM423.2 40.66h1.77v6.68h-1.77zM426.7 40.66h1.77v6.68h-1.77zM433.7 40.66h1.77v6.68h-1.77zM437.2 40.66h1.77v6.68h-1.77zM440.7 40.66h1.77v6.68h-1.77zM477.5 40.66h1.77v6.68h-1.77zM505.5 40.66h1.77v6.68h-1.77zM419.7 47.31h1.77v6.68h-1.77zM425.0 47.31h1.77v6.68h-1.77zM432.0 47.31h1.77v6.68h-1.77zM440.7 47.31h1.77v6.68h-1.77zM458.2 47.31h1.77v6.68h-1.77zM470.5 47.31h1.77v6.68h-1.77zM474.0 47.31h1.77v6.68h-1.77zM489.7 47.31h1.77v6.68h-1.77zM442.5 53.97h1.77v6.68h-1.77zM444.2 53.97h1.77v6.68h-1.77zM451.2 53.97h1.77v6.68h-1.77zM468.7 53.97h1.77v6.68h-1.77zM475.7 53.97h1.77v6.68h-1.77zM482.7 53.97h1.77v6.68h-1.77zM493.2 53.97h1.77v6.68h-1.77zM306.0 60.63h1.77v6.68h-1.77zM388.2 60.63h1.77v6.68h-1.77zM433.7 60.63h1.77v6.68h-1.77zM440.7 60.63h1.77v6.68h-1.77zM463.5 60.63h1.77v6.68h-1.77zM484.5 60.63h1.77v6.68h-1.77zM496.7 60.63h1.77v6.68h-1.77zM503.7 60.63h1.77v6.68h-1.77zM419.7 67.29h1.77v6.68h-1.77zM439.0 67.29h1.77v6.68h-1.77zM453.0 67.29h1.77v6.68h-1.77zM458.2 67.29h1.77v6.68h-1.77zM468.7 67.29h1.77v6.68h-1.77zM474.0 67.29h1.77v6.68h-1.77zM302.5 73.94h1.77v6.68h-1.77zM311.2 73.94h1.77v6.68h-1.77zM325.2 73.94h1.77v6.68h-1.77zM351.5 73.94h1.77v6.68h-1.77zM379.5 73.94h1.77v6.68h-1.77zM400.5 73.94h1.77v6.68h-1.77zM428.5 73.94h1.77v6.68h-1.77zM439.0 73.94h1.77v6.68h-1.77zM468.7 73.94h1.77v6.68h-1.77zM493.2 73.94h1.77v6.68h-1.77zM332.2 80.60h1.77v6.68h-1.77zM367.2 80.60h1.77v6.68h-1.77zM377.7 80.60h1.77v6.68h-1.77zM381.2 80.60h1.77v6.68h-1.77zM409.2 80.60h1.77v6.68h-1.77zM430.2 80.60h1.77v6.68h-1.77zM470.5 80.60h1.77v6.68h-1.77zM306.0 87.26h1.77v6.68h-1.77zM316.5 87.26h1.77v6.68h-1.77zM346.2 87.26h1.77v6.68h-1.77zM360.2 87.26h1.77v6.68h-1.77zM362.0 87.26h1.77v6.68h-1.77zM384.7 87.26h1.77v6.68h-1.77zM407.5 87.26h1.77v6.68h-1.77zM458.2 87.26h1.77v6.68h-1.77zM489.7 87.26h1.77v6.68h-1.77zM307.7 93.91h1.77v6.68h-1.77zM316.5 93.91h1.77v6.68h-1.77zM321.7 93.91h1.77v6.68h-1.77zM325.2 93.91h1.77v6.68h-1.77zM328.7 93.91h1.77v6.68h-1.77zM355.0 93.91h1.77v6.68h-1.77zM362.0 93.91h1.77v6.68h-1.77zM365.5 93.91h1.77v6.68h-1.77zM376.0 93.91h1.77v6.68h-1.77zM398.7 93.91h1.77v6.68h-1.77zM461.7 93.91h1.77v6.68h-1.77zM321.7 100.57h1.77v6.68h-1.77zM356.7 100.57h1.77v6.68h-1.77zM388.2 100.57h1.77v6.68h-1.77zM400.5 100.57h1.77v6.68h-1.77zM449.5 100.57h1.77v6.68h-1.77zM458.2 100.57h1.77v6.68h-1.77zM470.5 100.57h1.77v6.68h-1.77zM475.7 100.57h1.77v6.68h-1.77zM311.2 107.23h1.77v6.68h-1.77zM313.0 107.23h1.77v6.68h-1.77zM328.7 107.23h1.77v6.68h-1.77zM332.2 107.23h1.77v6.68h-1.77zM356.7 107.23h1.77v6.68h-1.77zM360.2 107.23h1.77v6.68h-1.77zM376.0 107.23h1.77v6.68h-1.77zM400.5 107.23h1.77v6.68h-1.77zM405.7 107.23h1.77v6.68h-1.77zM435.5 107.23h1.77v6.68h-1.77zM372.5 113.89h1.77v6.68h-1.77zM405.7 113.89h1.77v6.68h-1.77zM412.7 113.89h1.77v6.68h-1.77zM444.2 113.89h1.77v6.68h-1.77zM328.7 120.54h1.77v6.68h-1.77zM330.5 120.54h1.77v6.68h-1.77zM353.2 120.54h1.77v6.68h-1.77zM360.2 120.54h1.77v6.68h-1.77zM374.2 120.54h1.77v6.68h-1.77zM383.0 120.54h1.77v6.68h-1.77zM384.7 120.54h1.77v6.68h-1.77zM407.5 120.54h1.77v6.68h-1.77zM421.5 120.54h1.77v6.68h-1.77zM472.2 120.54h1.77v6.68h-1.77zM500.2 120.54h1.77v6.68h-1.77z"/>
<path fill="#cba2d3" d="M384.7 34.00h1.77v6.68h-1.77zM412.7 34.00h1.77v6.68h-1.77zM463.5 34.00h1.77v6.68h-1.77zM468.7 34.00h1.77v6.68h-1.77zM491.5 34.00h1.77v6.68h-1.77zM498.5 34.00h1.77v6.68h-1.77zM500.2 34.00h1.77v6.68h-1.77zM335.7 40.66h1.77v6.68h-1.77zM402.2 40.66h1.77v6.68h-1.77zM456.5 40.66h1.77v6.68h-1.77zM409.2 47.31h1.77v6.68h-1.77zM416.2 47.31h1.77v6.68h-1.77zM421.5 47.31h1.77v6.68h-1.77zM449.5 47.31h1.77v6.68h-1.77zM456.5 47.31h1.77v6.68h-1.77zM467.0 47.31h1.77v6.68h-1.77zM495.0 47.31h1.77v6.68h-1.77zM502.0 47.31h1.77v6.68h-1.77zM384.7 53.97h1.77v6.68h-1.77zM414.5 53.97h1.77v6.68h-1.77zM477.5 53.97h1.77v6.68h-1.77zM402.2 60.63h1.77v6.68h-1.77zM411.0 60.63h1.77v6.68h-1.77zM412.7 60.63h1.77v6.68h-1.77zM418.0 60.63h1.77v6.68h-1.77zM426.7 60.63h1.77v6.68h-1.77zM428.5 60.63h1.77v6.68h-1.77zM430.2 60.63h1.77v6.68h-1.77zM432.0 60.63h1.77v6.68h-1.77zM307.7 67.29h1.77v6.68h-1.77zM346.2 67.29h1.77v6.68h-1.77zM367.2 67.29h1.77v6.68h-1.77zM409.2 67.29h1.77v6.68h-1.77zM418.0 67.29h1.77v6.68h-1.77zM454.7 67.29h1.77v6.68h-1.77zM460.0 67.29h1.77v6.68h-1.77zM482.7 67.29h1.77v6.68h-1.77zM484.5 67.29h1.77v6.68h-1.77zM488.0 67.29h1.77v6.68h-1.77zM489.7 67.29h1.77v6.68h-1.77zM493.2 67.29h1.77v6.68h-1.77zM318.2 73.94h1.77v6.68h-1.77zM335.7 73.94h1.77v6.68h-1.77zM339.2 73.94h1.77v6.68h-1.77zM388.2 73.94h1.77v6.68h-1.77zM432.0 73.94h1.77v6.68h-1.77zM437.2 73.94h1.77v6.68h-1.77zM440.7 73.94h1.77v6.68h-1.77zM447.7 73.94h1.77v6.68h-1.77zM467.0 73.94h1.77v6.68h-1.77zM472.2 73.94h1.77v6.68h-1.77zM475.7 73.94h1.77v6.68h-1.77zM503.7 73.94h1.77v6.68h-1.77zM309.5 80.60h1.77v6.68h-1.77zM379.5 80.60h1.77v6.68h-1.77zM412.7 80.60h1.77v6.68h-1.77zM500.2 80.60h1.77v6.68h-1.77zM307.7 87.26h1.77v6.68h-1.77zM314.7 87.26h1.77v6.68h-1.77zM328.7 87.26h1.77v6.68h-1.77zM363.7 87.26h1.77v6.68h-1.77zM397.0 87.26h1.77v6.68h-1.77zM398.7 87.26h1.77v6.68h-1.77zM472.2 87.26h1.77v6.68h-1.77zM314.7 93.91h1.77v6.68h-1.77zM332.2 93.91h1.77v6.68h-1.77zM341.0 93.91h1.77v6.68h-1.77zM351.5 93.91h1.77v6.68h-1.77zM353.2 93.91h1.77v6.68h-1.77zM360.2 93.91h1.77v6.68h-1.77zM370.7 93.91h1.77v6.68h-1.77zM374.2 93.91h1.77v6.68h-1.77zM395.2 93.91h1.77v6.68h-1.77zM302.5 100.57h1.77v6.68h-1.77zM306.0 100.57h1.77v6.68h-1.77zM334.0 100.57h1.77v6.68h-1.77zM335.7 100.57h1.77v6.68h-1.77zM339.2 100.57h1.77v6.68h-1.77zM342.7 100.57h1.77v6.68h-1.77zM362.0 100.57h1.77v6.68h-1.77zM384.7 100.57h1.77v6.68h-1.77zM386.5 100.57h1.77v6.68h-1.77zM500.2 100.57h1.77v6.68h-1.77zM314.7 107.23h1.77v6.68h-1.77zM351.5 107.23h1.77v6.68h-1.77zM355.0 107.23h1.77v6.68h-1.77zM377.7 107.23h1.77v6.68h-1.77zM390.0 107.23h1.77v6.68h-1.77zM402.2 107.23h1.77v6.68h-1.77zM404.0 107.23h1.77v6.68h-1.77zM418.0 107.23h1.77v6.68h-1.77zM307.7 113.89h1.77v6.68h-1.77zM321.7 113.89h1.77v6.68h-1.77zM344.5 113.89h1.77v6.68h-1.77zM386.5 113.89h1.77v6.68h-1.77zM327.0 120.54h1.77v6.68h-1.77zM355.0 120.54h1.77v6.68h-1.77zM358.5 120.54h1.77v6.68h-1.77zM372.5 120.54h1.77v6.68h-1.77zM379.5 120.54h1.77v6.68h-1.77zM386.5 120.54h1.77v6.68h-1.77zM402.2 120.54h1.77v6.68h-1.77zM412.7 120.54h1.77v6.68h-1.77z"/>
<path fill="#d198c4" d="M460.0 34.00h1.77v6.68h-1.77zM484.5 34.00h1.77v6.68h-1.77zM486.2 34.00h1.77v6.68h-1.77zM430.2 40.66h1.77v6.68h-1.77zM454.7 40.66h1.77v6.68h-1.77zM474.0 40.66h1.77v6.68h-1.77zM484.5 40.66h1.77v6.68h-1.77zM426.7 47.31h1.77v6.68h-1.77zM430.2 47.31h1.77v6.68h-1.77zM435.5 47.31h1.77v6.68h-1.77zM451.2 47.31h1.77v6.68h-1.77zM496.7 47.31h1.77v6.68h-1.77zM409.2 53.97h1.77v6.68h-1.77zM412.7 53.97h1.77v6.68h-1.77zM419.7 53.97h1.77v6.68h-1.77zM489.7 53.97h1.77v6.68h-1.77zM503.7 53.97h1.77v6.68h-1.77zM419.7 60.63h1.77v6.68h-1.77zM309.5 67.29h1.77v6.68h-1.77zM412.7 67.29h1.77v6.68h-1.77zM414.5 67.29h1.77v6.68h-1.77zM449.5 67.29h1.77v6.68h-1.77zM472.2 67.29h1.77v6.68h-1.77zM395.2 73.94h1.77v6.68h-1.77zM442.5 73.94h1.77v6.68h-1.77zM444.2 73.94h1.77v6.68h-1.77zM498.5 73.94h1.77v6.68h-1.77zM335.7 80.60h1.77v6.68h-1.77zM344.5 80.60h1.77v6.68h-1.77zM349.7 80.60h1.77v6.68h-1.77zM351.5 80.60h1.77v6.68h-1.77zM372.5 80.60h1.77v6.68h-1.77zM388.2 80.60h1.77v6.68h-1.77zM503.7 80.60h1.77v6.68h-1.77zM318.2 87.26h1.77v6.68h-1.77zM323.5 87.26h1.77v6.68h-1.77zM355.0 87.26h1.77v6.68h-1.77zM369.0 87.26h1.77v6.68h-1.77zM304.2 93.91h1.77v6.68h-1.77zM306.0 93.91h1.77v6.68h-1.77zM344.5 93.91h1.77v6.68h-1.77zM349.7 93.91h1.77v6.68h-1.77zM404.0 93.91h1.77v6.68h-1.77zM346.2 100.57h1.77v6.68h-1.77zM302.5 107.23h1.77v6.68h-1.77zM316.5 107.23h1.77v6.68h-1.77zM321.7 107.23h1.77v6.68h-1.77zM339.2 107.23h1.77v6.68h-1.77zM391.7 107.23h1.77v6.68h-1.77zM393.5 107.23h1.77v6.68h-1.77zM395.2 107.23h1.77v6.68h-1.77zM397.0 107.23h1.77v6.68h-1.77zM447.7 107.23h1.77v6.68h-1.77zM325.2 113.89h1.77v6.68h-1.77zM353.2 113.89h1.77v6.68h-1.77zM370.7 113.89h1.77v6.68h-1.77zM500.2 113.89h1.77v6.68h-1.77zM316.5 120.54h1.77v6.68h-1.77zM318.2 120.54h1.77v6.68h-1.77zM320.0 120.54h1.77v6.68h-1.77zM321.7 120.54h1.77v6.68h-1.77zM351.5 120.54h1.77v6.68h-1.77zM367.2 120.54h1.77v6.68h-1.77zM377.7 120.54h1.77v6.68h-1.77zM496.7 120.54h1.77v6.68h-1.77z"/>
<path fill="#d78cb2" d="M414.5 34.00h1.77v6.68h-1.77zM421.5 34.00h1.77v6.68h-1.77zM430.2 34.00h1.77v6.68h-1.77zM432.0 34.00h1.77v6.68h-1.77zM456.5 34.00h1.77v6.68h-1.77zM411.0 40.66h1.77v6.68h-1.77zM421.5 40.66h1.77v6.68h-1.77zM439.0 40.66h1.77v6.68h-1.77zM458.2 40.66h1.77v6.68h-1.77zM460.0 40.66h1.77v6.68h-1.77zM472.2 40.66h1.77v6.68h-1.77zM468.7 47.31h1.77v6.68h-1.77zM475.7 47.31h1.77v6.68h-1.77zM498.5 47.31h1.77v6.68h-1.77zM453.0 53.97h1.77v6.68h-1.77zM454.7 53.97h1.77v6.68h-1.77zM496.7 53.97h1.77v6.68h-1.77zM416.2 60.63h1.77v6.68h-1.77zM421.5 60.63h1.77v6.68h-1.77zM488.0 60.63h1.77v6.68h-1.77zM370.7 67.29h1.77v6.68h-1.77zM402.2 67.29h1.77v6.68h-1.77zM411.0 67.29h1.77v6.68h-1.77zM430.2 67.29h1.77v6.68h-1.77zM432.0 67.29h1.77v6.68h-1.77zM437.2 67.29h1.77v6.68h-1.77zM447.7 67.29h1.77v6.68h-1.77zM461.7 67.29h1.77v6.68h-1.77zM320.0 73.94h1.77v6.68h-1.77zM341.0 73.94h1.77v6.68h-1.77zM390.0 73.94h1.77v6.68h-1.77zM402.2 73.94h1.77v6.68h-1.77zM433.7 73.94h1.77v6.68h-1.77zM463.5 73.94h1.77v6.68h-1.77zM482.7 73.94h1.77v6.68h-1.77zM496.7 73.94h1.77v6.68h-1.77zM327.0 80.60h1.77v6.68h-1.77zM342.7 80.60h1.77v6.68h-1.77zM369.0 80.60h1.77v6.68h-1.77zM386.5 80.60h1.77v6.68h-1.77zM311.2 87.26h1.77v6.68h-1.77zM330.5 87.26h1.77v6.68h-1.77zM335.7 87.26h1.77v6.68h-1.77zM390.0 87.26h1.77v6.68h-1.77zM391.7 87.26h1.77v6.68h-1.77zM327.0 93.91h1.77v6.68h-1.77zM339.2 93.91h1.77v6.68h-1.77zM377.7 93.91h1.77v6.68h-1.77zM390.0 93.91h1.77v6.68h-1.77zM407.5 93.91h1.77v6.68h-1.77zM500.2 93.91h1.77v6.68h-1.77zM320.0 100.57h1.77v6.68h-1.77zM349.7 100.57h1.77v6.68h-1.77zM365.5 100.57h1.77v6.68h-1.77zM370.7 100.57h1.77v6.68h-1.77zM318.2 107.23h1.77v6.68h-1.77zM363.7 107.23h1.77v6.68h-1.77zM365.5 107.23h1.77v6.68h-1.77zM306.0 113.89h1.77v6.68h-1.77zM318.2 113.89h1.77v6.68h-1.77zM328.7 113.89h1.77v6.68h-1.77zM342.7 113.89h1.77v6.68h-1.77zM349.7 113.89h1.77v6.68h-1.77zM351.5 113.89h1.77v6.68h-1.77zM377.7 113.89h1.77v6.68h-1.77zM379.5 113.89h1.77v6.68h-1.77zM404.0 113.89h1.77v6.68h-1.77zM344.5 120.54h1.77v6.68h-1.77zM348.0 120.54h1.77v6.68h-1.77zM405.7 120.54h1.77v6.68h-1.77z"/>
<path fill="#dd80a0" d="M400.5 34.00h1.77v6.68h-1.77zM412.7 40.66h1.77v6.68h-1.77zM444.2 40.66h1.77v6.68h-1.77zM447.7 40.66h1.77v6.68h-1.77zM463.5 40.66h1.77v6.68h-1.77zM467.0 40.66h1.77v6.68h-1.77zM470.5 40.66h1.77v6.68h-1.77zM418.0 47.31h1.77v6.68h-1.77zM433.7 47.31h1.77v6.68h-1.77zM463.5 47.31h1.77v6.68h-1.77zM503.7 47.31h1.77v6.68h-1.77zM458.2 53.97h1.77v6.68h-1.77zM449.5 60.63h1.77v6.68h-1.77zM482.7 60.63h1.77v6.68h-1.77zM384.7 67.29h1.77v6.68h-1.77zM446.0 67.29h1.77v6.68h-1.77zM467.0 67.29h1.77v6.68h-1.77zM475.7 67.29h1.77v6.68h-1.77zM481.0 67.29h1.77v6.68h-1.77zM334.0 80.60h1.77v6.68h-1.77zM360.2 80.60h1.77v6.68h-1.77zM365.5 80.60h1.77v6.68h-1.77zM400.5 80.60h1.77v6.68h-1.77zM395.2 87.26h1.77v6.68h-1.77zM400.5 87.26h1.77v6.68h-1.77zM367.2 93.91h1.77v6.68h-1.77zM372.5 93.91h1.77v6.68h-1.77zM386.5 93.91h1.77v6.68h-1.77zM400.5 93.91h1.77v6.68h-1.77zM377.7 100.57h1.77v6.68h-1.77zM398.7 100.57h1.77v6.68h-1.77zM407.5 100.57h1.77v6.68h-1.77zM460.0 100.57h1.77v6.68h-1.77zM320.0 107.23h1.77v6.68h-1.77zM348.0 107.23h1.77v6.68h-1.77zM500.2 107.23h1.77v6.68h-1.77zM327.0 113.89h1.77v6.68h-1.77zM402.2 113.89h1.77v6.68h-1.77zM325.2 120.54h1.77v6.68h-1.77zM334.0 120.54h1.77v6.68h-1.77zM365.5 120.54h1.77v6.68h-1.77z"/>
<path fill="#df6f88" d="M482.7 34.00h1.77v6.68h-1.77zM432.0 40.66h1.77v6.68h-1.77zM465.2 40.66h1.77v6.68h-1.77zM468.7 40.66h1.77v6.68h-1.77zM500.2 40.66h1.77v6.68h-1.77zM502.0 40.66h1.77v6.68h-1.77zM402.2 47.31h1.77v6.68h-1.77zM456.5 53.97h1.77v6.68h-1.77zM500.2 60.63h1.77v6.68h-1.77zM335.7 67.29h1.77v6.68h-1.77zM444.2 67.29h1.77v6.68h-1.77zM458.2 73.94h1.77v6.68h-1.77zM489.7 73.94h1.77v6.68h-1.77zM402.2 80.60h1.77v6.68h-1.77zM404.0 80.60h1.77v6.68h-1.77zM309.5 87.26h1.77v6.68h-1.77zM339.2 87.26h1.77v6.68h-1.77zM344.5 87.26h1.77v6.68h-1.77zM335.7 93.91h1.77v6.68h-1.77zM384.7 93.91h1.77v6.68h-1.77zM309.5 100.57h1.77v6.68h-1.77zM311.2 100.57h1.77v6.68h-1.77zM390.0 100.57h1.77v6.68h-1.77zM306.0 107.23h1.77v6.68h-1.77zM335.7 107.23h1.77v6.68h-1.77zM344.5 107.23h1.77v6.68h-1.77zM372.5 107.23h1.77v6.68h-1.77zM374.2 107.23h1.77v6.68h-1.77zM407.5 107.23h1.77v6.68h-1.77zM374.2 113.89h1.77v6.68h-1.77zM335.7 120.54h1.77v6.68h-1.77zM349.7 120.54h1.77v6.68h-1.77zM390.0 120.54h1.77v6.68h-1.77zM391.7 120.54h1.77v6.68h-1.77zM393.5 120.54h1.77v6.68h-1.77z"/>
<path fill="#e05d70" d="M449.5 40.66h1.77v6.68h-1.77zM461.7 40.66h1.77v6.68h-1.77zM503.7 40.66h1.77v6.68h-1.77zM439.0 53.97h1.77v6.68h-1.77zM447.7 53.97h1.77v6.68h-1.77zM460.0 53.97h1.77v6.68h-1.77zM372.5 67.29h1.77v6.68h-1.77zM405.7 67.29h1.77v6.68h-1.77zM407.5 67.29h1.77v6.68h-1.77zM488.0 73.94h1.77v6.68h-1.77zM325.2 80.60h1.77v6.68h-1.77zM320.0 87.26h1.77v6.68h-1.77zM402.2 93.91h1.77v6.68h-1.77zM376.0 100.57h1.77v6.68h-1.77zM402.2 100.57h1.77v6.68h-1.77zM461.7 100.57h1.77v6.68h-1.77zM468.7 100.57h1.77v6.68h-1.77zM325.2 107.23h1.77v6.68h-1.77zM311.2 113.89h1.77v6.68h-1.77zM348.0 113.89h1.77v6.68h-1.77zM388.2 120.54h1.77v6.68h-1.77zM395.2 120.54h1.77v6.68h-1.77zM398.7 120.54h1.77v6.68h-1.77z"/>
<path fill="#e24a57" d="M503.7 34.00h1.77v6.68h-1.77zM451.2 40.66h1.77v6.68h-1.77zM500.2 47.31h1.77v6.68h-1.77zM320.0 53.97h1.77v6.68h-1.77zM500.2 53.97h1.77v6.68h-1.77zM456.5 60.63h1.77v6.68h-1.77zM458.2 60.63h1.77v6.68h-1.77zM377.7 67.29h1.77v6.68h-1.77zM379.5 67.29h1.77v6.68h-1.77zM307.7 73.94h1.77v6.68h-1.77zM500.2 73.94h1.77v6.68h-1.77zM353.2 87.26h1.77v6.68h-1.77zM365.5 87.26h1.77v6.68h-1.77zM367.2 87.26h1.77v6.68h-1.77zM377.7 87.26h1.77v6.68h-1.77zM383.0 87.26h1.77v6.68h-1.77zM355.0 100.57h1.77v6.68h-1.77zM372.5 100.57h1.77v6.68h-1.77zM381.2 107.23h1.77v6.68h-1.77zM360.2 113.89h1.77v6.68h-1.77zM302.5 120.54h1.77v6.68h-1.77zM339.2 120.54h1.77v6.68h-1.77zM397.0 120.54h1.77v6.68h-1.77z"/>
<path fill="#e03c44" d="M435.5 34.00h1.77v6.68h-1.77zM437.2 34.00h1.77v6.68h-1.77zM505.5 34.00h1.77v6.68h-1.77zM339.2 40.66h1.77v6.68h-1.77zM341.0 40.66h1.77v6.68h-1.77zM316.5 53.97h1.77v6.68h-1.77zM446.0 60.63h1.77v6.68h-1.77zM447.7 60.63h1.77v6.68h-1.77zM454.7 60.63h1.77v6.68h-1.77zM460.0 60.63h1.77v6.68h-1.77zM474.0 60.63h1.77v6.68h-1.77zM502.0 67.29h1.77v6.68h-1.77zM304.2 73.94h1.77v6.68h-1.77zM414.5 73.94h1.77v6.68h-1.77zM421.5 73.94h1.77v6.68h-1.77zM302.5 80.60h1.77v6.68h-1.77zM304.2 80.60h1.77v6.68h-1.77zM314.7 80.60h1.77v6.68h-1.77zM320.0 80.60h1.77v6.68h-1.77zM321.7 80.60h1.77v6.68h-1.77zM323.5 80.60h1.77v6.68h-1.77zM346.2 80.60h1.77v6.68h-1.77zM348.0 80.60h1.77v6.68h-1.77zM349.7 87.26h1.77v6.68h-1.77zM372.5 87.26h1.77v6.68h-1.77zM386.5 87.26h1.77v6.68h-1.77zM503.7 87.26h1.77v6.68h-1.77zM327.0 100.57h1.77v6.68h-1.77zM374.2 100.57h1.77v6.68h-1.77zM393.5 100.57h1.77v6.68h-1.77zM395.2 100.57h1.77v6.68h-1.77zM384.7 107.23h1.77v6.68h-1.77zM388.2 107.23h1.77v6.68h-1.77zM388.2 113.89h1.77v6.68h-1.77zM304.2 120.54h1.77v6.68h-1.77zM307.7 120.54h1.77v6.68h-1.77zM400.5 120.54h1.77v6.68h-1.77z"/>
<path fill="#de2e32" d="M433.7 34.00h1.77v6.68h-1.77zM446.0 34.00h1.77v6.68h-1.77zM482.7 40.66h1.77v6.68h-1.77zM491.5 40.66h1.77v6.68h-1.77zM493.2 40.66h1.77v6.68h-1.77zM495.0 40.66h1.77v6.68h-1.77zM482.7 47.31h1.77v6.68h-1.77zM484.5 47.31h1.77v6.68h-1.77zM486.2 47.31h1.77v6.68h-1.77zM318.2 53.97h1.77v6.68h-1.77zM428.5 53.97h1.77v6.68h-1.77zM430.2 53.97h1.77v6.68h-1.77zM433.7 53.97h1.77v6.68h-1.77zM435.5 53.97h1.77v6.68h-1.77zM444.2 60.63h1.77v6.68h-1.77zM481.0 60.63h1.77v6.68h-1.77zM496.7 67.29h1.77v6.68h-1.77zM500.2 67.29h1.77v6.68h-1.77zM503.7 67.29h1.77v6.68h-1.77zM306.0 73.94h1.77v6.68h-1.77zM407.5 73.94h1.77v6.68h-1.77zM412.7 73.94h1.77v6.68h-1.77zM306.0 80.60h1.77v6.68h-1.77zM307.7 80.60h1.77v6.68h-1.77zM316.5 80.60h1.77v6.68h-1.77zM318.2 80.60h1.77v6.68h-1.77zM407.5 80.60h1.77v6.68h-1.77zM348.0 87.26h1.77v6.68h-1.77zM351.5 87.26h1.77v6.68h-1.77zM370.7 87.26h1.77v6.68h-1.77zM379.5 87.26h1.77v6.68h-1.77zM381.2 87.26h1.77v6.68h-1.77zM402.2 87.26h1.77v6.68h-1.77zM500.2 87.26h1.77v6.68h-1.77zM505.5 87.26h1.77v6.68h-1.77zM325.2 100.57h1.77v6.68h-1.77zM330.5 100.57h1.77v6.68h-1.77zM351.5 100.57h1.77v6.68h-1.77zM397.0 100.57h1.77v6.68h-1.77zM386.5 107.23h1.77v6.68h-1.77zM335.7 113.89h1.77v6.68h-1.77zM337.5 113.89h1.77v6.68h-1.77zM390.0 113.89h1.77v6.68h-1.77zM393.5 113.89h1.77v6.68h-1.77zM400.5 113.89h1.77v6.68h-1.77zM306.0 120.54h1.77v6.68h-1.77zM309.5 120.54h1.77v6.68h-1.77zM311.2 120.54h1.77v6.68h-1.77z"/>
<path fill="#dc2020" d="M439.0 34.00h1.77v6.68h-1.77zM440.7 34.00h1.77v6.68h-1.77zM442.5 34.00h1.77v6.68h-1.77zM444.2 34.00h1.77v6.68h-1.77zM447.7 34.00h1.77v6.68h-1.77zM489.7 40.66h1.77v6.68h-1.77zM496.7 40.66h1.77v6.68h-1.77zM488.0 47.31h1.77v6.68h-1.77zM432.0 53.97h1.77v6.68h-1.77zM470.5 60.63h1.77v6.68h-1.77zM472.2 60.63h1.77v6.68h-1.77zM475.7 60.63h1.77v6.68h-1.77zM477.5 60.63h1.77v6.68h-1.77zM479.2 60.63h1.77v6.68h-1.77zM498.5 67.29h1.77v6.68h-1.77zM505.5 67.29h1.77v6.68h-1.77zM405.7 73.94h1.77v6.68h-1.77zM409.2 73.94h1.77v6.68h-1.77zM411.0 73.94h1.77v6.68h-1.77zM416.2 73.94h1.77v6.68h-1.77zM418.0 73.94h1.77v6.68h-1.77zM419.7 73.94h1.77v6.68h-1.77zM423.2 73.94h1.77v6.68h-1.77zM425.0 73.94h1.77v6.68h-1.77zM374.2 87.26h1.77v6.68h-1.77zM376.0 87.26h1.77v6.68h-1.77zM502.0 87.26h1.77v6.68h-1.77zM328.7 100.57h1.77v6.68h-1.77zM353.2 100.57h1.77v6.68h-1.77zM383.0 107.23h1.77v6.68h-1.77zM332.2 113.89h1.77v6.68h-1.77zM334.0 113.89h1.77v6.68h-1.77zM339.2 113.89h1.77v6.68h-1.77zM391.7 113.89h1.77v6.68h-1.77zM395.2 113.89h1.77v6.68h-1.77zM397.0 113.89h1.77v6.68h-1.77zM398.7 113.89h1.77v6.68h-1.77zM472.2 113.89h1.77v6.68h-1.77zM474.0 113.89h1.77v6.68h-1.77z"/>
</g>
<path fill="none" stroke="#262626" stroke-width="0.5" d="M38.34 29.60V19.93H38.63V29.60M39.21 29.60V22.11H39.50V29.60M38.92 29.60V20.29H39.36V22.11M38.49 19.93V18.00H39.14V20.29M39.79 29.60V18.53H40.08V29.60M38.81 18.00V16.30H39.94V18.53M40.37 29.60V19.54H40.66V29.60M41.24 29.60V22.62H41.53V29.60M40.95 29.60V19.72H41.38V22.62M40.51 19.54V17.62H41.17V19.72M41.82 29.60V17.34H42.11V29.60M40.84 17.62V15.89H41.96V17.34M39.38 16.30V13.67H41.40V15.89M42.39 29.60V18.40H42.68V29.60M42.97 29.60V19.32H43.26V29.60M42.54 18.40V16.81H43.12V19.32M43.84 29.60V21.71H44.13V29.60M43.55 29.60V19.57H43.99V21.71M44.42 29.60V22.32H44.71V29.60M45.00 29.60V23.73H45.29V29.60M45.58 29.60V23.77H45.87V29.60M45.14 23.73V22.27H45.72V23.77M44.56 22.32V19.46H45.43V22.27M43.77 19.57V18.03H45.00V19.46M42.83 16.81V15.37H44.38V18.03M46.16 29.60V22.52H46.45V29.60M46.73 29.60V22.68H47.02V29.60M46.30 22.52V19.94H46.88V22.68M47.31 29.60V23.51H47.60V29.60M47.46 23.51V21.15H47.89V29.60M48.47 29.60V24.64H48.76V29.60M48.62 24.64V22.28H49.05V29.60M48.18 29.60V20.71H48.83V22.28M47.67 21.15V19.22H48.51V20.71M46.59 19.94V17.60H48.09V19.22M49.63 29.60V22.05H49.92V29.60M49.34 29.60V19.81H49.77V22.05M50.78 29.60V24.49H51.07V29.60M50.50 29.60V23.01H50.93V24.49M50.21 29.60V20.59H50.71V23.01M49.56 19.81V17.82H50.46V20.59M47.34 17.60V15.03H50.01V17.82M43.61 15.37V13.49H48.67V15.03M40.39 13.67V11.09H46.14V13.49M51.65 29.60V19.34H51.94V29.60M51.36 29.60V17.50H51.80V19.34M52.23 29.60V18.08H52.52V29.60M51.58 17.50V15.74H52.38V18.08M52.81 29.60V19.21H53.10V29.60M53.39 29.60V19.40H53.68V29.60M52.95 19.21V17.77H53.53V19.40M53.24 17.77V16.22H53.97V29.60M51.98 15.74V13.92H53.61V16.22M54.26 29.60V20.35H54.55V29.60M54.84 29.60V20.07H55.12V29.60M54.40 20.35V17.83H54.98V20.07M55.70 29.60V25.42H55.99V29.60M55.41 29.60V23.09H55.85V25.42M55.63 23.09V21.52H56.28V29.60M56.57 29.60V21.06H56.86V29.60M55.96 21.52V18.92H56.72V21.06M54.69 17.83V16.20H56.34V18.92M57.15 29.60V21.66H57.44V29.60M57.73 29.60V20.62H58.02V29.60M57.29 21.66V18.97H57.87V20.62M58.31 29.60V20.00H58.60V29.60M58.45 20.00V18.42H58.89V29.60M57.58 18.97V16.82H58.67V18.42M55.51 16.20V14.29H58.13V16.82M52.79 13.92V12.31H56.82V14.29M59.17 29.60V19.79H59.46V29.60M59.75 29.60V18.45H60.04V29.60M59.32 19.79V16.93H59.90V18.45M60.33 29.60V16.88H60.62V29.60M59.61 16.93V14.88H60.48V16.88M60.91 29.60V20.03H61.20V29.60M61.06 20.03V17.26H61.49V29.60M61.78 29.60V21.35H62.07V29.60M62.36 29.60V22.21H62.65V29.60M61.92 21.35V19.82H62.50V22.21M62.94 29.60V21.79H63.22V29.60M63.08 21.79V19.50H63.51V29.60M62.21 19.82V17.87H63.30V19.50M61.27 17.26V15.79H62.75V17.87M60.04 14.88V13.09H62.01V15.79M54.81 12.31V10.51H61.03V13.09M43.26 11.09V8.69H57.92V10.51M64.09 29.60V18.74H64.38V29.60M63.80 29.60V16.74H64.24V18.74M64.02 16.74V14.61H64.67V29.60M65.25 29.60V21.10H65.54V29.60M64.96 29.60V19.10H65.39V21.10M65.18 19.10V16.30H65.83V29.60M66.41 29.60V18.97H66.70V29.60M66.12 29.60V16.87H66.55V18.97M65.50 16.30V14.12H66.33V16.87M64.35 14.61V12.48H65.92V14.12M67.28 29.60V18.52H67.56V29.60M66.99 29.60V17.10H67.42V18.52M68.14 29.60V19.56H68.43V29.60M67.85 29.60V17.60H68.29V19.56M67.20 17.10V14.90H68.07V17.60M68.72 29.60V16.35H69.01V29.60M69.30 29.60V16.94H69.59V29.60M68.87 16.35V14.67H69.45V16.94M67.64 14.90V13.26H69.16V14.67M65.13 12.48V10.41H68.40V13.26M70.17 29.60V18.38H70.46V29.60M69.88 29.60V15.86H70.31V18.38M71.33 29.60V19.30H71.61V29.60M71.04 29.60V17.24H71.47V19.30M70.75 29.60V15.54H71.25V17.24M70.10 15.86V13.48H71.00V15.54M71.90 29.60V17.69H72.19V29.60M72.48 29.60V17.27H72.77V29.60M72.05 17.69V15.26H72.63V17.27M73.06 29.60V15.56H73.35V29.60M72.34 15.26V13.79H73.21V15.56M70.55 13.48V10.96H72.77V13.79M66.76 10.41V8.52H71.66V10.96M50.59 8.69V7.66H69.21V8.52M73.64 29.60V13.74H73.93V29.60M73.78 13.74V11.92H74.22V29.60M74.51 29.60V14.69H74.80V29.60M75.09 29.60V14.81H75.38V29.60M74.65 14.69V12.22H75.23V14.81M74.00 11.92V10.48H74.94V12.22M75.67 29.60V16.52H75.95V29.60M76.24 29.60V16.46H76.53V29.60M75.81 16.52V14.55H76.39V16.46M76.82 29.60V14.37H77.11V29.60M76.10 14.55V12.10H76.97V14.37M77.40 29.60V15.82H77.69V29.60M77.55 15.82V13.21H77.98V29.60M77.76 13.21V11.67H78.27V29.60M76.53 12.10V10.07H78.02V11.67M74.47 10.48V8.52H77.27V10.07M78.56 29.60V17.29H78.85V29.60M78.70 17.29V15.40H79.14V29.60M79.43 29.60V17.14H79.72V29.60M80.00 29.60V17.13H80.29V29.60M79.57 17.14V15.35H80.15V17.13M78.92 15.40V13.04H79.86V15.35M80.58 29.60V16.11H80.87V29.60M80.73 16.11V13.55H81.16V29.60M79.39 13.04V11.36H80.94V13.55M81.45 29.60V20.27H81.74V29.60M81.60 20.27V17.42H82.03V29.60M82.61 29.60V21.04H82.90V29.60M82.75 21.04V19.10H83.19V29.60M82.32 29.60V17.67H82.97V19.10M81.81 17.42V14.80H82.64V17.67M83.48 29.60V17.64H83.77V29.60M84.34 29.60V18.89H84.63V29.60M84.05 29.60V16.99H84.49V18.89M83.62 17.64V15.44H84.27V16.99M82.23 14.80V12.68H83.95V15.44M84.92 29.60V16.35H85.21V29.60M85.07 16.35V13.86H85.50V29.60M86.37 29.60V21.72H86.66V29.60M86.08 29.60V18.96H86.51V21.72M85.79 29.60V17.49H86.30V18.96M87.24 29.60V19.74H87.53V29.60M86.95 29.60V17.67H87.38V19.74M86.04 17.49V15.07H87.16V17.67M85.28 13.86V12.37H86.60V15.07M83.09 12.68V10.94H85.94V12.37M80.17 11.36V8.71H84.52V10.94M75.87 8.52V7.70H82.34V8.71M59.90 7.66V7.01H79.11V7.70M87.82 29.60V23.03H88.11V29.60M88.39 29.60V22.63H88.68V29.60M87.96 23.03V20.20H88.54V22.63M88.25 20.20V18.67H88.97V29.60M89.55 29.60V20.36H89.84V29.60M89.26 29.60V18.53H89.70V20.36M88.61 18.67V16.20H89.48V18.53M90.42 29.60V19.45H90.71V29.60M90.13 29.60V16.66H90.56V19.45M89.05 16.20V14.32H90.35V16.66M91.00 29.60V24.53H91.29V29.60M91.58 29.60V24.81H91.87V29.60M91.14 24.53V22.66H91.72V24.81M92.16 29.60V26.53H92.44V29.60M92.30 26.53V23.72H92.73V29.60M91.43 22.66V21.04H92.52V23.72M93.31 29.60V24.95H93.60V29.60M93.46 24.95V22.85H93.89V29.60M93.02 29.60V21.15H93.67V22.85M91.97 21.04V18.27H93.35V21.15M94.18 29.60V20.09H94.47V29.60M94.76 29.60V22.96H95.05V29.60M95.34 29.60V21.72H95.63V29.60M94.90 22.96V20.14H95.48V21.72M94.33 20.09V18.23H95.19V20.14M92.66 18.27V15.39H94.76V18.23M96.21 29.60V18.96H96.50V29.60M95.92 29.60V17.42H96.35V18.96M97.07 29.60V22.20H97.36V29.60M96.78 29.60V20.15H97.22V22.20M97.00 20.15V17.67H97.65V29.60M96.13 17.42V15.30H97.33V17.67M93.71 15.39V13.63H96.73V15.30M89.70 14.32V11.58H95.22V13.63M98.23 29.60V19.45H98.52V29.60M97.94 29.60V17.20H98.38V19.45M98.81 29.60V16.02H99.10V29.60M98.16 17.20V14.45H98.95V16.02M99.68 29.60V21.34H99.97V29.60M99.82 21.34V18.81H100.26V29.60M99.39 29.60V16.13H100.04V18.81M100.55 29.60V18.78H100.83V29.60M100.69 18.78V16.21H101.12V29.60M99.71 16.13V14.28H100.91V16.21M98.56 14.45V12.02H100.31V14.28M92.46 11.58V9.41H99.43V12.02M101.41 29.60V16.66H101.70V29.60M101.99 29.60V21.10H102.28V29.60M102.14 21.10V19.24H102.57V29.60M102.35 19.24V17.51H102.86V29.60M101.56 16.66V14.84H102.61V17.51M103.73 29.60V18.70H104.02V29.60M103.44 29.60V16.62H103.87V18.70M103.15 29.60V14.73H103.66V16.62M102.08 14.84V12.72H103.40V14.73M104.60 29.60V17.46H104.88V29.60M104.31 29.60V15.39H104.74V17.46M105.17 29.60V18.63H105.46V29.60M105.32 18.63V16.48H105.75V29.60M106.33 29.60V18.70H106.62V29.60M106.04 29.60V16.16H106.48V18.70M105.54 16.48V14.17H106.26V16.16M104.52 15.39V12.72H105.90V14.17M102.74 12.72V10.80H105.21V12.72M106.91 29.60V17.35H107.20V29.60M107.78 29.60V21.62H108.07V29.60M107.92 21.62V20.04H108.36V29.60M107.49 29.60V17.43H108.14V20.04M107.05 17.35V14.94H107.81V17.43M108.94 29.60V18.82H109.22V29.60M108.65 29.60V17.16H109.08V18.82M109.51 29.60V19.39H109.80V29.60M109.66 19.39V16.75H110.09V29.60M108.86 17.16V15.17H109.88V16.75M107.43 14.94V13.21H109.37V15.17M110.67 29.60V18.16H110.96V29.60M111.25 29.60V17.44H111.54V29.60M110.82 18.16V15.62H111.39V17.44M110.38 29.60V14.06H111.11V15.62M108.40 13.21V11.44H110.74V14.06M103.98 10.80V9.23H109.57V11.44M95.95 9.41V8.16H106.77V9.23M111.83 29.60V18.97H112.12V29.60M111.97 18.97V16.08H112.41V29.60M112.70 29.60V18.87H112.99V29.60M112.84 18.87V16.64H113.27V29.60M112.19 16.08V13.87H113.06V16.64M114.14 29.60V19.88H114.43V29.60M113.85 29.60V17.80H114.29V19.88M113.56 29.60V16.28H114.07V17.80M114.72 29.60V18.27H115.01V29.60M114.87 18.27V16.54H115.30V29.60M113.82 16.28V14.69H115.08V16.54M115.59 29.60V19.06H115.88V29.60M116.17 29.60V19.30H116.46V29.60M115.73 19.06V17.52H116.31V19.30M117.04 29.60V20.09H117.33V29.60M116.75 29.60V17.66H117.18V20.09M116.02 17.52V15.22H116.96V17.66M114.45 14.69V12.97H116.49V15.22M112.62 13.87V11.15H115.47V12.97M117.90 29.60V19.03H118.19V29.60M118.05 19.03V16.43H118.48V29.60M117.61 29.60V15.02H118.27V16.43M119.06 29.60V19.20H119.35V29.60M119.21 19.20V16.70H119.64V29.60M118.77 29.60V14.69H119.42V16.70M117.94 15.02V12.70H119.10V14.69M120.22 29.60V15.65H120.51V29.60M119.93 29.60V13.59H120.36V15.65M118.52 12.70V11.17H120.15V13.59M114.05 11.15V8.90H119.33V11.17M120.80 29.60V17.37H121.09V29.60M120.94 17.37V14.83H121.38V29.60M121.16 14.83V12.13H121.66V29.60M121.95 29.60V17.11H122.24V29.60M122.10 17.11V15.39H122.53V29.60M122.82 29.60V14.42H123.11V29.60M122.32 15.39V12.53H122.97V14.42M121.41 12.13V10.35H122.64V12.53M123.40 29.60V19.75H123.69V29.60M123.55 19.75V17.95H123.98V29.60M123.76 17.95V15.19H124.27V29.60M124.02 15.19V12.58H124.56V29.60M124.85 29.60V16.76H125.14V29.60M124.99 16.76V15.17H125.43V29.60M125.71 29.60V21.04H126.00V29.60M125.86 21.04V19.03H126.29V29.60M126.58 29.60V18.79H126.87V29.60M126.08 19.03V17.12H126.73V18.79M127.16 29.60V18.61H127.45V29.60M127.74 29.60V19.00H127.94V29.60M127.31 18.61V17.03H127.84V19.00M126.40 17.12V14.60H127.57V17.03M125.21 15.17V12.95H126.99V14.60M124.29 12.58V11.17H126.10V12.95M122.03 10.35V8.36H125.19V11.17M116.69 8.90V7.72H123.61V8.36M101.36 8.16V7.09H120.15V7.72M69.50 7.01V6.39H110.75V7.09M128.14 29.60V20.80H128.43V29.60M128.72 29.60V19.73H129.01V29.60M128.29 20.80V18.01H128.87V19.73M128.58 18.01V15.34H129.30V29.60M129.59 29.60V16.80H129.88V29.60M129.74 16.80V15.11H130.17V29.60M128.94 15.34V13.31H129.95V15.11M130.46 29.60V16.11H130.75V29.60M131.04 29.60V15.98H131.33V29.60M130.60 16.11V13.50H131.18V15.98M129.45 13.31V11.64H130.89V13.50M131.62 29.60V18.45H131.91V29.60M132.48 29.60V19.88H132.77V29.60M132.19 29.60V17.95H132.63V19.88M131.76 18.45V16.01H132.41V17.95M133.35 29.60V19.62H133.64V29.60M133.06 29.60V16.76H133.50V19.62M132.09 16.01V14.05H133.28V16.76M133.93 29.60V15.35H134.22V29.60M134.51 29.60V19.02H134.80V29.60M135.38 29.60V20.01H135.67V29.60M135.09 29.60V17.99H135.52V20.01M134.65 19.02V16.13H135.30V17.99M134.08 15.35V13.86H134.98V16.13M132.68 14.05V12.16H134.53V13.86M130.17 11.64V9.51H133.61V12.16M136.53 29.60V20.08H136.82V29.60M136.25 29.60V18.17H136.68V20.08M135.96 29.60V16.37H136.46V18.17M137.11 29.60V16.91H137.40V29.60M137.98 29.60V22.44H138.27V29.60M137.69 29.60V20.18H138.13V22.44M137.91 20.18V18.01H138.56V29.60M137.26 16.91V15.19H138.23V18.01M136.21 16.37V13.53H137.75V15.19M139.14 29.60V18.24H139.43V29.60M138.85 29.60V15.75H139.28V18.24M140.30 29.60V19.77H140.58V29.60M140.01 29.60V18.32H140.44V19.77M139.72 29.60V15.68H140.22V18.32M139.07 15.75V13.09H139.97V15.68M136.98 13.53V10.85H139.52V13.09M140.87 29.60V15.32H141.16V29.60M141.45 29.60V18.69H141.74V29.60M142.32 29.60V19.64H142.61V29.60M142.03 29.60V17.31H142.47V19.64M141.60 18.69V15.88H142.25V17.31M141.02 15.32V13.83H141.92V15.88M142.90 29.60V14.85H143.19V29.60M143.48 29.60V19.10H143.77V29.60M143.62 19.10V16.56H144.06V29.60M144.35 29.60V16.38H144.64V29.60M143.84 16.56V14.74H144.49V16.38M143.04 14.85V12.46H144.16V14.74M141.47 13.83V11.02H143.60V12.46M138.25 10.85V8.86H142.54V11.02M131.89 9.51V8.25H140.39V8.86M144.92 29.60V17.88H145.21V29.60M145.50 29.60V18.30H145.79V29.60M145.07 17.88V15.43H145.65V18.30M146.08 29.60V16.65H146.37V29.60M146.23 16.65V15.04H146.66V29.60M145.36 15.43V12.66H146.44V15.04M147.24 29.60V20.27H147.53V29.60M146.95 29.60V18.31H147.38V20.27M147.17 18.31V15.55H147.82V29.60M148.11 29.60V16.44H148.40V29.60M147.49 15.55V13.98H148.25V16.44M148.69 29.60V16.39H148.97V29.60M149.26 29.60V22.82H149.55V29.60M149.41 22.82V19.96H149.84V29.60M150.13 29.60V19.54H150.42V29.60M149.63 19.96V17.07H150.28V19.54M148.83 16.39V14.39H149.95V17.07M147.87 13.98V11.62H149.39V14.39M145.90 12.66V9.84H148.63V11.62M150.71 29.60V18.63H151.00V29.60M151.29 29.60V18.42H151.58V29.60M150.86 18.63V15.95H151.43V18.42M151.87 29.60V15.55H152.16V29.60M151.14 15.95V13.51H152.01V15.55M153.02 29.60V18.43H153.31V29.60M152.74 29.60V16.05H153.17V18.43M152.45 29.60V14.18H152.95V16.05M151.58 13.51V11.67H152.70V14.18M153.60 29.60V19.94H153.89V29.60M154.18 29.60V19.57H154.47V29.60M153.75 19.94V18.07H154.33V19.57M154.76 29.60V17.03H155.05V29.60M154.04 18.07V15.21H154.91V17.03M155.63 29.60V21.68H155.92V29.60M155.77 21.68V19.57H156.21V29.60M155.34 29.60V17.64H155.99V19.57M156.79 29.60V19.98H157.08V29.60M156.50 29.60V17.53H156.93V19.98M155.66 17.64V15.27H156.71V17.53M154.47 15.21V13.44H156.19V15.27M157.36 29.60V21.40H157.65V29.60M157.51 21.40V18.62H157.94V29.60M157.73 18.62V16.25H158.23V29.60M158.52 29.60V17.31H158.81V29.60M157.98 16.25V14.47H158.67V17.31M159.10 29.60V14.33H159.39V29.60M158.32 14.47V12.30H159.25V14.33M155.33 13.44V10.76H158.78V12.30M152.14 11.67V9.31H157.06V10.76M147.27 9.84V8.70H154.60V9.31M136.14 8.25V7.59H150.93V8.70M159.68 29.60V19.24H159.97V29.60M160.26 29.60V19.33H160.55V29.60M159.82 19.24V17.10H160.40V19.33M160.84 29.60V21.57H161.13V29.60M161.41 29.60V21.40H161.70V29.60M160.98 21.57V19.44H161.56V21.40M161.99 29.60V19.11H162.28V29.60M161.27 19.44V17.32H162.14V19.11M160.11 17.10V15.11H161.70V17.32M162.57 29.60V23.92H162.86V29.60M162.72 23.92V22.33H163.15V29.60M163.44 29.60V22.96H163.73V29.60M162.93 22.33V20.68H163.58V22.96M164.02 29.60V20.74H164.31V29.60M163.26 20.68V19.09H164.16V20.74M164.60 29.60V19.52H164.89V29.60M165.75 29.60V23.89H166.04V29.60M165.47 29.60V21.88H165.90V23.89M165.18 29.60V20.14H165.68V21.88M164.74 19.52V17.91H165.43V20.14M163.71 19.09V16.22H165.09V17.91M160.91 15.11V13.43H164.40V16.22M166.33 29.60V18.69H166.62V29.60M167.20 29.60V20.73H167.49V29.60M166.91 29.60V18.12H167.35V20.73M166.48 18.69V16.04H167.13V18.12M167.78 29.60V22.22H168.07V29.60M168.65 29.60V25.06H168.94V29.60M168.36 29.60V22.46H168.79V25.06M167.92 22.22V20.40H168.58V22.46M169.52 29.60V21.88H169.80V29.60M169.23 29.60V20.44H169.66V21.88M168.25 20.40V18.87H169.44V20.44M170.09 29.60V22.49H170.38V29.60M170.24 22.49V19.97H170.67V29.60M171.25 29.60V22.29H171.54V29.60M170.96 29.60V20.66H171.40V22.29M170.46 19.97V17.97H171.18V20.66M168.85 18.87V15.99H170.82V17.97M166.80 16.04V13.17H169.83V15.99M162.65 13.43V11.58H168.32V13.17M171.83 29.60V21.74H172.12V29.60M172.99 29.60V25.83H173.28V29.60M172.70 29.60V23.78H173.13V25.83M172.41 29.60V21.93H172.91V23.78M171.97 21.74V20.23H172.66V21.93M173.57 29.60V22.51H173.85V29.60M173.71 22.51V20.63H174.14V29.60M173.93 20.63V19.22H174.43V29.60M172.32 20.23V17.33H174.18V19.22M174.72 29.60V21.57H175.01V29.60M175.30 29.60V23.78H175.59V29.60M175.88 29.60V29.28H176.17V29.60M176.02 29.28V27.44H176.46V29.60M176.24 27.44V24.98H176.75V29.60M175.45 23.78V22.13H176.49V24.98M174.87 21.57V19.36H175.97V22.13M177.04 29.60V23.63H177.33V29.60M177.62 29.60V24.56H177.91V29.60M177.18 23.63V21.81H177.76V24.56M178.19 29.60V21.38H178.48V29.60M177.47 21.81V19.72H178.34V21.38M175.42 19.36V17.92H177.91V19.72M173.25 17.33V15.64H176.66V17.92M178.77 29.60V24.71H179.06V29.60M179.35 29.60V25.29H179.64V29.60M178.92 24.71V22.62H179.50V25.29M179.93 29.60V26.70H180.22V29.60M180.08 26.70V24.40H180.51V29.60M180.80 29.60V29.52H181.09V29.60M180.94 29.52V26.76H181.38V29.60M181.67 29.60V27.07H181.96V29.60M181.16 26.76V24.58H181.81V27.07M180.29 24.40V22.06H181.49V24.58M179.21 22.62V19.92H180.89V22.06M182.53 29.60V28.55H182.82V29.60M182.68 28.55V26.85H183.11V29.60M182.24 29.60V24.52H182.90V26.85M183.40 29.60V23.19H183.69V29.60M182.57 24.52V21.67H183.55V23.19M183.98 29.60V24.20H184.27V29.60M184.56 29.60V24.50H184.85V29.60M184.13 24.20V21.82H184.70V24.50M183.06 21.67V20.11H184.41V21.82M180.05 19.92V17.37H183.74V20.11M185.14 29.60V24.51H185.43V29.60M185.72 29.60V25.45H186.01V29.60M185.86 25.45V23.67H186.30V29.60M185.28 24.51V22.27H186.08V23.67M186.58 29.60V25.32H186.87V29.60M187.45 29.60V27.29H187.74V29.60M187.16 29.60V24.56H187.60V27.29M186.73 25.32V23.08H187.38V24.56M185.68 22.27V20.62H187.05V23.08M188.03 29.60V24.08H188.32V29.60M188.61 29.60V27.15H188.90V29.60M189.19 29.60V26.92H189.48V29.60M188.75 27.15V24.84H189.33V26.92M188.18 24.08V22.05H189.04V24.84M189.77 29.60V22.25H190.06V29.60M188.61 22.05V20.15H189.91V22.25M186.37 20.62V17.99H189.26V20.15M181.89 17.37V15.89H187.81V17.99M174.96 15.64V13.57H184.85V15.89M190.35 29.60V25.19H190.63V29.60M190.92 29.60V24.25H191.21V29.60M190.49 25.19V22.85H191.07V24.25M191.50 29.60V24.14H191.79V29.60M190.78 22.85V21.28H191.65V24.14M192.08 29.60V21.41H192.37V29.60M191.21 21.28V19.40H192.23V21.41M192.66 29.60V24.08H192.95V29.60M192.80 24.08V21.90H193.24V29.60M193.53 29.60V21.41H193.82V29.60M193.02 21.90V19.70H193.67V21.41M191.72 19.40V17.97H193.35V19.70M194.11 29.60V20.08H194.40V29.60M194.68 29.60V22.03H194.97V29.60M195.26 29.60V22.30H195.55V29.60M194.83 22.03V20.34H195.41V22.30M194.25 20.08V18.58H195.12V20.34M192.53 17.97V15.95H194.68V18.58M196.13 29.60V22.25H196.42V29.60M195.84 29.60V20.71H196.28V22.25M196.71 29.60V22.67H197.00V29.60M196.85 22.67V20.28H197.29V29.60M196.06 20.71V18.64H197.07V20.28M197.58 29.60V20.39H197.87V29.60M198.16 29.60V19.54H198.45V29.60M197.72 20.39V17.88H198.30V19.54M196.57 18.64V16.22H198.01V17.88M193.61 15.95V14.37H197.29V16.22M179.90 13.57V11.90H195.45V14.37M165.49 11.58V9.74H187.68V11.90M199.02 29.60V20.08H199.31V29.60M198.74 29.60V18.61H199.17V20.08M199.60 29.60V19.07H199.89V29.60M200.47 29.60V22.13H200.76V29.60M200.18 29.60V20.23H200.62V22.13M199.75 19.07V17.57H200.40V20.23M198.95 18.61V15.97H200.07V17.57M201.05 29.60V21.77H201.34V29.60M201.19 21.77V19.40H201.63V29.60M201.41 19.40V16.50H201.92V29.60M202.50 29.60V25.84H202.79V29.60M202.64 25.84V24.00H203.07V29.60M202.86 24.00V21.23H203.36V29.60M202.21 29.60V19.81H203.11V21.23M203.65 29.60V21.84H203.94V29.60M204.23 29.60V23.88H204.52V29.60M204.38 23.88V21.22H204.81V29.60M203.80 21.84V18.96H204.59V21.22M202.66 19.81V17.24H204.20V18.96M201.66 16.50V15.08H203.43V17.24M199.51 15.97V13.35H202.55V15.08M205.10 29.60V19.07H205.39V29.60M205.24 19.07V17.65H205.68V29.60M205.97 29.60V20.25H206.26V29.60M206.11 20.25V18.17H206.55V29.60M206.84 29.60V18.63H207.13V29.60M206.33 18.17V16.53H206.98V18.63M205.46 17.65V15.03H206.65V16.53M207.41 29.60V18.57H207.70V29.60M208.28 29.60V21.39H208.57V29.60M207.99 29.60V19.20H208.43V21.39M207.56 18.57V17.15H208.21V19.20M208.86 29.60V19.68H209.15V29.60M209.44 29.60V19.95H209.73V29.60M209.01 19.68V17.87H209.58V19.95M207.88 17.15V15.04H209.29V17.87M206.06 15.03V13.33H208.59V15.04M201.03 13.35V11.84H207.32V13.33M210.02 29.60V20.35H210.31V29.60M210.60 29.60V22.19H210.89V29.60M211.18 29.60V22.77H211.46V29.60M210.74 22.19V20.51H211.32V22.77M210.16 20.35V18.67H211.03V20.51M211.75 29.60V20.85H212.04V29.60M212.33 29.60V22.83H212.62V29.60M212.91 29.60V23.25H213.20V29.60M212.48 22.83V20.71H213.06V23.25M211.90 20.85V19.13H212.77V20.71M210.60 18.67V17.09H212.33V19.13M213.49 29.60V20.73H213.78V29.60M214.07 29.60V21.26H214.36V29.60M213.63 20.73V18.64H214.21V21.26M214.65 29.60V25.86H214.94V29.60M214.79 25.86V24.21H215.23V29.60M215.80 29.60V25.19H216.09V29.60M215.51 29.60V23.62H215.95V25.19M215.01 24.21V21.60H215.73V23.62M216.67 29.60V23.00H216.96V29.60M216.38 29.60V20.59H216.82V23.00M215.37 21.60V19.04H216.60V20.59M213.92 18.64V17.14H215.99V19.04M211.46 17.09V14.48H214.95V17.14M217.54 29.60V20.34H217.83V29.60M217.25 29.60V17.70H217.68V20.34M218.12 29.60V19.78H218.41V29.60M218.70 29.60V24.67H218.99V29.60M218.84 24.67V22.35H219.28V29.60M219.06 22.35V20.43H219.57V29.60M218.26 19.78V18.17H219.31V20.43M217.47 17.70V15.99H218.79V18.17M219.85 29.60V19.70H220.14V29.60M220.00 19.70V17.76H220.43V29.60M221.01 29.60V22.05H221.30V29.60M220.72 29.60V19.86H221.16V22.05M221.59 29.60V20.52H221.88V29.60M220.94 19.86V18.23H221.74V20.52M220.22 17.76V16.25H221.34V18.23M218.13 15.99V14.56H220.78V16.25M213.21 14.48V12.15H219.45V14.56M204.18 11.84V9.60H216.33V12.15M176.58 9.74V8.67H210.25V9.60M222.17 29.60V19.55H222.46V29.60M222.75 29.60V20.65H223.04V29.60M222.31 19.55V17.77H222.89V20.65M223.33 29.60V19.49H223.62V29.60M223.47 19.49V17.70H223.90V29.60M222.60 17.77V15.15H223.69V17.70M224.19 29.60V17.20H224.48V29.60M225.06 29.60V18.25H225.35V29.60M224.77 29.60V16.82H225.21V18.25M224.34 17.20V15.40H224.99V16.82M223.15 15.15V13.72H224.66V15.40M226.22 29.60V21.13H226.51V29.60M225.93 29.60V19.60H226.36V21.13M225.64 29.60V16.86H226.15V19.60M226.80 29.60V21.28H227.09V29.60M227.38 29.60V21.23H227.67V29.60M226.94 21.28V19.16H227.52V21.23M227.96 29.60V21.12H228.24V29.60M228.10 21.12V18.63H228.53V29.60M227.23 19.16V17.08H228.32V18.63M225.89 16.86V14.42H227.77V17.08M228.82 29.60V17.87H229.11V29.60M229.40 29.60V16.92H229.69V29.60M228.97 17.87V15.42H229.55V16.92M226.83 14.42V12.89H229.26V15.42M223.90 13.72V11.29H228.05V12.89M229.98 29.60V18.02H230.27V29.60M230.56 29.60V17.26H230.85V29.60M230.12 18.02V15.51H230.70V17.26M231.14 29.60V18.39H231.43V29.60M231.72 29.60V20.55H232.01V29.60M231.86 20.55V18.01H232.29V29.60M231.28 18.39V16.20H232.08V18.01M230.41 15.51V13.94H231.68V16.20M233.45 29.60V23.12H233.74V29.60M233.16 29.60V21.42H233.60V23.12M232.87 29.60V18.86H233.38V21.42M232.58 29.60V16.73H233.13V18.86M234.03 29.60V18.14H234.32V29.60M234.61 29.60V18.46H234.90V29.60M234.18 18.14V15.99H234.75V18.46M232.86 16.73V14.53H234.46V15.99M235.19 29.60V16.92H235.48V29.60M236.34 29.60V22.84H236.63V29.60M236.06 29.60V20.75H236.49V22.84M235.77 29.60V17.89H236.27V20.75M235.33 16.92V15.37H236.02V17.89M233.66 14.53V13.05H235.68V15.37M231.05 13.94V11.17H234.67V13.05M225.98 11.29V9.44H232.86V11.17M236.92 29.60V16.87H237.21V29.60M237.50 29.60V17.11H237.79V29.60M237.07 16.87V14.93H237.65V17.11M238.08 29.60V14.49H238.37V29.60M237.36 14.93V12.90H238.23V14.49M239.24 29.60V18.88H239.53V29.60M238.95 29.60V16.89H239.38V18.88M238.66 29.60V14.83H239.17V16.89M239.82 29.60V16.97H240.11V29.60M239.96 16.97V15.07H240.40V29.60M238.91 14.83V13.07H240.18V15.07M237.79 12.90V11.22H239.55V13.07M240.97 29.60V19.71H241.26V29.60M240.68 29.60V17.36H241.12V19.71M240.90 17.36V15.58H241.55V29.60M242.13 29.60V16.38H242.42V29.60M241.84 29.60V14.75H242.28V16.38M241.23 15.58V13.14H242.06V14.75M242.71 29.60V20.80H243.00V29.60M243.29 29.60V19.84H243.58V29.60M242.85 20.80V17.93H243.43V19.84M243.87 29.60V23.89H244.16V29.60M244.45 29.60V23.73H244.73V29.60M244.01 23.89V21.32H244.59V23.73M245.02 29.60V21.66H245.31V29.60M244.30 21.32V18.77H245.17V21.66M243.14 17.93V16.32H244.73V18.77M245.60 29.60V19.43H245.83V29.60M245.72 19.43V17.76H246.07V29.60M245.89 17.76V15.78H246.36V29.60M243.94 16.32V14.14H246.12V15.78M241.64 13.14V11.49H245.03V14.14M238.67 11.22V9.58H243.34V11.49M229.42 9.44V8.53H241.00V9.58M193.42 8.67V7.49H235.21V8.53M143.54 7.59V6.65H214.31V7.49M90.13 6.39V5.70H178.92V6.65"/>
<path fill="none" stroke="#262626" stroke-width="0.5" d="M302.64 29.80V22.52H302.93V29.80M302.78 22.52V19.82H303.21V29.80M303.50 29.80V21.12H303.78V29.80M303.00 19.82V18.32H303.64V21.12M304.06 29.80V19.71H304.35V29.80M304.21 19.71V18.28H304.63V29.80M303.32 18.32V15.50H304.42V18.28M305.20 29.80V17.96H305.49V29.80M304.92 29.80V15.39H305.34V17.96M303.87 15.50V13.71H305.13V15.39M306.05 29.80V25.24H306.34V29.80M305.77 29.80V23.09H306.20V25.24M305.98 23.09V20.58H306.62V29.80M306.30 20.58V17.76H306.91V29.80M307.19 29.80V17.67H307.48V29.80M306.60 17.76V15.94H307.33V17.67M307.76 29.80V20.24H308.04V29.80M307.90 20.24V17.52H308.33V29.80M308.61 29.80V17.98H308.90V29.80M308.12 17.52V15.97H308.75V17.98M306.97 15.94V13.73H308.43V15.97M304.50 13.71V11.63H307.70V13.73M309.18 29.80V18.38H309.47V29.80M309.75 29.80V18.12H310.03V29.80M309.32 18.38V15.81H309.89V18.12M310.32 29.80V17.00H310.60V29.80M309.61 15.81V14.29H310.46V17.00M311.46 29.80V23.04H311.74V29.80M311.17 29.80V20.29H311.60V23.04M310.89 29.80V18.88H311.38V20.29M312.02 29.80V20.30H312.31V29.80M312.59 29.80V20.28H312.88V29.80M312.17 20.30V18.15H312.74V20.28M311.14 18.88V16.32H312.45V18.15M313.16 29.80V18.11H313.45V29.80M313.73 29.80V23.55H314.01V29.80M313.87 23.55V22.03H314.30V29.80M314.09 22.03V19.90H314.58V29.80M314.87 29.80V19.31H315.15V29.80M314.33 19.90V17.90H315.01V19.31M313.30 18.11V16.41H314.67V17.90M311.79 16.32V13.72H313.99V16.41M310.03 14.29V11.86H312.89V13.72M306.10 11.63V10.07H311.46V11.86M315.44 29.80V15.97H315.72V29.80M316.00 29.80V15.47H316.29V29.80M315.58 15.97V13.42H316.15V15.47M316.57 29.80V18.32H316.86V29.80M316.72 18.32V16.05H317.14V29.80M317.43 29.80V18.89H317.71V29.80M317.99 29.80V19.00H318.28V29.80M317.57 18.89V17.16H318.14V19.00M318.56 29.80V18.08H318.85V29.80M317.85 17.16V15.70H318.71V18.08M316.93 16.05V14.30H318.28V15.70M315.86 13.42V11.58H317.60V14.30M319.42 29.80V16.31H319.70V29.80M319.13 29.80V14.63H319.56V16.31M319.98 29.80V17.89H320.27V29.80M320.55 29.80V18.07H320.84V29.80M320.13 17.89V15.24H320.70V18.07M319.35 14.63V12.37H320.41V15.24M316.73 11.58V9.47H319.88V12.37M308.78 10.07V8.87H318.31V9.47M321.12 29.80V23.35H321.41V29.80M321.26 23.35V21.89H321.69V29.80M321.48 21.89V19.52H321.97V29.80M322.26 29.80V19.67H322.54V29.80M321.73 19.52V16.92H322.40V19.67M322.83 29.80V23.38H323.11V29.80M323.40 29.80V23.90H323.68V29.80M322.97 23.38V21.86H323.54V23.90M324.25 29.80V25.46H324.53V29.80M323.97 29.80V22.83H324.39V25.46M323.25 21.86V20.13H324.18V22.83M324.82 29.80V21.69H325.10V29.80M325.39 29.80V22.91H325.67V29.80M324.96 21.69V20.19H325.53V22.91M323.72 20.13V18.04H325.24V20.19M325.96 29.80V21.25H326.24V29.80M326.52 29.80V23.11H326.81V29.80M327.09 29.80V23.15H327.38V29.80M326.67 23.11V20.50H327.23V23.15M326.10 21.25V18.37H326.95V20.50M324.48 18.04V16.45H326.52V18.37M322.06 16.92V14.03H325.50V16.45M327.66 29.80V21.30H327.95V29.80M328.23 29.80V23.47H328.51V29.80M328.37 23.47V20.74H328.80V29.80M327.80 21.30V19.09H328.59V20.74M329.37 29.80V20.95H329.65V29.80M329.08 29.80V18.78H329.51V20.95M328.19 19.09V16.63H329.30V18.78M329.94 29.80V18.37H330.22V29.80M330.08 18.37V15.61H330.50V29.80M328.74 16.63V14.08H330.29V15.61M323.78 14.03V11.34H329.52V14.08M331.07 29.80V16.18H331.36V29.80M330.79 29.80V13.38H331.21V16.18M331.93 29.80V21.12H332.21V29.80M331.64 29.80V18.46H332.07V21.12M332.49 29.80V19.27H332.78V29.80M331.85 18.46V16.54H332.64V19.27M333.35 29.80V20.32H333.63V29.80M333.06 29.80V17.63H333.49V20.32M333.92 29.80V18.23H334.20V29.80M333.28 17.63V15.53H334.06V18.23M332.25 16.54V13.67H333.67V15.53M331.00 13.38V11.27H332.96V13.67M326.65 11.34V9.22H331.98V11.27M334.77 29.80V20.79H335.05V29.80M334.48 29.80V17.95H334.91V20.79M334.70 17.95V16.46H335.34V29.80M335.62 29.80V19.45H335.91V29.80M336.19 29.80V20.90H336.47V29.80M337.04 29.80V23.33H337.33V29.80M336.76 29.80V21.64H337.19V23.33M336.33 20.90V18.96H336.97V21.64M335.76 19.45V17.17H336.65V18.96M335.02 16.46V14.32H336.21V17.17M337.61 29.80V19.44H337.90V29.80M338.46 29.80V22.29H338.75V29.80M338.18 29.80V19.70H338.61V22.29M337.75 19.44V17.98H338.39V19.70M339.32 29.80V22.61H339.60V29.80M339.46 22.61V21.03H339.89V29.80M339.03 29.80V18.85H339.67V21.03M338.07 17.98V16.11H339.35V18.85M340.45 29.80V18.88H340.74V29.80M341.02 29.80V19.52H341.31V29.80M340.60 18.88V17.27H341.17V19.52M340.17 29.80V15.49H340.88V17.27M338.71 16.11V13.31H340.53V15.49M335.61 14.32V11.75H339.62V13.31M341.59 29.80V17.87H341.88V29.80M342.16 29.80V20.17H342.44V29.80M342.73 29.80V21.34H343.01V29.80M342.30 20.17V18.57H342.87V21.34M341.73 17.87V16.45H342.59V18.57M343.30 29.80V19.54H343.58V29.80M343.44 19.54V18.03H343.87V29.80M344.15 29.80V20.15H344.44V29.80M344.72 29.80V18.81H345.00V29.80M344.29 20.15V17.29H344.86V18.81M343.65 18.03V15.39H344.58V17.29M342.16 16.45V13.63H344.12V15.39M345.57 29.80V22.67H345.86V29.80M345.71 22.67V21.03H346.14V29.80M345.29 29.80V18.22H345.93V21.03M346.43 29.80V22.60H346.71V29.80M346.57 22.60V20.39H346.99V29.80M347.28 29.80V22.08H347.56V29.80M347.42 22.08V20.43H347.85V29.80M346.78 20.39V18.98H347.63V20.43M345.61 18.22V16.10H347.21V18.98M348.42 29.80V21.86H348.70V29.80M348.13 29.80V19.92H348.56V21.86M349.27 29.80V23.39H349.55V29.80M348.98 29.80V21.58H349.41V23.39M349.84 29.80V22.04H350.12V29.80M349.20 21.58V19.20H349.98V22.04M348.34 19.92V17.55H349.59V19.20M350.41 29.80V22.13H350.69V29.80M350.97 29.80V22.68H351.26V29.80M350.55 22.13V20.49H351.12V22.68M351.54 29.80V23.71H351.83V29.80M352.40 29.80V25.77H352.68V29.80M352.11 29.80V23.64H352.54V25.77M351.68 23.71V22.18H352.32V23.64M352.96 29.80V22.58H353.25V29.80M352.00 22.18V20.55H353.11V22.58M350.83 20.49V18.60H352.56V20.55M348.97 17.55V15.95H351.69V18.60M346.41 16.10V13.65H350.33V15.95M343.14 13.63V11.64H348.37V13.65M337.62 11.75V9.26H345.75V11.64M329.31 9.22V8.48H341.68V9.26M313.54 8.87V7.80H335.50V8.48M353.53 29.80V21.25H353.82V29.80M354.10 29.80V20.55H354.39V29.80M353.67 21.25V18.73H354.24V20.55M354.67 29.80V19.51H354.95V29.80M353.96 18.73V17.19H354.81V19.51M355.24 29.80V18.95H355.52V29.80M355.81 29.80V19.35H356.09V29.80M355.38 18.95V16.47H355.95V19.35M354.39 17.19V14.34H355.67V16.47M356.38 29.80V20.34H356.66V29.80M356.94 29.80V19.28H357.23V29.80M356.52 20.34V17.85H357.09V19.28M358.08 29.80V21.75H358.37V29.80M357.80 29.80V19.77H358.22V21.75M357.51 29.80V17.78H358.01V19.77M356.80 17.85V15.25H357.76V17.78M355.03 14.34V12.58H357.28V15.25M358.65 29.80V17.57H358.93V29.80M358.79 17.57V15.95H359.22V29.80M359.79 29.80V20.11H360.07V29.80M359.50 29.80V17.67H359.93V20.11M360.36 29.80V18.76H360.64V29.80M360.50 18.76V17.02H360.92V29.80M359.72 17.67V15.06H360.71V17.02M359.01 15.95V13.21H360.21V15.06M361.21 29.80V20.73H361.49V29.80M361.78 29.80V22.97H362.06V29.80M361.92 22.97V20.30H362.35V29.80M361.35 20.73V18.22H362.13V20.30M362.91 29.80V21.88H363.20V29.80M363.06 21.88V20.38H363.48V29.80M362.63 29.80V17.86H363.27V20.38M361.74 18.22V16.25H362.95V17.86M363.77 29.80V19.22H364.05V29.80M364.62 29.80V21.46H364.91V29.80M364.34 29.80V18.83H364.76V21.46M363.91 19.22V16.32H364.55V18.83M362.35 16.25V14.48H364.23V16.32M359.61 13.21V11.63H363.29V14.48M356.15 12.58V9.85H361.45V11.63M365.19 29.80V21.97H365.47V29.80M365.76 29.80V21.32H366.04V29.80M365.33 21.97V19.28H365.90V21.32M366.33 29.80V21.21H366.61V29.80M366.47 21.21V19.51H366.90V29.80M365.62 19.28V17.81H366.68V19.51M367.46 29.80V20.79H367.75V29.80M367.18 29.80V18.24H367.61V20.79M366.15 17.81V15.98H367.39V18.24M368.03 29.80V23.59H368.32V29.80M368.17 23.59V21.67H368.60V29.80M369.17 29.80V24.64H369.45V29.80M368.89 29.80V22.35H369.31V24.64M368.39 21.67V19.78H369.10V22.35M369.74 29.80V23.19H370.02V29.80M369.88 23.19V21.38H370.31V29.80M370.59 29.80V21.90H370.88V29.80M370.09 21.38V19.36H370.73V21.90M368.74 19.78V17.92H370.41V19.36M371.16 29.80V23.70H371.44V29.80M371.30 23.70V21.28H371.73V29.80M371.52 21.28V19.79H372.01V29.80M372.87 29.80V26.61H373.15V29.80M372.58 29.80V24.81H373.01V26.61M372.30 29.80V22.52H372.79V24.81M373.43 29.80V26.04H373.72V29.80M373.58 26.04V24.33H374.00V29.80M374.57 29.80V26.97H374.86V29.80M374.29 29.80V25.43H374.71V26.97M373.79 24.33V22.65H374.50V25.43M372.55 22.52V20.53H374.15V22.65M371.76 19.79V18.20H373.35V20.53M369.58 17.92V15.92H372.55V18.20M366.77 15.98V13.56H371.07V15.92M375.14 29.80V21.12H375.42V29.80M375.28 21.12V18.96H375.71V29.80M376.28 29.80V23.81H376.56V29.80M376.42 23.81V21.78H376.85V29.80M375.99 29.80V19.56H376.63V21.78M377.13 29.80V23.21H377.41V29.80M377.70 29.80V23.10H377.98V29.80M377.27 23.21V20.37H377.84V23.10M376.31 19.56V17.99H377.56V20.37M375.50 18.96V16.07H376.93V17.99M378.27 29.80V22.10H378.55V29.80M378.84 29.80V23.27H379.12V29.80M378.41 22.10V20.45H378.98V23.27M379.69 29.80V28.26H379.97V29.80M379.40 29.80V25.77H379.83V28.26M379.62 25.77V22.89H380.26V29.80M380.54 29.80V25.39H380.83V29.80M381.39 29.80V26.71H381.68V29.80M381.11 29.80V24.71H381.54V26.71M380.68 25.39V23.11H381.32V24.71M379.94 22.89V20.37H381.00V23.11M378.69 20.45V17.96H380.47V20.37M382.25 29.80V21.86H382.53V29.80M381.96 29.80V20.28H382.39V21.86M382.82 29.80V21.10H383.10V29.80M382.18 20.28V18.43H382.96V21.10M379.58 17.96V16.31H382.57V18.43M376.22 16.07V14.52H381.07V16.31M368.92 13.56V12.10H378.65V14.52M383.67 29.80V22.79H383.95V29.80M383.81 22.79V20.48H384.24V29.80M383.38 29.80V18.89H384.02V20.48M384.52 29.80V23.03H384.81V29.80M384.66 23.03V21.44H385.09V29.80M385.94 29.80V24.48H386.23V29.80M385.66 29.80V22.22H386.09V24.48M385.38 29.80V20.77H385.87V22.22M384.88 21.44V19.09H385.62V20.77M383.70 18.89V16.86H385.25V19.09M386.51 29.80V20.56H386.80V29.80M386.65 20.56V18.03H387.08V29.80M387.37 29.80V20.89H387.65V29.80M387.51 20.89V18.70H387.93V29.80M386.87 18.03V16.19H387.72V18.70M384.48 16.86V14.30H387.29V16.19M388.50 29.80V22.08H388.79V29.80M389.07 29.80V21.53H389.36V29.80M388.64 22.08V19.70H389.21V21.53M388.22 29.80V17.62H388.93V19.70M389.64 29.80V23.76H389.92V29.80M390.21 29.80V26.49H390.49V29.80M390.35 26.49V24.65H390.78V29.80M389.78 23.76V22.24H390.56V24.65M391.06 29.80V24.29H391.35V29.80M391.20 24.29V21.91H391.63V29.80M390.17 22.24V19.49H391.42V21.91M391.91 29.80V24.59H392.20V29.80M392.06 24.59V21.96H392.48V29.80M392.27 21.96V20.40H392.77V29.80M390.79 19.49V17.71H392.52V20.40M388.57 17.62V15.05H391.66V17.71M385.89 14.30V12.82H390.11V15.05M373.78 12.10V10.45H388.00V12.82M358.80 9.85V9.19H380.89V10.45M393.05 29.80V18.59H393.34V29.80M393.62 29.80V19.00H393.90V29.80M393.76 19.00V17.22H394.19V29.80M393.19 18.59V15.76H393.98V17.22M394.47 29.80V15.67H394.76V29.80M393.58 15.76V14.19H394.61V15.67M395.04 29.80V18.09H395.33V29.80M395.89 29.80V21.45H396.18V29.80M395.61 29.80V18.90H396.04V21.45M395.18 18.09V16.32H395.82V18.90M396.46 29.80V15.41H396.75V29.80M395.50 16.32V13.91H396.61V15.41M394.10 14.19V12.38H396.05V13.91M397.32 29.80V24.42H397.60V29.80M397.03 29.80V21.66H397.46V24.42M398.17 29.80V28.65H398.45V29.80M398.31 28.65V25.86H398.74V29.80M398.52 25.86V23.85H399.02V29.80M397.88 29.80V21.45H398.77V23.85M397.24 21.66V19.41H398.33V21.45M399.31 29.80V21.36H399.59V29.80M399.87 29.80V23.90H400.16V29.80M400.44 29.80V22.87H400.73V29.80M400.02 23.90V21.03H400.59V22.87M399.45 21.36V19.39H400.30V21.03M397.79 19.41V17.43H399.87V19.39M401.01 29.80V19.11H401.30V29.80M401.58 29.80V23.75H401.86V29.80M401.72 23.75V21.42H402.15V29.80M402.43 29.80V20.84H402.72V29.80M401.94 21.42V19.33H402.58V20.84M401.15 19.11V17.00H402.26V19.33M398.83 17.43V15.12H401.70V17.00M403.29 29.80V25.68H403.57V29.80M403.00 29.80V23.28H403.43V25.68M403.22 23.28V21.46H403.85V29.80M404.14 29.80V21.23H404.42V29.80M403.54 21.46V19.33H404.28V21.23M404.99 29.80V25.35H405.28V29.80M405.13 25.35V23.34H405.56V29.80M404.71 29.80V20.99H405.35V23.34M405.85 29.80V21.23H406.13V29.80M405.03 20.99V18.77H405.99V21.23M403.91 19.33V16.90H405.51V18.77M406.41 29.80V23.61H406.70V29.80M406.56 23.61V21.47H406.98V29.80M407.55 29.80V23.74H407.84V29.80M407.27 29.80V21.43H407.69V23.74M406.77 21.47V18.76H407.48V21.43M408.40 29.80V20.85H408.69V29.80M408.12 29.80V18.31H408.55V20.85M407.12 18.76V16.44H408.33V18.31M404.71 16.90V14.26H407.73V16.44M400.27 15.12V12.34H406.22V14.26M395.08 12.38V9.76H403.24V12.34M409.26 29.80V23.41H409.54V29.80M408.97 29.80V21.41H409.40V23.41M409.83 29.80V21.18H410.11V29.80M409.19 21.41V18.77H409.97V21.18M410.39 29.80V21.10H410.68V29.80M410.96 29.80V21.52H411.25V29.80M410.54 21.10V18.90H411.10V21.52M409.58 18.77V16.57H410.82V18.90M411.53 29.80V20.39H411.82V29.80M412.10 29.80V23.31H412.38V29.80M412.24 23.31V20.83H412.67V29.80M411.67 20.39V17.96H412.46V20.83M413.24 29.80V20.67H413.52V29.80M412.95 29.80V18.77H413.38V20.67M412.06 17.96V16.53H413.17V18.77M410.20 16.57V15.10H412.62V16.53M413.81 29.80V20.93H414.09V29.80M413.95 20.93V19.12H414.37V29.80M414.66 29.80V21.17H414.94V29.80M415.23 29.80V21.93H415.51V29.80M414.80 21.17V19.24H415.37V21.93M414.16 19.12V17.53H415.08V19.24M415.80 29.80V26.34H416.08V29.80M416.36 29.80V26.45H416.65V29.80M415.94 26.34V23.85H416.51V26.45M417.22 29.80V26.62H417.50V29.80M416.93 29.80V24.18H417.36V26.62M416.22 23.85V21.93H417.15V24.18M418.07 29.80V25.28H418.35V29.80M418.21 25.28V23.80H418.64V29.80M417.79 29.80V21.83H418.43V23.80M416.68 21.93V19.20H418.11V21.83M418.92 29.80V23.47H419.21V29.80M419.07 23.47V20.95H419.49V29.80M419.28 20.95V19.10H419.78V29.80M417.39 19.20V16.35H419.53V19.10M414.62 17.53V14.73H418.46V16.35M411.41 15.10V12.23H416.54V14.73M420.06 29.80V28.46H420.34V29.80M420.20 28.46V26.78H420.63V29.80M421.20 29.80V27.50H421.48V29.80M420.91 29.80V25.36H421.34V27.50M420.42 26.78V23.89H421.13V25.36M421.77 29.80V26.94H422.05V29.80M422.48 29.80V29.66H422.90V29.80M422.69 29.66V27.35H423.19V29.80M421.91 26.94V25.01H422.94V27.35M423.47 29.80V27.53H423.76V29.80M423.61 27.53V24.89H424.04V29.80M422.42 25.01V22.61H423.83V24.89M420.77 23.89V21.00H423.13V22.61M424.32 29.80V27.23H424.61V29.80M424.47 27.23V24.82H424.89V29.80M425.18 29.80V26.80H425.46V29.80M425.75 29.80V26.46H426.03V29.80M425.32 26.80V25.00H425.89V26.46M424.68 24.82V22.32H425.60V25.00M426.32 29.80V25.24H426.60V29.80M426.46 25.24V23.49H426.88V29.80M425.14 22.32V20.76H426.67V23.49M421.95 21.00V19.26H425.91V20.76M427.45 29.80V25.28H427.74V29.80M427.59 25.28V22.69H428.02V29.80M427.17 29.80V20.92H427.81V22.69M428.31 29.80V24.17H428.59V29.80M428.87 29.80V26.07H429.16V29.80M429.44 29.80V28.91H429.73V29.80M429.58 28.91V27.14H430.01V29.80M429.02 26.07V24.28H429.80V27.14M428.45 24.17V21.94H429.41V24.28M427.49 20.92V19.13H428.93V21.94M423.93 19.26V17.61H428.21V19.13M430.58 29.80V24.74H430.86V29.80M430.30 29.80V23.11H430.72V24.74M431.43 29.80V24.43H431.72V29.80M431.15 29.80V22.36H431.57V24.43M430.51 23.11V20.50H431.36V22.36M432.57 29.80V25.60H432.85V29.80M432.29 29.80V23.09H432.71V25.60M432.00 29.80V20.59H432.50V23.09M430.94 20.50V18.84H432.25V20.59M433.14 29.80V22.65H433.42V29.80M433.28 22.65V20.47H433.71V29.80M433.99 29.80V23.08H434.28V29.80M434.13 23.08V21.26H434.56V29.80M433.49 20.47V18.52H434.35V21.26M431.59 18.84V16.57H433.92V18.52M426.07 17.61V14.71H432.76V16.57M434.84 29.80V29.19H435.13V29.80M434.99 29.19V26.62H435.41V29.80M435.70 29.80V25.84H435.98V29.80M435.20 26.62V23.87H435.84V25.84M436.83 29.80V28.21H437.12V29.80M436.55 29.80V26.30H436.98V28.21M436.27 29.80V23.98H436.76V26.30M435.52 23.87V21.91H436.51V23.98M437.40 29.80V23.46H437.69V29.80M437.97 29.80V23.04H438.26V29.80M437.55 23.46V21.28H438.11V23.04M436.02 21.91V19.39H437.83V21.28M438.54 29.80V26.23H438.82V29.80M439.11 29.80V26.29H439.39V29.80M438.68 26.23V24.79H439.25V26.29M439.96 29.80V27.84H440.25V29.80M439.68 29.80V25.79H440.10V27.84M438.97 24.79V22.97H439.89V25.79M440.53 29.80V28.92H440.81V29.80M440.67 28.92V26.24H441.10V29.80M441.38 29.80V25.20H441.67V29.80M440.89 26.24V23.63H441.53V25.20M442.09 29.80V27.86H442.52V29.80M443.09 29.80V29.66H443.37V29.80M442.80 29.80V27.13H443.23V29.66M442.31 27.86V25.63H443.02V27.13M444.23 29.80V29.55H444.51V29.80M443.80 29.80V27.58H444.37V29.55M444.79 29.80V28.06H445.08V29.80M444.08 27.58V25.61H444.94V28.06M442.66 25.63V23.55H444.51V25.61M441.21 23.63V22.10H443.59V23.55M439.43 22.97V20.12H442.40V22.10M436.92 19.39V17.32H440.91V20.12M445.36 29.80V22.92H445.65V29.80M446.22 29.80V27.13H446.50V29.80M445.93 29.80V25.58H446.36V27.13M446.79 29.80V25.78H447.07V29.80M446.15 25.58V23.41H446.93V25.78M445.51 22.92V21.25H446.54V23.41M447.35 29.80V23.56H447.64V29.80M447.92 29.80V24.58H448.21V29.80M448.06 24.58V22.46H448.49V29.80M447.50 23.56V20.97H448.28V22.46M446.02 21.25V18.42H447.89V20.97M448.78 29.80V23.16H449.06V29.80M448.92 23.16V21.17H449.34V29.80M449.63 29.80V21.17H449.89V29.80M449.13 21.17V18.30H449.76V21.17M446.95 18.42V16.73H449.44V18.30M438.92 17.32V14.53H448.20V16.73M429.41 14.71V12.34H443.56V14.53M413.97 12.23V9.80H436.49V12.34M399.16 9.76V8.89H425.23V9.80M369.85 9.19V7.92H412.19V8.89M324.52 7.80V7.08H391.02V7.92M450.43 29.80V16.14H450.71V29.80M450.14 29.80V14.29H450.57V16.14M451.00 29.80V18.75H451.28V29.80M451.56 29.80V19.04H451.85V29.80M451.14 18.75V16.74H451.71V19.04M452.13 29.80V16.72H452.42V29.80M451.42 16.74V14.60H452.27V16.72M450.36 14.29V12.02H451.85V14.60M452.70 29.80V19.88H452.99V29.80M452.84 19.88V17.38H453.27V29.80M453.06 17.38V15.48H453.55V29.80M453.84 29.80V17.43H454.12V29.80M454.98 29.80V20.00H455.26V29.80M454.69 29.80V18.49H455.12V20.00M454.41 29.80V16.61H454.90V18.49M453.98 17.43V14.90H454.66V16.61M453.31 15.48V12.66H454.32V14.90M451.10 12.02V10.06H453.81V12.66M455.54 29.80V11.68H455.83V29.80M456.11 29.80V16.59H456.40V29.80M456.25 16.59V14.85H456.68V29.80M457.25 29.80V17.64H457.53V29.80M456.97 29.80V14.77H457.39V17.64M456.47 14.85V12.83H457.18V14.77M455.69 11.68V10.24H456.82V12.83M452.46 10.06V9.14H456.25V10.24M457.82 29.80V16.46H458.10V29.80M458.67 29.80V21.84H458.96V29.80M458.39 29.80V19.92H458.81V21.84M459.24 29.80V22.40H459.52V29.80M459.38 22.40V19.84H459.81V29.80M458.60 19.92V17.07H459.60V19.84M457.96 16.46V15.04H459.10V17.07M460.09 29.80V21.54H460.38V29.80M460.95 29.80V23.54H461.23V29.80M460.66 29.80V20.90H461.09V23.54M460.23 21.54V18.93H460.87V20.90M461.51 29.80V24.49H461.80V29.80M462.08 29.80V23.32H462.37V29.80M461.66 24.49V21.63H462.23V23.32M462.65 29.80V24.94H462.94V29.80M462.79 24.94V22.56H463.22V29.80M461.94 21.63V20.16H463.01V22.56M460.55 18.93V17.27H462.47V20.16M463.79 29.80V24.49H464.07V29.80M463.50 29.80V22.05H463.93V24.49M463.72 22.05V20.20H464.36V29.80M464.64 29.80V21.70H464.93V29.80M465.21 29.80V22.34H465.49V29.80M464.78 21.70V20.26H465.35V22.34M464.04 20.20V17.76H465.07V20.26M461.51 17.27V15.61H464.55V17.76M458.53 15.04V13.48H463.03V15.61M465.78 29.80V19.22H466.06V29.80M466.63 29.80V24.02H466.92V29.80M466.35 29.80V21.63H466.77V24.02M466.56 21.63V19.08H467.20V29.80M465.92 19.22V16.51H466.88V19.08M467.48 29.80V18.94H467.77V29.80M468.05 29.80V23.90H468.34V29.80M468.20 23.90V21.44H468.62V29.80M468.41 21.44V19.18H468.91V29.80M467.63 18.94V17.35H468.66V19.18M466.40 16.51V14.86H468.14V17.35M469.47 29.80V22.15H469.76V29.80M469.62 22.15V19.93H470.04V29.80M469.83 19.93V17.47H470.33V29.80M469.19 29.80V15.82H470.08V17.47M467.27 14.86V12.99H469.63V15.82M460.78 13.48V10.76H468.45V12.99M470.61 29.80V16.12H470.90V29.80M471.47 29.80V19.89H471.75V29.80M471.61 19.89V18.11H472.03V29.80M471.18 29.80V16.59H471.82V18.11M470.75 16.12V14.37H471.50V16.59M472.32 29.80V23.97H472.60V29.80M472.46 23.97V22.08H472.89V29.80M472.67 22.08V19.87H473.17V29.80M473.46 29.80V19.37H473.74V29.80M472.92 19.87V17.64H473.60V19.37M474.31 29.80V22.53H474.59V29.80M474.02 29.80V20.16H474.45V22.53M475.16 29.80V22.16H475.45V29.80M474.88 29.80V19.97H475.30V22.16M474.24 20.16V17.51H475.09V19.97M473.26 17.64V15.06H474.66V17.51M471.13 14.37V12.23H473.96V15.06M475.73 29.80V19.22H476.01V29.80M476.30 29.80V19.51H476.58V29.80M475.87 19.22V16.68H476.44V19.51M476.16 16.68V14.31H476.87V29.80M477.44 29.80V17.01H477.72V29.80M477.15 29.80V15.06H477.58V17.01M476.51 14.31V12.36H477.36V15.06M472.54 12.23V10.77H476.94V12.36M464.62 10.76V9.53H474.74V10.77M454.36 9.14V8.37H469.68V9.53M478.00 29.80V19.41H478.29V29.80M478.57 29.80V20.40H478.86V29.80M478.15 19.41V17.72H478.71V20.40M479.14 29.80V23.02H479.43V29.80M479.28 23.02V20.77H479.71V29.80M479.99 29.80V20.58H480.28V29.80M479.50 20.77V17.88H480.14V20.58M478.43 17.72V15.39H479.82V17.88M480.56 29.80V19.18H480.85V29.80M480.70 19.18V17.68H481.13V29.80M481.42 29.80V16.83H481.70V29.80M480.92 17.68V15.27H481.56V16.83M479.12 15.39V13.71H481.24V15.27M481.98 29.80V20.32H482.27V29.80M482.13 20.32V17.65H482.55V29.80M482.84 29.80V18.68H483.12V29.80M482.98 18.68V17.14H483.41V29.80M482.34 17.65V15.03H483.19V17.14M484.26 29.80V20.83H484.54V29.80M483.97 29.80V18.46H484.40V20.83M483.69 29.80V16.65H484.19V18.46M483.94 16.65V14.67H484.83V29.80M482.77 15.03V12.95H484.38V14.67M480.18 13.71V10.87H483.57V12.95M485.11 29.80V16.64H485.40V29.80M485.25 16.64V14.94H485.68V29.80M485.96 29.80V16.83H486.25V29.80M486.53 29.80V17.09H486.82V29.80M486.11 16.83V14.33H486.68V17.09M485.47 14.94V12.56H486.39V14.33M487.10 29.80V14.61H487.39V29.80M487.95 29.80V17.06H488.24V29.80M487.67 29.80V14.94H488.10V17.06M487.24 14.61V12.67H487.88V14.94M485.93 12.56V10.74H487.56V12.67M481.88 10.87V9.94H486.75V10.74M488.81 29.80V25.68H489.09V29.80M488.52 29.80V24.22H488.95V25.68M488.74 24.22V21.50H489.38V29.80M489.66 29.80V21.17H489.94V29.80M489.06 21.50V19.43H489.80V21.17M490.51 29.80V21.39H490.80V29.80M490.23 29.80V19.07H490.66V21.39M489.43 19.43V17.33H490.44V19.07M491.08 29.80V23.31H491.37V29.80M491.65 29.80V23.53H491.94V29.80M491.22 23.31V20.81H491.79V23.53M492.50 29.80V25.31H492.79V29.80M492.22 29.80V22.70H492.65V25.31M493.36 29.80V25.42H493.64V29.80M493.07 29.80V22.88H493.50V25.42M492.43 22.70V20.77H493.29V22.88M491.51 20.81V18.23H492.86V20.77M489.94 17.33V15.57H492.18V18.23M493.93 29.80V17.29H494.21V29.80M494.78 29.80V22.44H495.06V29.80M494.92 22.44V19.75H495.35V29.80M494.49 29.80V17.71H495.13V19.75M494.07 17.29V14.84H494.81V17.71M491.06 15.57V13.31H494.44V14.84M495.92 29.80V15.95H496.20V29.80M495.63 29.80V14.17H496.06V15.95M497.05 29.80V20.56H497.34V29.80M496.77 29.80V19.08H497.19V20.56M496.48 29.80V17.35H496.98V19.08M497.62 29.80V20.72H497.91V29.80M497.76 20.72V19.25H498.19V29.80M498.47 29.80V20.00H498.76V29.80M497.98 19.25V17.67H498.62V20.00M496.73 17.35V14.82H498.30V17.67M495.84 14.17V12.58H497.51V14.82M492.75 13.31V10.80H496.68V12.58M499.04 29.80V16.31H499.33V29.80M499.61 29.80V15.36H499.90V29.80M499.18 16.31V13.67H499.75V15.36M500.18 29.80V18.10H500.46V29.80M500.32 18.10V15.48H500.75V29.80M500.54 15.48V13.63H501.03V29.80M499.47 13.67V11.94H500.78V13.63M501.89 29.80V19.68H502.17V29.80M501.60 29.80V18.26H502.03V19.68M501.32 29.80V16.26H501.81V18.26M502.74 29.80V19.95H503.02V29.80M502.45 29.80V18.01H502.88V19.95M502.67 18.01V16.52H503.31V29.80M501.57 16.26V14.45H502.99V16.52M503.59 29.80V18.29H503.88V29.80M504.44 29.80V19.85H504.73V29.80M504.16 29.80V18.28H504.59V19.85M503.73 18.29V16.30H504.37V18.28M505.30 29.80V25.58H505.58V29.80M505.01 29.80V23.26H505.44V25.58M505.23 23.26V21.83H505.87V29.80M505.55 21.83V19.57H506.15V29.80M507.00 29.80V23.69H507.17V29.80M506.72 29.80V21.47H507.09V23.69M506.43 29.80V19.00H506.90V21.47M505.85 19.57V16.98H506.67V19.00M504.05 16.30V14.84H506.26V16.98M502.28 14.45V12.79H505.16V14.84M500.13 11.94V10.54H503.72V12.79M494.71 10.80V9.92H501.92V10.54M484.31 9.94V8.72H498.32V9.92M462.02 8.37V7.56H491.32V8.72M357.77 7.08V6.30H476.67V7.56"/>
<rect x="24.20" y="33.30" width="5.3" height="5.31" fill="#5a10e6"/><rect x="29.50" y="33.30" width="5.2" height="5.31" fill="#c9873a"/><rect x="31.00" y="34.83" width="2.2" height="2.2" fill="#785122" opacity="0.8"/><rect x="24.20" y="38.56" width="5.3" height="5.31" fill="#5a10e6"/><rect x="29.50" y="38.56" width="5.2" height="5.31" fill="#8a3fb0"/><rect x="31.00" y="40.09" width="2.2" height="2.2" fill="#522569" opacity="0.8"/><rect x="24.20" y="43.82" width="5.3" height="5.31" fill="#5a10e6"/><rect x="29.50" y="43.82" width="5.2" height="5.31" fill="#efe25a"/><rect x="31.00" y="45.35" width="2.2" height="2.2" fill="#8f8736" opacity="0.8"/><rect x="24.20" y="49.08" width="5.3" height="5.31" fill="#5a10e6"/><rect x="29.50" y="49.08" width="5.2" height="5.31" fill="#cf8c98"/><rect x="31.00" y="50.61" width="2.2" height="2.2" fill="#7c545b" opacity="0.8"/><rect x="24.20" y="54.34" width="5.3" height="5.31" fill="#5a10e6"/><rect x="29.50" y="54.34" width="5.2" height="5.31" fill="#b5262b"/><rect x="31.00" y="55.87" width="2.2" height="2.2" fill="#6c1619" opacity="0.8"/><rect x="24.20" y="59.61" width="5.3" height="5.31" fill="#5a10e6"/><rect x="29.50" y="59.61" width="5.2" height="5.31" fill="#8fdcec"/><rect x="31.00" y="61.14" width="2.2" height="2.2" fill="#55848d" opacity="0.8"/><rect x="24.20" y="64.87" width="5.3" height="5.31" fill="#5a10e6"/><rect x="29.50" y="64.87" width="5.2" height="5.31" fill="#5078c0"/><rect x="31.00" y="66.40" width="2.2" height="2.2" fill="#304873" opacity="0.8"/><rect x="24.20" y="70.13" width="5.3" height="5.31" fill="#a6e22a"/><rect x="29.50" y="70.13" width="5.2" height="5.31" fill="#5078c0"/><rect x="31.00" y="71.66" width="2.2" height="2.2" fill="#304873" opacity="0.8"/><rect x="24.20" y="75.39" width="5.3" height="5.31" fill="#a6e22a"/><rect x="29.50" y="75.39" width="5.2" height="5.31" fill="#cf8c98"/><rect x="31.00" y="76.92" width="2.2" height="2.2" fill="#7c545b" opacity="0.8"/><rect x="24.20" y="80.65" width="5.3" height="5.31" fill="#a6e22a"/><rect x="29.50" y="80.65" width="5.2" height="5.31" fill="#b5262b"/><rect x="31.00" y="82.18" width="2.2" height="2.2" fill="#6c1619" opacity="0.8"/><rect x="24.20" y="85.91" width="5.3" height="5.31" fill="#a6e22a"/><rect x="29.50" y="85.91" width="5.2" height="5.31" fill="#efe25a"/><rect x="31.00" y="87.44" width="2.2" height="2.2" fill="#8f8736" opacity="0.8"/><rect x="24.20" y="91.17" width="5.3" height="5.31" fill="#a6e22a"/><rect x="29.50" y="91.17" width="5.2" height="5.31" fill="#8a3fb0"/><rect x="31.00" y="92.70" width="2.2" height="2.2" fill="#522569" opacity="0.8"/><rect x="24.20" y="96.43" width="5.3" height="5.31" fill="#a6e22a"/><rect x="29.50" y="96.43" width="5.2" height="5.31" fill="#c9873a"/><rect x="31.00" y="97.96" width="2.2" height="2.2" fill="#785122" opacity="0.8"/><rect x="24.20" y="101.69" width="5.3" height="5.31" fill="#a6e22a"/><rect x="29.50" y="101.69" width="5.2" height="5.31" fill="#8fdcec"/><rect x="31.00" y="103.23" width="2.2" height="2.2" fill="#55848d" opacity="0.8"/><rect x="24.20" y="106.96" width="5.3" height="5.31" fill="#a6e22a"/><rect x="29.50" y="106.96" width="5.2" height="5.31" fill="#6abf4b"/><rect x="31.00" y="108.49" width="2.2" height="2.2" fill="#3f722d" opacity="0.8"/><rect x="24.20" y="112.22" width="5.3" height="5.31" fill="#5a10e6"/><rect x="29.50" y="112.22" width="5.2" height="5.31" fill="#8fdcec"/><rect x="31.00" y="113.75" width="2.2" height="2.2" fill="#55848d" opacity="0.8"/><rect x="24.20" y="117.48" width="5.3" height="5.31" fill="#a6e22a"/><rect x="29.50" y="117.48" width="5.2" height="5.31" fill="#5078c0"/><rect x="31.00" y="119.01" width="2.2" height="2.2" fill="#304873" opacity="0.8"/><rect x="24.20" y="122.74" width="5.3" height="5.31" fill="#5a10e6"/><rect x="29.50" y="122.74" width="5.2" height="5.31" fill="#1f3a6a"/><rect x="31.00" y="124.27" width="2.2" height="2.2" fill="#12223f" opacity="0.8"/>
<rect x="289.00" y="34.00" width="5.3" height="6.71" fill="#5a10e6"/><rect x="294.30" y="34.00" width="5.2" height="6.71" fill="#c9873a"/><rect x="295.80" y="36.23" width="2.2" height="2.2" fill="#785122" opacity="0.8"/><rect x="289.00" y="40.66" width="5.3" height="6.71" fill="#5a10e6"/><rect x="294.30" y="40.66" width="5.2" height="6.71" fill="#efe25a"/><rect x="295.80" y="42.89" width="2.2" height="2.2" fill="#8f8736" opacity="0.8"/><rect x="289.00" y="47.31" width="5.3" height="6.71" fill="#5a10e6"/><rect x="294.30" y="47.31" width="5.2" height="6.71" fill="#8a3fb0"/><rect x="295.80" y="49.54" width="2.2" height="2.2" fill="#522569" opacity="0.8"/><rect x="289.00" y="53.97" width="5.3" height="6.71" fill="#5a10e6"/><rect x="294.30" y="53.97" width="5.2" height="6.71" fill="#cf8c98"/><rect x="295.80" y="56.20" width="2.2" height="2.2" fill="#7c545b" opacity="0.8"/><rect x="289.00" y="60.63" width="5.3" height="6.71" fill="#5a10e6"/><rect x="294.30" y="60.63" width="5.2" height="6.71" fill="#b5262b"/><rect x="295.80" y="62.86" width="2.2" height="2.2" fill="#6c1619" opacity="0.8"/><rect x="289.00" y="67.29" width="5.3" height="6.71" fill="#5a10e6"/><rect x="294.30" y="67.29" width="5.2" height="6.71" fill="#5078c0"/><rect x="295.80" y="69.51" width="2.2" height="2.2" fill="#304873" opacity="0.8"/><rect x="289.00" y="73.94" width="5.3" height="6.71" fill="#5a10e6"/><rect x="294.30" y="73.94" width="5.2" height="6.71" fill="#8fdcec"/><rect x="295.80" y="76.17" width="2.2" height="2.2" fill="#55848d" opacity="0.8"/><rect x="289.00" y="80.60" width="5.3" height="6.71" fill="#a6e22a"/><rect x="294.30" y="80.60" width="5.2" height="6.71" fill="#cf8c98"/><rect x="295.80" y="82.83" width="2.2" height="2.2" fill="#7c545b" opacity="0.8"/><rect x="289.00" y="87.26" width="5.3" height="6.71" fill="#a6e22a"/><rect x="294.30" y="87.26" width="5.2" height="6.71" fill="#5078c0"/><rect x="295.80" y="89.49" width="2.2" height="2.2" fill="#304873" opacity="0.8"/><rect x="289.00" y="93.91" width="5.3" height="6.71" fill="#a6e22a"/><rect x="294.30" y="93.91" width="5.2" height="6.71" fill="#efe25a"/><rect x="295.80" y="96.14" width="2.2" height="2.2" fill="#8f8736" opacity="0.8"/><rect x="289.00" y="100.57" width="5.3" height="6.71" fill="#a6e22a"/><rect x="294.30" y="100.57" width="5.2" height="6.71" fill="#8a3fb0"/><rect x="295.80" y="102.80" width="2.2" height="2.2" fill="#522569" opacity="0.8"/><rect x="289.00" y="107.23" width="5.3" height="6.71" fill="#a6e22a"/><rect x="294.30" y="107.23" width="5.2" height="6.71" fill="#c9873a"/><rect x="295.80" y="109.46" width="2.2" height="2.2" fill="#785122" opacity="0.8"/><rect x="289.00" y="113.89" width="5.3" height="6.71" fill="#a6e22a"/><rect x="294.30" y="113.89" width="5.2" height="6.71" fill="#b5262b"/><rect x="295.80" y="116.11" width="2.2" height="2.2" fill="#6c1619" opacity="0.8"/><rect x="289.00" y="120.54" width="5.3" height="6.71" fill="#a6e22a"/><rect x="294.30" y="120.54" width="5.2" height="6.71" fill="#8fdcec"/><rect x="295.80" y="122.77" width="2.2" height="2.2" fill="#55848d" opacity="0.8"/>
<path fill="none" stroke="#b8b8b8" stroke-width="0.8" d="M6.0 35.9H24.2M10.0 41.2H24.2M10.0 46.5H24.2M10.0 51.7H24.2M6.0 57.0H24.2M8.0 62.2H24.2M8.0 67.5H24.2M7.5 72.8H24.2M7.5 78.0H24.2M8.3 83.3H24.2M10.4 88.5H24.2M10.4 93.8H24.2M8.3 99.1H24.2M8.3 104.3H24.2M8.3 109.6H24.2M8.0 114.8H24.2M7.5 120.1H24.2M7.5 125.4H24.2M4.5 46.5H6.0M4.5 64.8H8.0M5.5 75.4H7.5M5.5 99.1H8.3M3.5 55.0H4.5M3.5 95.0H5.5M2.5 120.0H6.0M2.5 75.0H3.5M10.0 41.2V51.7M6.0 35.9V57.0M8.0 62.2V67.5M4.5 46.5V64.9M7.5 72.8V78.0M10.4 88.5V93.8M8.3 83.3V109.6M5.5 75.4V99.1M7.5 120.1V125.4M6.0 114.8V122.7M3.5 55.0V95.0M2.5 75.0V120.0"/>
<path fill="none" stroke="#b8b8b8" stroke-width="0.8" d="M267.3 37.3H289.0M270.6 44.0H289.0M270.6 50.6H289.0M270.6 57.3H289.0M269.6 64.0H289.0M266.0 70.6H289.0M266.0 77.3H289.0M268.3 83.9H289.0M269.0 90.6H289.0M272.4 97.2H289.0M272.4 103.9H289.0M271.0 110.6H289.0M270.3 117.2H289.0M270.3 123.9H289.0M269.6 50.6H270.6M267.3 57.3H269.6M265.3 47.3H267.3M265.3 73.9H266.0M264.2 60.6H265.3M271.0 100.6H272.4M269.6 105.6H271.0M269.6 120.5H270.3M269.0 113.1H269.6M268.3 101.8H269.0M264.2 92.9H268.3M270.6 44.0V57.3M269.6 50.6V64.0M267.3 37.3V57.3M266.0 70.6V77.3M265.3 47.3V73.9M272.4 97.2V103.9M271.0 100.6V110.6M270.3 117.2V123.9M269.6 105.6V120.5M269.0 90.6V113.1M268.3 83.9V101.8M264.2 60.6V92.9"/>
<text x="45.60" y="134.50" font-family="Liberation Sans" font-size="4.80" fill="#2a2a2a" stroke="#2a2a2a" stroke-width="0.12" text-anchor="start" font-weight="normal" textLength="24.00" lengthAdjust="spacingAndGlyphs">CELL TYPE</text>
<rect x="72.40" y="131.60" width="3.00" height="3.00" fill="#2a18a8" stroke="#444" stroke-width="0.3"/>
<text x="77.70" y="134.50" font-family="Liberation Sans" font-size="4.80" fill="#2a2a2a" stroke="#2a2a2a" stroke-width="0.12" text-anchor="start" font-weight="normal" textLength="5.80" lengthAdjust="spacingAndGlyphs">PC</text>
<rect x="85.90" y="131.60" width="3.00" height="3.00" fill="#a8d870" stroke="#444" stroke-width="0.3"/>
<text x="92.50" y="134.50" font-family="Liberation Sans" font-size="4.80" fill="#2a2a2a" stroke="#2a2a2a" stroke-width="0.12" text-anchor="start" font-weight="normal" textLength="13.60" lengthAdjust="spacingAndGlyphs">PrePC</text>
<text x="114.10" y="134.50" font-family="Liberation Sans" font-size="4.80" fill="#2a2a2a" stroke="#2a2a2a" stroke-width="0.12" text-anchor="start" font-weight="normal" textLength="18.50" lengthAdjust="spacingAndGlyphs">PATIENT</text>
<rect x="135.20" y="131.60" width="3.00" height="3.00" fill="#b5262b" stroke="#444" stroke-width="0.3"/>
<text x="141.60" y="134.50" font-family="Liberation Sans" font-size="4.80" fill="#2a2a2a" stroke="#2a2a2a" stroke-width="0.12" text-anchor="start" font-weight="normal">1</text>
<rect x="146.20" y="131.60" width="3.00" height="3.00" fill="#c9873a" stroke="#444" stroke-width="0.3"/>
<text x="152.20" y="134.50" font-family="Liberation Sans" font-size="4.80" fill="#2a2a2a" stroke="#2a2a2a" stroke-width="0.12" text-anchor="start" font-weight="normal">2</text>
<rect x="156.40" y="131.60" width="3.00" height="3.00" fill="#efe25a" stroke="#444" stroke-width="0.3"/>
<text x="163.20" y="134.50" font-family="Liberation Sans" font-size="4.80" fill="#2a2a2a" stroke="#2a2a2a" stroke-width="0.12" text-anchor="start" font-weight="normal">3</text>
<rect x="168.20" y="131.60" width="3.00" height="3.00" fill="#8a3fb0" stroke="#444" stroke-width="0.3"/>
<text x="175.20" y="134.50" font-family="Liberation Sans" font-size="4.80" fill="#2a2a2a" stroke="#2a2a2a" stroke-width="0.12" text-anchor="start" font-weight="normal">4</text>
<rect x="179.30" y="131.60" width="3.00" height="3.00" fill="#cf8c98" stroke="#444" stroke-width="0.3"/>
<text x="186.00" y="134.50" font-family="Liberation Sans" font-size="4.80" fill="#2a2a2a" stroke="#2a2a2a" stroke-width="0.12" text-anchor="start" font-weight="normal">5</text>
<rect x="191.30" y="131.60" width="3.00" height="3.00" fill="#6abf4b" stroke="#444" stroke-width="0.3"/>
<text x="197.60" y="134.50" font-family="Liberation Sans" font-size="4.80" fill="#2a2a2a" stroke="#2a2a2a" stroke-width="0.12" text-anchor="start" font-weight="normal">6</text>
<rect x="201.30" y="131.60" width="3.00" height="3.00" fill="#8fdcec" stroke="#444" stroke-width="0.3"/>
<text x="208.30" y="134.50" font-family="Liberation Sans" font-size="4.80" fill="#2a2a2a" stroke="#2a2a2a" stroke-width="0.12" text-anchor="start" font-weight="normal">7</text>
<rect x="213.60" y="131.60" width="3.00" height="3.00" fill="#5078c0" stroke="#444" stroke-width="0.3"/>
<text x="219.40" y="134.50" font-family="Liberation Sans" font-size="4.80" fill="#2a2a2a" stroke="#2a2a2a" stroke-width="0.12" text-anchor="start" font-weight="normal">8</text>
<rect x="224.40" y="131.60" width="3.00" height="3.00" fill="#1f3a6a" stroke="#444" stroke-width="0.3"/>
<text x="230.60" y="134.50" font-family="Liberation Sans" font-size="4.80" fill="#2a2a2a" stroke="#2a2a2a" stroke-width="0.12" text-anchor="start" font-weight="normal">9</text>
<text x="310.40" y="134.90" font-family="Liberation Sans" font-size="4.80" fill="#2a2a2a" stroke="#2a2a2a" stroke-width="0.12" text-anchor="start" font-weight="normal" textLength="19.00" lengthAdjust="spacingAndGlyphs">PATIENT</text>
<rect x="333.30" y="132.00" width="3.00" height="3.00" fill="#b5262b" stroke="#444" stroke-width="0.3"/>
<text x="339.60" y="134.90" font-family="Liberation Sans" font-size="4.80" fill="#2a2a2a" stroke="#2a2a2a" stroke-width="0.12" text-anchor="start" font-weight="normal">1</text>
<rect x="344.50" y="132.00" width="3.00" height="3.00" fill="#c9873a" stroke="#444" stroke-width="0.3"/>
<text x="351.20" y="134.90" font-family="Liberation Sans" font-size="4.80" fill="#2a2a2a" stroke="#2a2a2a" stroke-width="0.12" text-anchor="start" font-weight="normal">2</text>
<rect x="356.50" y="132.00" width="3.00" height="3.00" fill="#efe25a" stroke="#444" stroke-width="0.3"/>
<text x="362.90" y="134.90" font-family="Liberation Sans" font-size="4.80" fill="#2a2a2a" stroke="#2a2a2a" stroke-width="0.12" text-anchor="start" font-weight="normal">3</text>
<rect x="368.60" y="132.00" width="3.00" height="3.00" fill="#8a3fb0" stroke="#444" stroke-width="0.3"/>
<text x="375.60" y="134.90" font-family="Liberation Sans" font-size="4.80" fill="#2a2a2a" stroke="#2a2a2a" stroke-width="0.12" text-anchor="start" font-weight="normal">4</text>
<rect x="380.90" y="132.00" width="3.00" height="3.00" fill="#cf8c98" stroke="#444" stroke-width="0.3"/>
<text x="387.60" y="134.90" font-family="Liberation Sans" font-size="4.80" fill="#2a2a2a" stroke="#2a2a2a" stroke-width="0.12" text-anchor="start" font-weight="normal">5</text>
<rect x="392.50" y="132.00" width="3.00" height="3.00" fill="#8fdcec" stroke="#444" stroke-width="0.3"/>
<text x="398.70" y="134.90" font-family="Liberation Sans" font-size="4.80" fill="#2a2a2a" stroke="#2a2a2a" stroke-width="0.12" text-anchor="start" font-weight="normal">7</text>
<rect x="404.40" y="132.00" width="3.00" height="3.00" fill="#5078c0" stroke="#444" stroke-width="0.3"/>
<text x="410.90" y="134.90" font-family="Liberation Sans" font-size="4.80" fill="#2a2a2a" stroke="#2a2a2a" stroke-width="0.12" text-anchor="start" font-weight="normal">8</text>
<text x="422.50" y="134.90" font-family="Liberation Sans" font-size="4.80" fill="#2a2a2a" stroke="#2a2a2a" stroke-width="0.12" text-anchor="start" font-weight="normal" textLength="24.30" lengthAdjust="spacingAndGlyphs">CELL TYPE</text>
<rect x="450.30" y="132.00" width="3.00" height="3.00" fill="#2a18a8" stroke="#444" stroke-width="0.3"/>
<text x="456.00" y="134.90" font-family="Liberation Sans" font-size="4.80" fill="#2a2a2a" stroke="#2a2a2a" stroke-width="0.12" text-anchor="start" font-weight="normal" textLength="6.00" lengthAdjust="spacingAndGlyphs">PC</text>
<rect x="465.30" y="132.00" width="3.00" height="3.00" fill="#a8d870" stroke="#444" stroke-width="0.3"/>
<text x="472.00" y="134.90" font-family="Liberation Sans" font-size="4.80" fill="#2a2a2a" stroke="#2a2a2a" stroke-width="0.12" text-anchor="start" font-weight="normal" textLength="14.00" lengthAdjust="spacingAndGlyphs">PrePC</text>
<defs><linearGradient id="gb" x1="0" x2="1" y1="0" y2="0"><stop offset="0" stop-color="#15166a"/><stop offset="0.22" stop-color="#2a2a90"/><stop offset="0.4" stop-color="#8484c0"/><stop offset="0.5" stop-color="#cfc8d8"/><stop offset="0.62" stop-color="#d8a0a8"/><stop offset="0.8" stop-color="#c43030"/><stop offset="1" stop-color="#9a0c0c"/></linearGradient></defs>
<rect x="38.2" y="136.4" width="208.3" height="2.3" fill="url(#gb)"/>
<rect x="302.5" y="136.9" width="205" height="2.1" fill="url(#gb)"/>
<text x="38.00" y="142.20" font-family="Liberation Sans" font-size="3.70" fill="#333" stroke="#333" stroke-width="0.12" text-anchor="start" font-weight="normal" textLength="9.00" lengthAdjust="spacingAndGlyphs">-2.60</text>
<text x="142.30" y="141.60" font-family="Liberation Sans" font-size="3.70" fill="#333" stroke="#333" stroke-width="0.12" text-anchor="middle" font-weight="normal" textLength="7.40" lengthAdjust="spacingAndGlyphs">0.00</text>
<text x="246.30" y="142.00" font-family="Liberation Sans" font-size="3.70" fill="#333" stroke="#333" stroke-width="0.12" text-anchor="end" font-weight="normal" textLength="8.20" lengthAdjust="spacingAndGlyphs">2.60</text>
<text x="302.30" y="142.80" font-family="Liberation Sans" font-size="3.70" fill="#333" stroke="#333" stroke-width="0.12" text-anchor="start" font-weight="normal" textLength="9.00" lengthAdjust="spacingAndGlyphs">-2.60</text>
<text x="405.00" y="142.60" font-family="Liberation Sans" font-size="3.70" fill="#333" stroke="#333" stroke-width="0.12" text-anchor="middle" font-weight="normal" textLength="7.60" lengthAdjust="spacingAndGlyphs">0.00</text>
<text x="507.00" y="142.60" font-family="Liberation Sans" font-size="3.70" fill="#333" stroke="#333" stroke-width="0.12" text-anchor="end" font-weight="normal" textLength="8.40" lengthAdjust="spacingAndGlyphs">2.60</text>
<text x="1.30" y="27.90" font-family="Liberation Sans" font-size="3.30" fill="#303030" stroke="#303030" stroke-width="0.12" text-anchor="start" font-weight="normal" textLength="21.80" lengthAdjust="spacingAndGlyphs">-4.8 -1.6 0.0 1.6 4.8</text>
<text x="4.50" y="29.90" font-family="Liberation Sans" font-size="1.80" fill="#888" stroke="#888" stroke-width="0.12" text-anchor="start" font-weight="normal" textLength="18.50" lengthAdjust="spacingAndGlyphs">0 1 2 3 4 5 6 7 8 9 0 1 2</text>
<text x="261.80" y="28.10" font-family="Liberation Sans" font-size="3.30" fill="#303030" stroke="#303030" stroke-width="0.12" text-anchor="start" font-weight="normal" textLength="27.60" lengthAdjust="spacingAndGlyphs">-1 -0 -0 -0 -0 -0 0 0 0</text>
<text x="265.00" y="30.20" font-family="Liberation Sans" font-size="1.80" fill="#888" stroke="#888" stroke-width="0.12" text-anchor="start" font-weight="normal" textLength="24.50" lengthAdjust="spacingAndGlyphs">0 1 2 3 4 5 6 7 8 9 0 1 2 3</text>
<rect x="249.6" y="5.2" width="7.8" height="24.2" fill="#f0f0f0"/>
<rect x="250.0" y="5.8" width="3.2" height="1.1" fill="#8c8c8c"/>
<rect x="253.7" y="5.8" width="3.4" height="1.1" fill="#a4a4a4"/>
<rect x="250.0" y="8.0" width="3.2" height="1.1" fill="#8c8c8c"/>
<rect x="253.7" y="8.0" width="3.4" height="1.1" fill="#a4a4a4"/>
<rect x="250.0" y="10.2" width="3.2" height="1.1" fill="#8c8c8c"/>
<rect x="253.7" y="10.2" width="3.4" height="1.1" fill="#a4a4a4"/>
<rect x="250.0" y="12.4" width="3.2" height="1.1" fill="#8c8c8c"/>
<rect x="253.7" y="12.4" width="3.4" height="1.1" fill="#a4a4a4"/>
<rect x="250.0" y="14.6" width="3.2" height="1.1" fill="#8c8c8c"/>
<rect x="253.7" y="14.6" width="3.4" height="1.1" fill="#a4a4a4"/>
<rect x="250.0" y="16.8" width="3.2" height="1.1" fill="#8c8c8c"/>
<rect x="253.7" y="16.8" width="3.4" height="1.1" fill="#a4a4a4"/>
<rect x="250.0" y="19.0" width="3.2" height="1.1" fill="#8c8c8c"/>
<rect x="253.7" y="19.0" width="3.4" height="1.1" fill="#a4a4a4"/>
<rect x="250.0" y="21.2" width="3.2" height="1.1" fill="#8c8c8c"/>
<rect x="253.7" y="21.2" width="3.4" height="1.1" fill="#a4a4a4"/>
<rect x="250.0" y="23.4" width="3.2" height="1.1" fill="#8c8c8c"/>
<rect x="253.7" y="23.4" width="3.4" height="1.1" fill="#a4a4a4"/>
<rect x="250.0" y="25.6" width="3.2" height="1.1" fill="#8c8c8c"/>
<rect x="253.7" y="25.6" width="3.4" height="1.1" fill="#a4a4a4"/>
<rect x="250.0" y="27.8" width="3.2" height="1.1" fill="#8c8c8c"/>
<rect x="253.7" y="27.8" width="3.4" height="1.1" fill="#a4a4a4"/>
<rect x="511.3" y="5.4" width="7.8" height="24.2" fill="#f0f0f0"/>
<rect x="511.7" y="6.0" width="3.2" height="1.1" fill="#8c8c8c"/>
<rect x="515.4" y="6.0" width="3.4" height="1.1" fill="#a4a4a4"/>
<rect x="511.7" y="8.2" width="3.2" height="1.1" fill="#8c8c8c"/>
<rect x="515.4" y="8.2" width="3.4" height="1.1" fill="#a4a4a4"/>
<rect x="511.7" y="10.4" width="3.2" height="1.1" fill="#8c8c8c"/>
<rect x="515.4" y="10.4" width="3.4" height="1.1" fill="#a4a4a4"/>
<rect x="511.7" y="12.6" width="3.2" height="1.1" fill="#8c8c8c"/>
<rect x="515.4" y="12.6" width="3.4" height="1.1" fill="#a4a4a4"/>
<rect x="511.7" y="14.8" width="3.2" height="1.1" fill="#8c8c8c"/>
<rect x="515.4" y="14.8" width="3.4" height="1.1" fill="#a4a4a4"/>
<rect x="511.7" y="17.0" width="3.2" height="1.1" fill="#8c8c8c"/>
<rect x="515.4" y="17.0" width="3.4" height="1.1" fill="#a4a4a4"/>
<rect x="511.7" y="19.2" width="3.2" height="1.1" fill="#8c8c8c"/>
<rect x="515.4" y="19.2" width="3.4" height="1.1" fill="#a4a4a4"/>
<rect x="511.7" y="21.4" width="3.2" height="1.1" fill="#8c8c8c"/>
<rect x="515.4" y="21.4" width="3.4" height="1.1" fill="#a4a4a4"/>
<rect x="511.7" y="23.6" width="3.2" height="1.1" fill="#8c8c8c"/>
<rect x="515.4" y="23.6" width="3.4" height="1.1" fill="#a4a4a4"/>
<rect x="511.7" y="25.8" width="3.2" height="1.1" fill="#8c8c8c"/>
<rect x="515.4" y="25.8" width="3.4" height="1.1" fill="#a4a4a4"/>
<rect x="511.7" y="28.0" width="3.2" height="1.1" fill="#8c8c8c"/>
<rect x="515.4" y="28.0" width="3.4" height="1.1" fill="#a4a4a4"/>
<path d="M404.7 2V6.3" stroke="#333" stroke-width="0.6"/>
<path d="M47.30 179.20V325.60M52.02 179.20V325.60M56.73 179.20V325.60M61.45 179.20V325.60M66.17 179.20V325.60M70.88 179.20V325.60M75.60 179.20V325.60M80.32 179.20V325.60M85.03 179.20V325.60M89.75 179.20V325.60M94.47 179.20V325.60M99.18 179.20V325.60M103.90 179.20V325.60M108.62 179.20V325.60M113.33 179.20V325.60M118.05 179.20V325.60M122.77 179.20V325.60M127.48 179.20V325.60M132.20 179.20V325.60M136.92 179.20V325.60M141.63 179.20V325.60M146.35 179.20V325.60M151.07 179.20V325.60M155.78 179.20V325.60M160.50 179.20V325.60M165.22 179.20V325.60M169.93 179.20V325.60M174.65 179.20V325.60M179.37 179.20V325.60M184.08 179.20V325.60M188.80 179.20V325.60M47.30 179.20H188.80M47.30 184.08H188.80M47.30 188.96H188.80M47.30 193.84H188.80M47.30 198.72H188.80M47.30 203.60H188.80M47.30 208.48H188.80M47.30 213.36H188.80M47.30 218.24H188.80M47.30 223.12H188.80M47.30 228.00H188.80M47.30 232.88H188.80M47.30 237.76H188.80M47.30 242.64H188.80M47.30 247.52H188.80M47.30 252.40H188.80M47.30 257.28H188.80M47.30 262.16H188.80M47.30 267.04H188.80M47.30 271.92H188.80M47.30 276.80H188.80M47.30 281.68H188.80M47.30 286.56H188.80M47.30 291.44H188.80M47.30 296.32H188.80M47.30 301.20H188.80M47.30 306.08H188.80M47.30 310.96H188.80M47.30 315.84H188.80M47.30 320.72H188.80M47.30 325.60H188.80" stroke="#dcdcdc" stroke-width="0.6" fill="none"/>
<path d="M47.30 179.20V325.60M61.45 179.20V325.60M75.60 179.20V325.60M89.75 179.20V325.60M103.90 179.20V325.60M118.05 179.20V325.60M132.20 179.20V325.60M146.35 179.20V325.60M160.50 179.20V325.60M174.65 179.20V325.60M188.80 179.20V325.60M47.30 179.20H188.80M47.30 193.84H188.80M47.30 208.48H188.80M47.30 223.12H188.80M47.30 237.76H188.80M47.30 252.40H188.80M47.30 267.04H188.80M47.30 281.68H188.80M47.30 296.32H188.80M47.30 310.96H188.80M47.30 325.60H188.80" stroke="#9c9c9c" stroke-width="0.9" fill="none"/>
<path d="M45.9 178.7V327.1" stroke="#8a8a8a" stroke-width="1.3"/>
<path d="M44.4 179.20H46M44.4 184.08H46M44.4 188.96H46M44.4 193.84H46M44.4 198.72H46M44.4 203.60H46M44.4 208.48H46M44.4 213.36H46M44.4 218.24H46M44.4 223.12H46M44.4 228.00H46M44.4 232.88H46M44.4 237.76H46M44.4 242.64H46M44.4 247.52H46M44.4 252.40H46M44.4 257.28H46M44.4 262.16H46M44.4 267.04H46M44.4 271.92H46M44.4 276.80H46M44.4 281.68H46M44.4 286.56H46M44.4 291.44H46M44.4 296.32H46M44.4 301.20H46M44.4 306.08H46M44.4 310.96H46M44.4 315.84H46M44.4 320.72H46M44.4 325.60H46" stroke="#8a8a8a" stroke-width="0.6"/>
<path d="M47 328.3H189.3" stroke="#8a8a8a" stroke-width="1.3"/>
<path d="M47.30 328.3V329.8M52.02 328.3V329.8M56.73 328.3V329.8M61.45 328.3V329.8M66.17 328.3V329.8M70.88 328.3V329.8M75.60 328.3V329.8M80.32 328.3V329.8M85.03 328.3V329.8M89.75 328.3V329.8M94.47 328.3V329.8M99.18 328.3V329.8M103.90 328.3V329.8M108.62 328.3V329.8M113.33 328.3V329.8M118.05 328.3V329.8M122.77 328.3V329.8M127.48 328.3V329.8M132.20 328.3V329.8M136.92 328.3V329.8M141.63 328.3V329.8M146.35 328.3V329.8M151.07 328.3V329.8M155.78 328.3V329.8M160.50 328.3V329.8M165.22 328.3V329.8M169.93 328.3V329.8M174.65 328.3V329.8M179.37 328.3V329.8M184.08 328.3V329.8M188.80 328.3V329.8" stroke="#8a8a8a" stroke-width="0.6"/>
<text x="44.1" y="181.60" font-family="Liberation Sans" font-size="6.6" fill="#1e1e1e" stroke="#1e1e1e" stroke-width="0.12" text-anchor="end" textLength="6.40" lengthAdjust="spacingAndGlyphs">32</text>
<text x="44.1" y="196.24" font-family="Liberation Sans" font-size="6.6" fill="#1e1e1e" stroke="#1e1e1e" stroke-width="0.12" text-anchor="end" textLength="11.30" lengthAdjust="spacingAndGlyphs">25.6</text>
<text x="44.1" y="210.88" font-family="Liberation Sans" font-size="6.6" fill="#1e1e1e" stroke="#1e1e1e" stroke-width="0.12" text-anchor="end" textLength="11.30" lengthAdjust="spacingAndGlyphs">19.2</text>
<text x="44.1" y="225.52" font-family="Liberation Sans" font-size="6.6" fill="#1e1e1e" stroke="#1e1e1e" stroke-width="0.12" text-anchor="end" textLength="11.30" lengthAdjust="spacingAndGlyphs">12.8</text>
<text x="44.1" y="240.16" font-family="Liberation Sans" font-size="6.6" fill="#1e1e1e" stroke="#1e1e1e" stroke-width="0.12" text-anchor="end" textLength="8.10" lengthAdjust="spacingAndGlyphs">6.4</text>
<text x="44.1" y="254.80" font-family="Liberation Sans" font-size="6.6" fill="#1e1e1e" stroke="#1e1e1e" stroke-width="0.12" text-anchor="end" textLength="3.20" lengthAdjust="spacingAndGlyphs">0</text>
<text x="44.1" y="269.44" font-family="Liberation Sans" font-size="6.6" fill="#1e1e1e" stroke="#1e1e1e" stroke-width="0.12" text-anchor="end" textLength="11.30" lengthAdjust="spacingAndGlyphs">-6.4</text>
<text x="44.1" y="284.08" font-family="Liberation Sans" font-size="6.6" fill="#1e1e1e" stroke="#1e1e1e" stroke-width="0.12" text-anchor="end" textLength="14.50" lengthAdjust="spacingAndGlyphs">-12.8</text>
<text x="44.1" y="298.72" font-family="Liberation Sans" font-size="6.6" fill="#1e1e1e" stroke="#1e1e1e" stroke-width="0.12" text-anchor="end" textLength="14.50" lengthAdjust="spacingAndGlyphs">-19.2</text>
<text x="44.1" y="313.36" font-family="Liberation Sans" font-size="6.6" fill="#1e1e1e" stroke="#1e1e1e" stroke-width="0.12" text-anchor="end" textLength="14.50" lengthAdjust="spacingAndGlyphs">-25.6</text>
<text x="44.1" y="328.00" font-family="Liberation Sans" font-size="6.6" fill="#1e1e1e" stroke="#1e1e1e" stroke-width="0.12" text-anchor="end" textLength="9.60" lengthAdjust="spacingAndGlyphs">-32</text>
<text x="47.30" y="337.6" font-family="Liberation Sans" font-size="6.6" fill="#1e1e1e" stroke="#1e1e1e" stroke-width="0.12" text-anchor="middle">-30</text>
<text x="61.45" y="337.6" font-family="Liberation Sans" font-size="6.6" fill="#1e1e1e" stroke="#1e1e1e" stroke-width="0.12" text-anchor="middle">-24</text>
<text x="75.60" y="337.6" font-family="Liberation Sans" font-size="6.6" fill="#1e1e1e" stroke="#1e1e1e" stroke-width="0.12" text-anchor="middle">-18</text>
<text x="89.75" y="337.6" font-family="Liberation Sans" font-size="6.6" fill="#1e1e1e" stroke="#1e1e1e" stroke-width="0.12" text-anchor="middle">-12</text>
<text x="103.90" y="337.6" font-family="Liberation Sans" font-size="6.6" fill="#1e1e1e" stroke="#1e1e1e" stroke-width="0.12" text-anchor="middle">-6</text>
<text x="118.05" y="337.6" font-family="Liberation Sans" font-size="6.6" fill="#1e1e1e" stroke="#1e1e1e" stroke-width="0.12" text-anchor="middle">0</text>
<text x="132.20" y="337.6" font-family="Liberation Sans" font-size="6.6" fill="#1e1e1e" stroke="#1e1e1e" stroke-width="0.12" text-anchor="middle">6</text>
<text x="146.35" y="337.6" font-family="Liberation Sans" font-size="6.6" fill="#1e1e1e" stroke="#1e1e1e" stroke-width="0.12" text-anchor="middle">12</text>
<text x="160.50" y="337.6" font-family="Liberation Sans" font-size="6.6" fill="#1e1e1e" stroke="#1e1e1e" stroke-width="0.12" text-anchor="middle">18</text>
<text x="174.65" y="337.6" font-family="Liberation Sans" font-size="6.6" fill="#1e1e1e" stroke="#1e1e1e" stroke-width="0.12" text-anchor="middle">24</text>
<text x="188.80" y="337.6" font-family="Liberation Sans" font-size="6.6" fill="#1e1e1e" stroke="#1e1e1e" stroke-width="0.12" text-anchor="middle">30</text>
<text x="118.5" y="348.0" font-family="Liberation Sans" font-size="6.4" fill="#1e1e1e" stroke="#1e1e1e" stroke-width="0.1" text-anchor="middle" textLength="35.4" lengthAdjust="spacingAndGlyphs">PC #1 24.2%</text>
<text transform="translate(30.6 252.3) rotate(-90)" font-family="Liberation Sans" font-size="6.4" fill="#1e1e1e" stroke="#1e1e1e" stroke-width="0.1" text-anchor="middle" textLength="37" lengthAdjust="spacingAndGlyphs">PC #2 13.4%</text>
<text x="103.00" y="162.80" font-family="Liberation Sans" font-size="3.40" fill="#333" stroke="#333" stroke-width="0.05" text-anchor="start" textLength="28.30" lengthAdjust="spacingAndGlyphs">PCA Mapping (37.7%)</text>
<rect x="47.8" y="164.8" width="42.5" height="6.8" fill="#fff" stroke="#b0b0b0" stroke-width="0.7"/>
<rect x="84" y="165.4" width="6" height="5.6" fill="#fafafa" stroke="#d0d0d0" stroke-width="0.5"/>
<text x="50.70" y="170.90" font-family="Liberation Sans" font-size="6.70" fill="#1e1e1e" stroke="#1e1e1e" stroke-width="0.12" text-anchor="start" textLength="32.20" lengthAdjust="spacingAndGlyphs">CELL TYPE</text>
<rect x="90.3" y="164.8" width="13.9" height="6.8" fill="#fff" stroke="#b0b0b0" stroke-width="0.7"/>
<rect x="90.9" y="165.4" width="3.9" height="5.6" fill="#fbe9dc"/>
<rect x="92.2" y="167.3" width="1.6" height="1.6" fill="#8a2a10"/>
<text x="95.30" y="170.90" font-family="Liberation Sans" font-size="6.70" fill="#1e1e1e" stroke="#1e1e1e" stroke-width="0.12" text-anchor="start" textLength="8.30" lengthAdjust="spacingAndGlyphs">PC</text>
<rect x="104.2" y="164.8" width="22.3" height="6.8" fill="#fff" stroke="#b0b0b0" stroke-width="0.7"/>
<rect x="104.6" y="165.4" width="3.7" height="5.6" fill="#dcdcf6"/>
<rect x="105.6" y="167.3" width="1.6" height="1.6" fill="#10108a"/>
<text x="108.80" y="170.90" font-family="Liberation Sans" font-size="6.70" fill="#1e1e1e" stroke="#1e1e1e" stroke-width="0.12" text-anchor="start" textLength="17.30" lengthAdjust="spacingAndGlyphs">PrePC</text>
<rect x="47.8" y="172.1" width="34.2" height="5.9" fill="#fff" stroke="#b0b0b0" stroke-width="0.7"/>
<text x="50.70" y="177.50" font-family="Liberation Sans" font-size="6.70" fill="#1e1e1e" stroke="#1e1e1e" stroke-width="0.12" text-anchor="start" textLength="24.50" lengthAdjust="spacingAndGlyphs">PATIENT</text>
<rect x="82" y="172.1" width="58.6" height="5.9" fill="#fff" stroke="#b0b0b0" stroke-width="0.7"/>
<rect x="136.5" y="172.5" width="4" height="5.2" fill="#d6d6d6"/>
<rect x="84.70" y="174.4" width="1.6" height="1.6" fill="#111"/>
<text x="86.90" y="177.60" font-family="Liberation Sans" font-size="6.70" fill="#1e1e1e" stroke="#1e1e1e" stroke-width="0.12" text-anchor="start" textLength="3.60" lengthAdjust="spacingAndGlyphs">1</text>
<rect x="92.45" y="174.4" width="1.6" height="1.6" fill="#111"/>
<text x="94.65" y="177.60" font-family="Liberation Sans" font-size="6.70" fill="#1e1e1e" stroke="#1e1e1e" stroke-width="0.12" text-anchor="start" textLength="3.60" lengthAdjust="spacingAndGlyphs">2</text>
<rect x="100.20" y="174.4" width="1.6" height="1.6" fill="#111"/>
<text x="102.40" y="177.60" font-family="Liberation Sans" font-size="6.70" fill="#1e1e1e" stroke="#1e1e1e" stroke-width="0.12" text-anchor="start" textLength="3.60" lengthAdjust="spacingAndGlyphs">3</text>
<rect x="107.95" y="174.4" width="1.6" height="1.6" fill="#111"/>
<text x="110.15" y="177.60" font-family="Liberation Sans" font-size="6.70" fill="#1e1e1e" stroke="#1e1e1e" stroke-width="0.12" text-anchor="start" textLength="3.60" lengthAdjust="spacingAndGlyphs">4</text>
<rect x="115.70" y="174.4" width="1.6" height="1.6" fill="#111"/>
<text x="117.90" y="177.60" font-family="Liberation Sans" font-size="6.70" fill="#1e1e1e" stroke="#1e1e1e" stroke-width="0.12" text-anchor="start" textLength="3.60" lengthAdjust="spacingAndGlyphs">5</text>
<rect x="123.45" y="174.4" width="1.6" height="1.6" fill="#111"/>
<text x="125.65" y="177.60" font-family="Liberation Sans" font-size="6.70" fill="#1e1e1e" stroke="#1e1e1e" stroke-width="0.12" text-anchor="start" textLength="3.60" lengthAdjust="spacingAndGlyphs">7</text>
<rect x="131.20" y="174.4" width="1.6" height="1.6" fill="#111"/>
<text x="133.40" y="177.60" font-family="Liberation Sans" font-size="6.70" fill="#1e1e1e" stroke="#1e1e1e" stroke-width="0.12" text-anchor="start" textLength="3.60" lengthAdjust="spacingAndGlyphs">8</text>
<circle cx="66.90" cy="217.70" r="3.90" fill="#aa1d17" stroke="#6e0c0c" stroke-width="0.90"/>
<rect x="62.15" y="233.25" width="8.30" height="8.30" fill="#aa1d17" stroke="#6e0c0c" stroke-width="0.60"/>
<path d="M79.00 239.90L83.30 247.47L74.70 247.47z" fill="#aa1d17" stroke="#6e0c0c" stroke-width="0.60"/>
<path d="M55.70 243.80L59.90 248.00L55.70 252.20L51.50 248.00z" fill="#aa1d17" stroke="#6e0c0c" stroke-width="0.60"/>
<polygon points="77.20,269.70 74.95,273.60 70.45,273.60 68.20,269.70 70.45,265.80 74.95,265.80" fill="#aa1d17" stroke="#6e0c0c" stroke-width="0.60"/>
<circle cx="85.60" cy="266.60" r="4.20" fill="#aa1d17" stroke="#6e0c0c" stroke-width="0.90"/>
<polygon points="98.00,312.80 95.75,316.70 91.25,316.70 89.00,312.80 91.25,308.90 95.75,308.90" fill="#aa1d17" stroke="#6e0c0c" stroke-width="0.60"/>
<circle cx="166.70" cy="194.60" r="3.80" fill="#1717cc" stroke="#0a0a78" stroke-width="0.90"/>
<rect x="177.60" y="211.20" width="8.00" height="8.00" fill="#1717cc" stroke="#0a0a78" stroke-width="0.60"/>
<path d="M140.60 236.20L144.40 240.00L140.60 243.80L136.80 240.00z" fill="#1717cc" stroke="#0a0a78" stroke-width="0.60"/>
<path d="M147.60 242.70L151.90 250.27L143.30 250.27z" fill="#1717cc" stroke="#0a0a78" stroke-width="0.60"/>
<circle cx="155.00" cy="256.20" r="4.10" fill="#1717cc" stroke="#0a0a78" stroke-width="0.90"/>
<polygon points="168.70,268.00 166.35,272.07 161.65,272.07 159.30,268.00 161.65,263.93 166.35,263.93" fill="#1717cc" stroke="#0a0a78" stroke-width="0.60"/>
<polygon points="185.60,321.10 183.35,325.00 178.85,325.00 176.60,321.10 178.85,317.20 183.35,317.20" fill="#1717cc" stroke="#0a0a78" stroke-width="0.60"/>
<g stroke="#505050" stroke-width="0.9" fill="#a3a3a3">
<rect x="339.10" y="168.10" width="56.40" height="10.60"/>
<rect x="339.10" y="181.13" width="59.60" height="10.60"/>
<rect x="339.10" y="194.16" width="59.60" height="10.60"/>
<rect x="339.10" y="207.19" width="59.40" height="10.60"/>
<rect x="339.10" y="220.22" width="61.60" height="10.60"/>
<rect x="339.10" y="233.25" width="64.20" height="10.60"/>
<rect x="339.10" y="246.28" width="87.50" height="10.60"/>
<rect x="339.10" y="259.31" width="92.30" height="10.60"/>
<rect x="339.10" y="272.34" width="116.90" height="10.60"/>
<rect x="339.10" y="285.37" width="141.90" height="10.60"/>
<rect x="339.10" y="298.40" width="159.70" height="10.60"/>
<rect x="339.10" y="311.43" width="170.50" height="10.60"/>
<rect x="339.10" y="324.46" width="171.90" height="10.60"/>
</g>
<g font-family="Liberation Sans" font-size="8.66" font-weight="bold" fill="#1a1a1a" stroke="#1a1a1a" stroke-width="0.18" text-anchor="end">
<text x="336.9" y="174.00">RNA localization</text>
<text x="336.9" y="187.43">RNA transport</text>
<text x="336.9" y="200.86">Est. RNA localization</text>
<text x="336.9" y="214.29">Nucleic acid transport</text>
<text x="336.9" y="227.72">Intracellular transport</text>
<text x="336.9" y="241.15">Chromatin remodeling</text>
<text x="336.9" y="254.58">mRNA processing</text>
<text x="336.9" y="268.01">RNA processing</text>
<text x="336.9" y="281.44">mRNA metabolic process</text>
<text x="336.9" y="294.87">RNA splicing</text>
<text x="336.9" y="308.30">Chromosome organization</text>
<text x="336.9" y="321.73">Chromatin modification</text>
<text x="336.9" y="335.16">Chromatin organization</text>
</g>
<path d="M339.4 341.3H485M339.4 341.3V344M375.9 341.3V344M412.4 341.3V344M448.9 341.3V344M485.2 341.3V344" stroke="#555" stroke-width="0.9" fill="none"/>
<g font-family="Liberation Sans" font-size="9.9" font-weight="bold" fill="#1a1a1a" stroke="#1a1a1a" stroke-width="0.25" text-anchor="middle">
<text x="339.30" y="358.6">0</text>
<text x="375.80" y="358.6">2</text>
<text x="412.30" y="358.6">4</text>
<text x="448.80" y="358.6">6</text>
<text x="485.30" y="358.6">8</text>
</g>
<text x="413.8" y="371.8" font-family="Liberation Sans" font-size="9.9" font-weight="bold" fill="#1a1a1a" stroke="#1a1a1a" stroke-width="0.25" text-anchor="middle">-Log<tspan font-size="6.6" dy="1.9">10</tspan><tspan dy="-1.9">(p)</tspan></text>
</svg>
</body></html>
